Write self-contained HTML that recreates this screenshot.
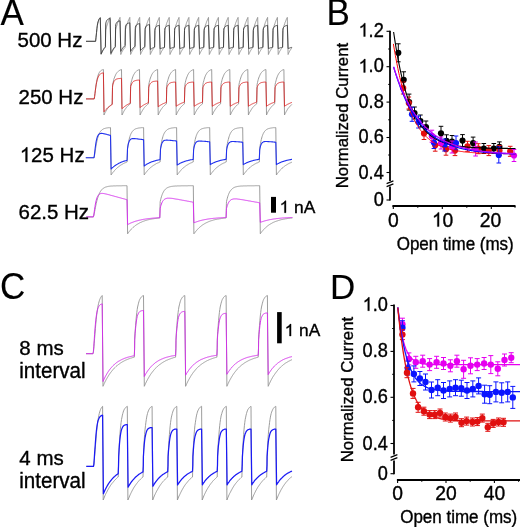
<!DOCTYPE html>
<html><head><meta charset="utf-8"><style>
html,body{margin:0;padding:0;background:#fff;}
svg{display:block;will-change:transform;}
text{font-family:"Liberation Sans", sans-serif;fill:#000;white-space:pre;stroke:#000;stroke-width:0.35px;}
.L{stroke-width:0.12px;}
</style></head><body>
<svg width="520" height="527" viewBox="0 0 520 527" xml:space="preserve">
<rect width="520" height="527" fill="#fff"/>
<path d="M86.0,41.3L95.6,41.3L96.0,37.9L96.5,33.6L96.9,29.7L97.3,26.4L97.7,23.9L98.2,22.0L98.6,20.5L99.0,19.3L99.4,18.5L99.9,17.9L100.3,17.4L101.1,54.5L101.5,53.5L102.0,52.6L102.4,51.7L102.8,50.9L103.3,50.2L103.7,49.5L104.1,48.9L104.6,48.3L105.0,47.8L105.4,47.3L105.7,30.9L105.9,29.2L106.3,27.7L106.7,26.3L107.1,24.9L107.6,23.6L108.0,22.4L108.4,21.3L108.9,20.2L109.3,19.2L109.7,18.3L110.1,17.4L110.9,54.5L111.4,53.5L111.8,52.6L112.2,51.7L112.7,50.9L113.1,50.2L113.5,49.5L114.0,48.9L114.4,48.3L114.8,47.8L115.3,47.3L115.6,30.9L115.7,29.2L116.1,27.7L116.6,26.3L117.0,24.9L117.4,23.6L117.8,22.4L118.3,21.3L118.7,20.2L119.1,19.2L119.6,18.3L120.0,17.4L120.8,54.5L121.2,53.5L121.6,52.6L122.1,51.7L122.5,50.9L122.9,50.2L123.4,49.5L123.8,48.9L124.3,48.3L124.7,47.8L125.1,47.3L125.4,30.9L125.5,29.2L126.0,27.7L126.4,26.3L126.8,24.9L127.3,23.6L127.7,22.4L128.1,21.3L128.5,20.2L129.0,19.2L129.4,18.3L129.8,17.4L130.6,54.5L131.1,53.5L131.5,52.6L131.9,51.7L132.4,50.9L132.8,50.2L133.2,49.5L133.7,48.9L134.1,48.3L134.5,47.8L135.0,47.3L135.3,30.9L135.4,29.2L135.8,27.7L136.2,26.3L136.7,24.9L137.1,23.6L137.5,22.4L138.0,21.3L138.4,20.2L138.8,19.2L139.2,18.3L139.7,17.4L140.5,54.5L140.9,53.5L141.3,52.6L141.8,51.7L142.2,50.9L142.6,50.2L143.1,49.5L143.5,48.9L143.9,48.3L144.4,47.8L144.8,47.3L145.1,30.9L145.2,29.2L145.7,27.7L146.1,26.3L146.5,24.9L146.9,23.6L147.4,22.4L147.8,21.3L148.2,20.2L148.6,19.2L149.1,18.3L149.5,17.4L150.3,54.5L150.7,53.5L151.2,52.6L151.6,51.7L152.0,50.9L152.5,50.2L152.9,49.5L153.3,48.9L153.8,48.3L154.2,47.8L154.6,47.3L154.9,30.9L155.1,29.2L155.5,27.7L155.9,26.3L156.3,24.9L156.8,23.6L157.2,22.4L157.6,21.3L158.1,20.2L158.5,19.2L158.9,18.3L159.3,17.4L160.1,54.5L160.6,53.5L161.0,52.6L161.4,51.7L161.9,50.9L162.3,50.2L162.7,49.5L163.2,48.9L163.6,48.3L164.0,47.8L164.5,47.3L164.8,30.9L164.9,29.2L165.3,27.7L165.8,26.3L166.2,24.9L166.6,23.6L167.0,22.4L167.5,21.3L167.9,20.2L168.3,19.2L168.8,18.3L169.2,17.4L170.0,54.5L170.4,53.5L170.8,52.6L171.3,51.7L171.7,50.9L172.1,50.2L172.6,49.5L173.0,48.9L173.5,48.3L173.9,47.8L174.3,47.3L174.6,30.9L174.7,29.2L175.2,27.7L175.6,26.3L176.0,24.9L176.5,23.6L176.9,22.4L177.3,21.3L177.7,20.2L178.2,19.2L178.6,18.3L179.0,17.4L179.8,54.5L180.3,53.5L180.7,52.6L181.1,51.7L181.6,50.9L182.0,50.2L182.4,49.5L182.9,48.9L183.3,48.3L183.7,47.8L184.2,47.3L184.5,30.9L184.6,29.2L185.0,27.7L185.4,26.3L185.9,24.9L186.3,23.6L186.7,22.4L187.2,21.3L187.6,20.2L188.0,19.2L188.4,18.3L188.9,17.4L189.7,54.5L190.1,53.5L190.5,52.6L191.0,51.7L191.4,50.9L191.8,50.2L192.3,49.5L192.7,48.9L193.1,48.3L193.6,47.8L194.0,47.3L194.3,30.9L194.4,29.2L194.9,27.7L195.3,26.3L195.7,24.9L196.1,23.6L196.6,22.4L197.0,21.3L197.4,20.2L197.8,19.2L198.3,18.3L198.7,17.4L199.5,54.5L199.9,53.5L200.4,52.6L200.8,51.7L201.2,50.9L201.7,50.2L202.1,49.5L202.5,48.9L203.0,48.3L203.4,47.8L203.8,47.3L204.1,30.9L204.3,29.2L204.7,27.7L205.1,26.3L205.5,24.9L206.0,23.6L206.4,22.4L206.8,21.3L207.3,20.2L207.7,19.2L208.1,18.3L208.5,17.4L209.3,54.5L209.8,53.5L210.2,52.6L210.6,51.7L211.1,50.9L211.5,50.2L211.9,49.5L212.4,48.9L212.8,48.3L213.2,47.8L213.7,47.3L214.0,30.9L214.1,29.2L214.5,27.7L215.0,26.3L215.4,24.9L215.8,23.6L216.2,22.4L216.7,21.3L217.1,20.2L217.5,19.2L218.0,18.3L218.4,17.4L219.2,54.5L219.6,53.5L220.0,52.6L220.5,51.7L220.9,50.9L221.3,50.2L221.8,49.5L222.2,48.9L222.7,48.3L223.1,47.8L223.5,47.3L223.8,30.9L223.9,29.2L224.4,27.7L224.8,26.3L225.2,24.9L225.7,23.6L226.1,22.4L226.5,21.3L226.9,20.2L227.4,19.2L227.8,18.3L228.2,17.4L229.0,54.5L229.5,53.5L229.9,52.6L230.3,51.7L230.8,50.9L231.2,50.2L231.6,49.5L232.1,48.9L232.5,48.3L232.9,47.8L233.4,47.3L233.7,30.9L233.8,29.2L234.2,27.7L234.6,26.3L235.1,24.9L235.5,23.6L235.9,22.4L236.4,21.3L236.8,20.2L237.2,19.2L237.6,18.3L238.1,17.4L238.9,54.5L239.3,53.5L239.7,52.6L240.2,51.7L240.6,50.9L241.0,50.2L241.5,49.5L241.9,48.9L242.3,48.3L242.8,47.8L243.2,47.3L243.5,30.9L243.6,29.2L244.1,27.7L244.5,26.3L244.9,24.9L245.3,23.6L245.8,22.4L246.2,21.3L246.6,20.2L247.0,19.2L247.5,18.3L247.9,17.4L248.7,54.5L249.1,53.5L249.6,52.6L250.0,51.7L250.4,50.9L250.9,50.2L251.3,49.5L251.7,48.9L252.2,48.3L252.6,47.8L253.0,47.3L253.3,30.9L253.5,29.2L253.9,27.7L254.3,26.3L254.7,24.9L255.2,23.6L255.6,22.4L256.0,21.3L256.5,20.2L256.9,19.2L257.3,18.3L257.7,17.4L258.5,54.5L259.0,53.5L259.4,52.6L259.8,51.7L260.3,50.9L260.7,50.2L261.1,49.5L261.6,48.9L262.0,48.3L262.4,47.8L262.9,47.3L263.2,30.9L263.3,29.2L263.7,27.7L264.2,26.3L264.6,24.9L265.0,23.6L265.4,22.4L265.9,21.3L266.3,20.2L266.7,19.2L267.2,18.3L267.6,17.4L268.4,54.5L268.8,53.5L269.2,52.6L269.7,51.7L270.1,50.9L270.6,50.2L271.0,49.5L271.4,48.9L271.9,48.3L272.3,47.8L272.7,47.3L273.0,30.9L273.1,29.2L273.6,27.7L274.0,26.3L274.4,24.9L274.9,23.6L275.3,22.4L275.7,21.3L276.1,20.2L276.6,19.2L277.0,18.3L277.4,17.4L278.2,54.5L278.7,53.5L279.1,52.6L279.5,51.7L280.0,50.9L280.4,50.2L280.8,49.5L281.3,48.9L281.7,48.3L282.1,47.8L282.6,47.3L282.9,30.9L283.0,29.2L283.4,27.7L283.8,26.3L284.3,24.9L284.7,23.6L285.1,22.4L285.6,21.3L286.0,20.2L286.4,19.2L286.8,18.3L287.3,17.4L288.1,54.5L288.5,53.5L288.9,52.6L289.4,51.7L289.8,50.9L290.2,50.2L290.7,49.5L291.1,48.9L291.6,48.3L292.0,47.7" fill="none" stroke="#929292" stroke-width="0.9" stroke-linejoin="round" opacity="1.0"/>
<path d="M86.0,41.3L95.6,41.3L96.0,37.3L96.5,32.5L96.9,28.5L97.3,25.4L97.7,23.1L98.2,21.4L98.6,20.2L99.0,19.3L99.4,18.7L99.9,18.2L100.3,17.9L101.1,53.9L101.5,52.9L102.0,52.0L102.4,51.1L102.8,50.3L103.3,49.6L103.7,48.9L104.1,48.3L104.6,47.8L105.0,47.2L105.4,46.8L105.7,25.0L105.9,22.8L106.3,21.5L106.7,20.6L107.1,20.0L107.6,19.5L108.0,19.2L108.4,19.0L108.9,18.8L109.3,18.7L109.7,18.5L110.1,18.4L110.9,53.4L111.4,52.4L111.8,51.5L112.2,50.7L112.7,50.0L113.1,49.3L113.5,48.6L114.0,48.0L114.4,47.5L114.8,47.0L115.3,46.6L115.6,26.8L115.7,24.8L116.1,23.6L116.6,22.8L117.0,22.2L117.4,21.8L117.8,21.5L118.3,21.3L118.7,21.2L119.1,21.0L119.6,20.9L120.0,20.8L120.8,51.4L121.2,50.6L121.6,49.8L122.1,49.1L122.5,48.4L122.9,47.8L123.4,47.3L123.8,46.8L124.3,46.3L124.7,45.9L125.1,45.5L125.4,27.9L125.5,26.2L126.0,25.1L126.4,24.4L126.8,23.9L127.3,23.6L127.7,23.4L128.1,23.2L128.5,23.1L129.0,23.0L129.4,22.9L129.8,22.8L130.6,51.4L131.1,50.7L131.5,50.0L131.9,49.4L132.4,48.9L132.8,48.3L133.2,47.8L133.7,47.4L134.1,47.0L134.5,46.6L135.0,46.2L135.3,28.8L135.4,27.2L135.8,26.0L136.2,25.3L136.7,24.8L137.1,24.5L137.5,24.2L138.0,24.0L138.4,23.9L138.8,23.7L139.2,23.6L139.7,23.5L140.5,50.5L140.9,50.0L141.3,49.6L141.8,49.1L142.2,48.7L142.6,48.3L143.1,47.9L143.5,47.6L143.9,47.3L144.4,46.9L144.8,46.6L145.1,29.7L145.2,28.1L145.7,27.0L146.1,26.3L146.5,25.8L146.9,25.5L147.4,25.2L147.8,25.0L148.2,24.9L148.6,24.7L149.1,24.6L149.5,24.5L150.3,49.5L150.7,49.2L151.2,48.9L151.6,48.7L152.0,48.4L152.5,48.1L152.9,47.9L153.3,47.7L153.8,47.4L154.2,47.2L154.6,47.0L154.9,30.4L155.1,28.8L155.5,27.8L155.9,27.1L156.3,26.6L156.8,26.2L157.2,26.0L157.6,25.8L158.1,25.7L158.5,25.5L158.9,25.4L159.3,25.3L160.1,48.8L160.6,48.6L161.0,48.5L161.4,48.3L161.9,48.2L162.3,48.0L162.7,47.9L163.2,47.7L163.6,47.6L164.0,47.5L164.5,47.3L164.8,30.5L164.9,28.9L165.3,27.8L165.8,27.1L166.2,26.6L166.6,26.3L167.0,26.0L167.5,25.8L167.9,25.7L168.3,25.5L168.8,25.4L169.2,25.3L170.0,48.6L170.4,48.4L170.8,48.3L171.3,48.1L171.7,48.0L172.1,47.8L172.6,47.7L173.0,47.6L173.5,47.4L173.9,47.3L174.3,47.2L174.6,30.5L174.7,28.8L175.2,27.8L175.6,27.1L176.0,26.6L176.5,26.3L176.9,26.0L177.3,25.8L177.7,25.7L178.2,25.5L178.6,25.4L179.0,25.3L179.8,48.6L180.3,48.4L180.7,48.3L181.1,48.1L181.6,48.0L182.0,47.8L182.4,47.7L182.9,47.6L183.3,47.4L183.7,47.3L184.2,47.2L184.5,30.5L184.6,28.8L185.0,27.8L185.4,27.1L185.9,26.6L186.3,26.3L186.7,26.0L187.2,25.8L187.6,25.7L188.0,25.5L188.4,25.4L188.9,25.3L189.7,48.6L190.1,48.4L190.5,48.3L191.0,48.1L191.4,48.0L191.8,47.8L192.3,47.7L192.7,47.6L193.1,47.4L193.6,47.3L194.0,47.2L194.3,30.5L194.4,28.8L194.9,27.8L195.3,27.1L195.7,26.6L196.1,26.3L196.6,26.0L197.0,25.8L197.4,25.7L197.8,25.5L198.3,25.4L198.7,25.3L199.5,48.6L199.9,48.4L200.4,48.3L200.8,48.1L201.2,48.0L201.7,47.8L202.1,47.7L202.5,47.6L203.0,47.4L203.4,47.3L203.8,47.2L204.1,30.5L204.3,28.8L204.7,27.8L205.1,27.1L205.5,26.6L206.0,26.3L206.4,26.0L206.8,25.8L207.3,25.7L207.7,25.5L208.1,25.4L208.5,25.3L209.3,48.6L209.8,48.4L210.2,48.3L210.6,48.1L211.1,48.0L211.5,47.8L211.9,47.7L212.4,47.6L212.8,47.4L213.2,47.3L213.7,47.2L214.0,30.5L214.1,28.8L214.5,27.8L215.0,27.1L215.4,26.6L215.8,26.3L216.2,26.0L216.7,25.8L217.1,25.7L217.5,25.5L218.0,25.4L218.4,25.3L219.2,48.6L219.6,48.4L220.0,48.3L220.5,48.1L220.9,48.0L221.3,47.8L221.8,47.7L222.2,47.6L222.7,47.4L223.1,47.3L223.5,47.2L223.8,30.5L223.9,28.8L224.4,27.8L224.8,27.1L225.2,26.6L225.7,26.3L226.1,26.0L226.5,25.8L226.9,25.7L227.4,25.5L227.8,25.4L228.2,25.3L229.0,48.6L229.5,48.4L229.9,48.3L230.3,48.1L230.8,48.0L231.2,47.8L231.6,47.7L232.1,47.6L232.5,47.4L232.9,47.3L233.4,47.2L233.7,30.5L233.8,28.8L234.2,27.8L234.6,27.1L235.1,26.6L235.5,26.3L235.9,26.0L236.4,25.8L236.8,25.7L237.2,25.5L237.6,25.4L238.1,25.3L238.9,48.6L239.3,48.4L239.7,48.3L240.2,48.1L240.6,48.0L241.0,47.8L241.5,47.7L241.9,47.6L242.3,47.4L242.8,47.3L243.2,47.2L243.5,30.5L243.6,28.8L244.1,27.8L244.5,27.1L244.9,26.6L245.3,26.3L245.8,26.0L246.2,25.8L246.6,25.7L247.0,25.5L247.5,25.4L247.9,25.3L248.7,48.6L249.1,48.4L249.6,48.3L250.0,48.1L250.4,48.0L250.9,47.8L251.3,47.7L251.7,47.6L252.2,47.4L252.6,47.3L253.0,47.2L253.3,30.5L253.5,28.8L253.9,27.8L254.3,27.1L254.7,26.6L255.2,26.3L255.6,26.0L256.0,25.8L256.5,25.7L256.9,25.5L257.3,25.4L257.7,25.3L258.5,48.6L259.0,48.4L259.4,48.3L259.8,48.1L260.3,48.0L260.7,47.8L261.1,47.7L261.6,47.6L262.0,47.4L262.4,47.3L262.9,47.2L263.2,30.5L263.3,28.8L263.7,27.8L264.2,27.1L264.6,26.6L265.0,26.3L265.4,26.0L265.9,25.8L266.3,25.7L266.7,25.5L267.2,25.4L267.6,25.3L268.4,48.6L268.8,48.4L269.2,48.3L269.7,48.1L270.1,48.0L270.6,47.8L271.0,47.7L271.4,47.6L271.9,47.4L272.3,47.3L272.7,47.2L273.0,30.5L273.1,28.8L273.6,27.8L274.0,27.1L274.4,26.6L274.9,26.3L275.3,26.0L275.7,25.8L276.1,25.7L276.6,25.5L277.0,25.4L277.4,25.3L278.2,48.6L278.7,48.4L279.1,48.3L279.5,48.1L280.0,48.0L280.4,47.8L280.8,47.7L281.3,47.6L281.7,47.4L282.1,47.3L282.6,47.2L282.9,30.5L283.0,28.8L283.4,27.8L283.8,27.1L284.3,26.6L284.7,26.3L285.1,26.0L285.6,25.8L286.0,25.7L286.4,25.5L286.8,25.4L287.3,25.3L288.1,48.6L288.5,48.4L288.9,48.3L289.4,48.1L289.8,48.0L290.2,47.8L290.7,47.7L291.1,47.6L291.6,47.4L292.0,47.3" fill="none" stroke="#3a3a3a" stroke-width="0.9" stroke-linejoin="round" opacity="1.0"/>
<path d="M86.0,98.9L94.2,98.9L94.6,96.6L95.0,93.3L95.4,90.0L95.8,86.8L96.2,84.0L96.6,81.6L97.0,79.5L97.4,77.8L97.8,76.3L98.2,75.0L98.6,74.0L99.0,73.1L99.4,72.4L99.8,71.8L100.2,71.3L100.6,70.9L101.0,70.6L101.4,70.3L101.8,70.1L102.2,69.9L102.6,69.7L103.0,69.6L103.4,69.5L104.0,115.0L104.4,114.1L104.8,113.2L105.2,112.4L105.7,111.6L106.1,110.9L106.5,110.2L106.9,109.6L107.3,108.9L107.7,108.4L108.1,107.8L108.5,107.3L109.0,106.8L109.4,106.4L109.8,106.0L110.2,105.6L110.6,105.2L111.0,104.8L111.4,104.5L111.8,104.2L112.2,103.9L112.5,86.7L112.7,84.5L113.0,82.7L113.5,81.0L113.8,79.5L114.2,78.2L114.7,77.1L115.0,76.1L115.5,75.2L115.8,74.4L116.2,73.7L116.7,73.1L117.0,72.6L117.5,72.1L117.9,71.7L118.2,71.3L118.7,71.0L119.0,70.7L119.5,70.4L119.9,70.2L120.2,70.0L120.7,69.8L121.0,69.6L121.5,69.5L122.0,115.0L122.5,114.1L122.9,113.2L123.3,112.4L123.7,111.6L124.1,110.9L124.5,110.2L124.9,109.6L125.4,108.9L125.8,108.4L126.2,107.8L126.6,107.3L127.0,106.8L127.4,106.4L127.8,106.0L128.2,105.6L128.7,105.2L129.1,104.8L129.5,104.5L129.9,104.2L130.3,103.9L130.6,86.7L130.7,84.5L131.1,82.5L131.6,80.8L132.0,79.3L132.4,78.0L132.8,76.8L133.2,75.8L133.6,74.9L134.1,74.1L134.5,73.4L134.9,72.8L135.3,72.3L135.7,71.8L136.2,71.4L136.6,71.1L137.0,70.7L137.4,70.5L137.8,70.2L138.2,70.0L138.7,69.8L139.1,69.6L139.5,69.5L140.1,115.0L140.5,114.1L140.9,113.2L141.3,112.4L141.8,111.6L142.2,110.9L142.6,110.2L143.0,109.6L143.4,108.9L143.8,108.4L144.2,107.8L144.6,107.3L145.1,106.8L145.5,106.4L145.9,106.0L146.3,105.6L146.7,105.2L147.1,104.8L147.5,104.5L147.9,104.2L148.4,103.9L148.7,86.7L148.8,84.5L149.2,82.5L149.6,80.8L150.0,79.3L150.4,78.0L150.9,76.8L151.3,75.8L151.7,74.9L152.1,74.1L152.5,73.4L153.0,72.8L153.4,72.3L153.8,71.8L154.2,71.4L154.6,71.1L155.0,70.7L155.5,70.5L155.9,70.2L156.3,70.0L156.7,69.8L157.1,69.6L157.6,69.5L158.2,115.0L158.6,114.1L159.0,113.2L159.4,112.4L159.8,111.6L160.2,110.9L160.6,110.2L161.0,109.6L161.5,108.9L161.9,108.4L162.3,107.8L162.7,107.3L163.1,106.8L163.5,106.4L163.9,106.0L164.3,105.6L164.8,105.2L165.2,104.8L165.6,104.5L166.0,104.2L166.4,103.9L166.7,86.7L166.8,84.5L167.2,82.5L167.7,80.8L168.1,79.3L168.5,78.0L168.9,76.8L169.3,75.8L169.7,74.9L170.2,74.1L170.6,73.4L171.0,72.8L171.4,72.3L171.8,71.8L172.3,71.4L172.7,71.1L173.1,70.7L173.5,70.5L173.9,70.2L174.3,70.0L174.8,69.8L175.2,69.6L175.6,69.5L176.2,115.0L176.6,114.1L177.0,113.2L177.4,112.4L177.8,111.6L178.3,110.9L178.7,110.2L179.1,109.6L179.5,108.9L179.9,108.4L180.3,107.8L180.7,107.3L181.1,106.8L181.6,106.4L182.0,106.0L182.4,105.6L182.8,105.2L183.2,104.8L183.6,104.5L184.0,104.2L184.4,103.9L184.8,86.7L184.9,84.5L185.3,82.5L185.7,80.8L186.1,79.3L186.5,78.0L187.0,76.8L187.4,75.8L187.8,74.9L188.2,74.1L188.6,73.4L189.0,72.8L189.5,72.3L189.9,71.8L190.3,71.4L190.7,71.1L191.1,70.7L191.6,70.5L192.0,70.2L192.4,70.0L192.8,69.8L193.2,69.6L193.6,69.5L194.2,115.0L194.7,114.1L195.1,113.2L195.5,112.4L195.9,111.6L196.3,110.9L196.7,110.2L197.1,109.6L197.5,108.9L198.0,108.4L198.4,107.8L198.8,107.3L199.2,106.8L199.6,106.4L200.0,106.0L200.4,105.6L200.8,105.2L201.3,104.8L201.7,104.5L202.1,104.2L202.5,103.9L202.8,86.7L202.9,84.5L203.3,82.5L203.8,80.8L204.2,79.3L204.6,78.0L205.0,76.8L205.4,75.8L205.8,74.9L206.3,74.1L206.7,73.4L207.1,72.8L207.5,72.3L207.9,71.8L208.4,71.4L208.8,71.1L209.2,70.7L209.6,70.5L210.0,70.2L210.4,70.0L210.9,69.8L211.3,69.6L211.7,69.5L212.3,115.0L212.7,114.1L213.1,113.2L213.5,112.4L213.9,111.6L214.4,110.9L214.8,110.2L215.2,109.6L215.6,108.9L216.0,108.4L216.4,107.8L216.8,107.3L217.2,106.8L217.7,106.4L218.1,106.0L218.5,105.6L218.9,105.2L219.3,104.8L219.7,104.5L220.1,104.2L220.6,103.9L220.9,86.7L221.0,84.5L221.4,82.5L221.8,80.8L222.2,79.3L222.6,78.0L223.1,76.8L223.5,75.8L223.9,74.9L224.3,74.1L224.7,73.4L225.2,72.8L225.6,72.3L226.0,71.8L226.4,71.4L226.8,71.1L227.2,70.7L227.7,70.5L228.1,70.2L228.5,70.0L228.9,69.8L229.3,69.6L229.8,69.5L230.3,115.0L230.8,114.1L231.2,113.2L231.6,112.4L232.0,111.6L232.4,110.9L232.8,110.2L233.2,109.6L233.7,108.9L234.1,108.4L234.5,107.8L234.9,107.3L235.3,106.8L235.7,106.4L236.1,106.0L236.5,105.6L237.0,105.2L237.4,104.8L237.8,104.5L238.2,104.2L238.6,103.9L238.9,86.7L239.0,84.5L239.4,82.5L239.9,80.8L240.3,79.3L240.7,78.0L241.1,76.8L241.5,75.8L241.9,74.9L242.4,74.1L242.8,73.4L243.2,72.8L243.6,72.3L244.0,71.8L244.5,71.4L244.9,71.1L245.3,70.7L245.7,70.5L246.1,70.2L246.5,70.0L247.0,69.8L247.4,69.6L247.8,69.5L248.4,115.0L248.8,114.1L249.2,113.2L249.6,112.4L250.1,111.6L250.5,110.9L250.9,110.2L251.3,109.6L251.7,108.9L252.1,108.4L252.5,107.8L252.9,107.3L253.4,106.8L253.8,106.4L254.2,106.0L254.6,105.6L255.0,105.2L255.4,104.8L255.8,104.5L256.2,104.2L256.7,103.9L257.0,86.7L257.1,84.5L257.5,82.5L257.9,80.8L258.3,79.3L258.7,78.0L259.2,76.8L259.6,75.8L260.0,74.9L260.4,74.1L260.8,73.4L261.2,72.8L261.7,72.3L262.1,71.8L262.5,71.4L262.9,71.1L263.3,70.7L263.8,70.5L264.2,70.2L264.6,70.0L265.0,69.8L265.4,69.6L265.9,69.5L266.5,115.0L266.9,114.1L267.3,113.2L267.7,112.4L268.1,111.6L268.5,110.9L268.9,110.2L269.3,109.6L269.8,108.9L270.2,108.4L270.6,107.8L271.0,107.3L271.4,106.8L271.8,106.4L272.2,106.0L272.6,105.6L273.1,105.2L273.5,104.8L273.9,104.5L274.3,104.2L274.7,103.9L275.0,86.7L275.1,84.5L275.5,82.5L276.0,80.8L276.4,79.3L276.8,78.0L277.2,76.8L277.6,75.8L278.0,74.9L278.5,74.1L278.9,73.4L279.3,72.8L279.7,72.3L280.1,71.8L280.6,71.4L281.0,71.1L281.4,70.7L281.8,70.5L282.2,70.2L282.6,70.0L283.1,69.8L283.5,69.6L283.9,69.5L284.5,115.0L284.9,114.1L285.3,113.2L285.8,112.4L286.2,111.6L286.6,110.9L287.0,110.2L287.4,109.5L287.8,108.9L288.2,108.3L288.7,107.8L289.1,107.3L289.5,106.8L289.9,106.3L290.3,105.9L290.8,105.5L291.2,105.1L291.6,104.8L292.0,104.4" fill="none" stroke="#929292" stroke-width="0.9" stroke-linejoin="round" opacity="1.0"/>
<path d="M86.0,98.9L94.2,98.9L94.6,96.6L95.0,93.4L95.4,90.2L95.8,87.3L96.2,84.7L96.6,82.6L97.0,80.8L97.4,79.2L97.8,78.0L98.2,77.0L98.6,76.1L99.0,75.5L99.4,74.9L99.8,74.5L100.2,74.1L100.6,73.8L101.0,73.6L101.4,73.4L101.8,73.2L102.2,73.1L102.6,73.0L103.0,72.9L103.4,72.8L104.0,111.8L104.4,111.3L104.8,110.8L105.2,110.3L105.7,109.8L106.1,109.4L106.5,109.0L106.9,108.6L107.3,108.2L107.7,107.8L108.1,107.4L108.5,107.1L109.0,106.8L109.4,106.4L109.8,106.1L110.2,105.8L110.6,105.6L111.0,105.3L111.4,105.0L111.8,104.8L112.2,104.6L112.5,87.4L112.7,85.4L113.0,83.9L113.5,82.8L113.8,81.8L114.2,81.1L114.7,80.5L115.0,80.1L115.5,79.7L115.8,79.4L116.2,79.2L116.7,79.0L117.0,78.9L117.5,78.8L117.9,78.7L118.2,78.6L118.7,78.6L119.0,78.5L119.5,78.5L119.9,78.5L120.2,78.4L120.7,78.4L121.0,78.4L121.5,78.4L122.0,108.7L122.5,108.3L122.9,107.9L123.3,107.6L123.7,107.2L124.1,106.9L124.5,106.6L124.9,106.2L125.4,105.9L125.8,105.7L126.2,105.4L126.6,105.1L127.0,104.9L127.4,104.6L127.8,104.4L128.2,104.2L128.7,104.0L129.1,103.8L129.5,103.6L129.9,103.4L130.3,103.2L130.6,88.2L130.7,86.5L131.1,85.1L131.6,84.0L132.0,83.2L132.4,82.5L132.8,82.0L133.2,81.6L133.6,81.3L134.1,81.1L134.5,80.9L134.9,80.7L135.3,80.6L135.7,80.5L136.2,80.4L136.6,80.3L137.0,80.2L137.4,80.2L137.8,80.1L138.2,80.1L138.7,80.1L139.1,80.0L139.5,80.0L140.1,107.6L140.5,107.2L140.9,106.9L141.3,106.6L141.8,106.3L142.2,106.0L142.6,105.7L143.0,105.4L143.4,105.2L143.8,104.9L144.2,104.7L144.6,104.4L145.1,104.2L145.5,104.0L145.9,103.8L146.3,103.6L146.7,103.4L147.1,103.2L147.5,103.0L147.9,102.9L148.4,102.7L148.7,88.7L148.8,87.1L149.2,85.8L149.6,84.8L150.0,84.0L150.4,83.4L150.9,82.9L151.3,82.5L151.7,82.3L152.1,82.0L152.5,81.8L153.0,81.7L153.4,81.5L153.8,81.4L154.2,81.4L154.6,81.3L155.0,81.2L155.5,81.2L155.9,81.1L156.3,81.1L156.7,81.1L157.1,81.0L157.6,81.0L158.2,106.8L158.6,106.5L159.0,106.2L159.4,105.9L159.8,105.6L160.2,105.3L160.6,105.1L161.0,104.8L161.5,104.6L161.9,104.3L162.3,104.1L162.7,103.9L163.1,103.7L163.5,103.5L163.9,103.3L164.3,103.2L164.8,103.0L165.2,102.8L165.6,102.7L166.0,102.5L166.4,102.4L166.7,89.3L166.8,87.7L167.2,86.5L167.7,85.6L168.1,84.9L168.5,84.3L168.9,83.8L169.3,83.5L169.7,83.2L170.2,83.0L170.6,82.8L171.0,82.6L171.4,82.5L171.8,82.4L172.3,82.4L172.7,82.3L173.1,82.2L173.5,82.2L173.9,82.1L174.3,82.1L174.8,82.1L175.2,82.0L175.6,82.0L176.2,106.3L176.6,106.0L177.0,105.7L177.4,105.4L177.8,105.2L178.3,104.9L178.7,104.7L179.1,104.4L179.5,104.2L179.9,104.0L180.3,103.8L180.7,103.6L181.1,103.4L181.6,103.2L182.0,103.1L182.4,102.9L182.8,102.7L183.2,102.6L183.6,102.4L184.0,102.3L184.4,102.1L184.8,89.2L184.9,87.7L185.3,86.5L185.7,85.5L186.1,84.8L186.5,84.3L187.0,83.8L187.4,83.5L187.8,83.2L188.2,83.0L188.6,82.8L189.0,82.6L189.5,82.5L189.9,82.4L190.3,82.4L190.7,82.3L191.1,82.2L191.6,82.2L192.0,82.1L192.4,82.1L192.8,82.1L193.2,82.0L193.6,82.0L194.2,106.3L194.7,106.0L195.1,105.7L195.5,105.4L195.9,105.2L196.3,104.9L196.7,104.7L197.1,104.4L197.5,104.2L198.0,104.0L198.4,103.8L198.8,103.6L199.2,103.4L199.6,103.2L200.0,103.1L200.4,102.9L200.8,102.7L201.3,102.6L201.7,102.4L202.1,102.3L202.5,102.1L202.8,89.2L202.9,87.7L203.3,86.5L203.8,85.5L204.2,84.8L204.6,84.3L205.0,83.8L205.4,83.5L205.8,83.2L206.3,83.0L206.7,82.8L207.1,82.6L207.5,82.5L207.9,82.4L208.4,82.4L208.8,82.3L209.2,82.2L209.6,82.2L210.0,82.1L210.4,82.1L210.9,82.1L211.3,82.0L211.7,82.0L212.3,106.3L212.7,106.0L213.1,105.7L213.5,105.4L213.9,105.2L214.4,104.9L214.8,104.7L215.2,104.4L215.6,104.2L216.0,104.0L216.4,103.8L216.8,103.6L217.2,103.4L217.7,103.2L218.1,103.1L218.5,102.9L218.9,102.7L219.3,102.6L219.7,102.4L220.1,102.3L220.6,102.1L220.9,89.2L221.0,87.7L221.4,86.5L221.8,85.5L222.2,84.8L222.6,84.3L223.1,83.8L223.5,83.5L223.9,83.2L224.3,83.0L224.7,82.8L225.2,82.6L225.6,82.5L226.0,82.4L226.4,82.4L226.8,82.3L227.2,82.2L227.7,82.2L228.1,82.1L228.5,82.1L228.9,82.1L229.3,82.0L229.8,82.0L230.3,106.3L230.8,106.0L231.2,105.7L231.6,105.4L232.0,105.2L232.4,104.9L232.8,104.7L233.2,104.4L233.7,104.2L234.1,104.0L234.5,103.8L234.9,103.6L235.3,103.4L235.7,103.2L236.1,103.1L236.5,102.9L237.0,102.7L237.4,102.6L237.8,102.4L238.2,102.3L238.6,102.1L238.9,89.2L239.0,87.7L239.4,86.5L239.9,85.5L240.3,84.8L240.7,84.3L241.1,83.8L241.5,83.5L241.9,83.2L242.4,83.0L242.8,82.8L243.2,82.6L243.6,82.5L244.0,82.4L244.5,82.4L244.9,82.3L245.3,82.2L245.7,82.2L246.1,82.1L246.5,82.1L247.0,82.1L247.4,82.0L247.8,82.0L248.4,106.3L248.8,106.0L249.2,105.7L249.6,105.4L250.1,105.2L250.5,104.9L250.9,104.7L251.3,104.4L251.7,104.2L252.1,104.0L252.5,103.8L252.9,103.6L253.4,103.4L253.8,103.2L254.2,103.1L254.6,102.9L255.0,102.7L255.4,102.6L255.8,102.4L256.2,102.3L256.7,102.1L257.0,89.2L257.1,87.7L257.5,86.5L257.9,85.5L258.3,84.8L258.7,84.3L259.2,83.8L259.6,83.5L260.0,83.2L260.4,83.0L260.8,82.8L261.2,82.6L261.7,82.5L262.1,82.4L262.5,82.4L262.9,82.3L263.3,82.2L263.8,82.2L264.2,82.1L264.6,82.1L265.0,82.1L265.4,82.0L265.9,82.0L266.5,106.3L266.9,106.0L267.3,105.7L267.7,105.4L268.1,105.2L268.5,104.9L268.9,104.7L269.3,104.4L269.8,104.2L270.2,104.0L270.6,103.8L271.0,103.6L271.4,103.4L271.8,103.2L272.2,103.1L272.6,102.9L273.1,102.7L273.5,102.6L273.9,102.4L274.3,102.3L274.7,102.1L275.0,89.2L275.1,87.7L275.5,86.5L276.0,85.5L276.4,84.8L276.8,84.3L277.2,83.8L277.6,83.5L278.0,83.2L278.5,83.0L278.9,82.8L279.3,82.6L279.7,82.5L280.1,82.4L280.6,82.4L281.0,82.3L281.4,82.2L281.8,82.2L282.2,82.1L282.6,82.1L283.1,82.1L283.5,82.0L283.9,82.0L284.5,106.3L284.9,106.0L285.3,105.7L285.8,105.4L286.2,105.2L286.6,104.9L287.0,104.7L287.4,104.4L287.8,104.2L288.2,104.0L288.7,103.8L289.1,103.6L289.5,103.4L289.9,103.2L290.3,103.0L290.8,102.9L291.2,102.7L291.6,102.5L292.0,102.4" fill="none" stroke="#d92222" stroke-width="0.85" stroke-linejoin="round" opacity="1.0"/>
<path d="M85.8,157.7L94.0,157.7L94.4,156.1L94.8,153.7L95.2,151.0L95.6,148.5L96.0,146.0L96.4,143.8L96.8,141.8L97.2,140.0L97.6,138.4L98.0,137.0L98.4,135.8L98.8,134.7L99.2,133.7L99.6,132.9L100.0,132.2L100.4,131.6L100.8,131.0L101.2,130.6L101.6,130.2L102.0,129.8L102.5,129.5L102.9,129.2L103.3,129.0L103.7,128.8L104.1,128.7L104.5,128.5L104.9,128.4L105.3,128.3L105.7,128.2L106.1,128.1L106.5,128.0L106.9,127.9L107.3,127.9L107.7,127.8L108.1,127.8L108.5,127.7L108.9,127.7L109.3,127.7L109.7,127.7L110.1,127.6L110.5,127.6L111.1,175.0L111.5,174.4L111.9,173.8L112.3,173.2L112.7,172.7L113.1,172.2L113.6,171.7L114.0,171.2L114.4,170.7L114.8,170.3L115.2,169.8L115.6,169.4L116.0,169.0L116.4,168.6L116.8,168.2L117.2,167.8L117.6,167.5L118.1,167.1L118.5,166.8L118.9,166.5L119.3,166.2L119.7,165.9L120.1,165.6L120.5,165.3L120.9,165.1L121.3,164.8L121.7,164.6L122.1,164.3L122.6,164.1L123.0,163.9L123.4,163.6L123.8,163.4L124.2,163.2L124.6,163.0L125.0,162.9L125.4,162.7L125.8,162.5L126.2,162.3L126.7,162.2L127.1,162.0L127.4,151.8L127.5,148.6L127.9,145.8L128.3,143.4L128.7,141.3L129.1,139.5L129.5,138.0L129.9,136.6L130.3,135.4L130.7,134.4L131.1,133.5L131.5,132.8L131.9,132.1L132.3,131.5L132.7,131.0L133.1,130.6L133.5,130.2L133.9,129.9L134.3,129.6L134.7,129.3L135.1,129.1L135.5,128.9L135.9,128.7L136.3,128.6L136.7,128.5L137.1,128.4L137.5,128.3L137.9,128.2L138.3,128.1L138.7,128.0L139.1,128.0L139.5,127.9L139.9,127.9L140.3,127.8L140.7,127.8L141.1,127.7L141.5,127.7L142.0,127.7L142.4,127.7L142.8,127.6L143.2,127.6L143.6,127.6L144.2,175.0L144.6,174.4L145.0,173.8L145.4,173.2L145.8,172.7L146.2,172.2L146.6,171.7L147.0,171.2L147.4,170.7L147.8,170.3L148.3,169.8L148.7,169.4L149.1,169.0L149.5,168.6L149.9,168.2L150.3,167.8L150.7,167.5L151.1,167.1L151.5,166.8L151.9,166.5L152.3,166.2L152.8,165.9L153.2,165.6L153.6,165.3L154.0,165.1L154.4,164.8L154.8,164.6L155.2,164.3L155.6,164.1L156.0,163.9L156.4,163.6L156.8,163.4L157.3,163.2L157.7,163.0L158.1,162.9L158.5,162.7L158.9,162.5L159.3,162.3L159.7,162.2L160.1,162.0L160.4,151.8L160.5,148.6L160.9,145.8L161.3,143.4L161.7,141.3L162.1,139.5L162.5,138.0L162.9,136.6L163.3,135.4L163.7,134.4L164.1,133.5L164.5,132.8L164.9,132.1L165.4,131.5L165.8,131.0L166.2,130.6L166.6,130.2L167.0,129.9L167.4,129.6L167.8,129.3L168.2,129.1L168.6,128.9L169.0,128.7L169.4,128.6L169.8,128.5L170.2,128.4L170.6,128.3L171.0,128.2L171.4,128.1L171.8,128.0L172.2,128.0L172.6,127.9L173.0,127.9L173.4,127.8L173.8,127.8L174.2,127.7L174.6,127.7L175.0,127.7L175.4,127.7L175.8,127.6L176.2,127.6L176.6,127.6L177.2,175.0L177.6,174.4L178.0,173.8L178.4,173.2L178.9,172.7L179.3,172.2L179.7,171.7L180.1,171.2L180.5,170.7L180.9,170.3L181.3,169.8L181.7,169.4L182.1,169.0L182.5,168.6L182.9,168.2L183.4,167.8L183.8,167.5L184.2,167.1L184.6,166.8L185.0,166.5L185.4,166.2L185.8,165.9L186.2,165.6L186.6,165.3L187.0,165.1L187.5,164.8L187.9,164.6L188.3,164.3L188.7,164.1L189.1,163.9L189.5,163.6L189.9,163.4L190.3,163.2L190.7,163.0L191.1,162.9L191.5,162.7L192.0,162.5L192.4,162.3L192.8,162.2L193.2,162.0L193.5,151.8L193.6,148.6L194.0,145.8L194.4,143.4L194.8,141.3L195.2,139.5L195.6,138.0L196.0,136.6L196.4,135.4L196.8,134.4L197.2,133.5L197.6,132.8L198.0,132.1L198.4,131.5L198.8,131.0L199.2,130.6L199.6,130.2L200.0,129.9L200.4,129.6L200.8,129.3L201.2,129.1L201.6,128.9L202.0,128.7L202.4,128.6L202.8,128.5L203.2,128.4L203.6,128.3L204.0,128.2L204.4,128.1L204.9,128.0L205.3,128.0L205.7,127.9L206.1,127.9L206.5,127.8L206.9,127.8L207.3,127.7L207.7,127.7L208.1,127.7L208.5,127.7L208.9,127.6L209.3,127.6L209.7,127.6L210.3,175.0L210.7,174.4L211.1,173.8L211.5,173.2L211.9,172.7L212.3,172.2L212.7,171.7L213.1,171.2L213.6,170.7L214.0,170.3L214.4,169.8L214.8,169.4L215.2,169.0L215.6,168.6L216.0,168.2L216.4,167.8L216.8,167.5L217.2,167.1L217.6,166.8L218.1,166.5L218.5,166.2L218.9,165.9L219.3,165.6L219.7,165.3L220.1,165.1L220.5,164.8L220.9,164.6L221.3,164.3L221.7,164.1L222.1,163.9L222.6,163.6L223.0,163.4L223.4,163.2L223.8,163.0L224.2,162.9L224.6,162.7L225.0,162.5L225.4,162.3L225.8,162.2L226.2,162.0L226.5,151.8L226.6,148.6L227.0,145.8L227.4,143.4L227.8,141.3L228.3,139.5L228.7,138.0L229.1,136.6L229.5,135.4L229.9,134.4L230.3,133.5L230.7,132.8L231.1,132.1L231.5,131.5L231.9,131.0L232.3,130.6L232.7,130.2L233.1,129.9L233.5,129.6L233.9,129.3L234.3,129.1L234.7,128.9L235.1,128.7L235.5,128.6L235.9,128.5L236.3,128.4L236.7,128.3L237.1,128.2L237.5,128.1L237.9,128.0L238.3,128.0L238.7,127.9L239.1,127.9L239.5,127.8L239.9,127.8L240.3,127.7L240.7,127.7L241.1,127.7L241.5,127.7L241.9,127.6L242.3,127.6L242.7,127.6L243.3,175.0L243.7,174.4L244.2,173.8L244.6,173.2L245.0,172.7L245.4,172.2L245.8,171.7L246.2,171.2L246.6,170.7L247.0,170.3L247.4,169.8L247.8,169.4L248.3,169.0L248.7,168.6L249.1,168.2L249.5,167.8L249.9,167.5L250.3,167.1L250.7,166.8L251.1,166.5L251.5,166.2L251.9,165.9L252.3,165.6L252.8,165.3L253.2,165.1L253.6,164.8L254.0,164.6L254.4,164.3L254.8,164.1L255.2,163.9L255.6,163.6L256.0,163.4L256.4,163.2L256.8,163.0L257.3,162.9L257.7,162.7L258.1,162.5L258.5,162.3L258.9,162.2L259.3,162.0L259.6,151.8L259.7,148.6L260.1,145.8L260.5,143.4L260.9,141.3L261.3,139.5L261.7,138.0L262.1,136.6L262.5,135.4L262.9,134.4L263.3,133.5L263.7,132.8L264.1,132.1L264.5,131.5L264.9,131.0L265.3,130.6L265.7,130.2L266.1,129.9L266.5,129.6L266.9,129.3L267.3,129.1L267.8,128.9L268.2,128.7L268.6,128.6L269.0,128.5L269.4,128.4L269.8,128.3L270.2,128.2L270.6,128.1L271.0,128.0L271.4,128.0L271.8,127.9L272.2,127.9L272.6,127.8L273.0,127.8L273.4,127.7L273.8,127.7L274.2,127.7L274.6,127.7L275.0,127.6L275.4,127.6L275.8,127.6L276.4,175.0L276.8,174.4L277.2,173.8L277.6,173.2L278.0,172.7L278.5,172.2L278.9,171.7L279.3,171.2L279.7,170.7L280.1,170.2L280.5,169.8L280.9,169.4L281.3,169.0L281.7,168.6L282.1,168.2L282.6,167.8L283.0,167.5L283.4,167.1L283.8,166.8L284.2,166.5L284.6,166.2L285.0,165.9L285.4,165.6L285.8,165.3L286.3,165.0L286.7,164.8L287.1,164.5L287.5,164.3L287.9,164.1L288.3,163.8L288.7,163.6L289.1,163.4L289.5,163.2L289.9,163.0L290.4,162.8L290.8,162.7L291.2,162.5L291.6,162.3L292.0,162.2" fill="none" stroke="#929292" stroke-width="0.9" stroke-linejoin="round" opacity="1.0"/>
<path d="M85.8,157.7L94.0,157.7L94.4,155.1L94.8,151.5L95.2,148.0L95.6,145.0L96.0,142.4L96.4,140.4L96.8,138.7L97.2,137.3L97.6,136.3L98.0,135.5L98.4,134.9L98.8,134.4L99.2,134.1L99.6,133.8L100.0,133.6L100.4,133.5L100.8,133.5L101.2,133.4L101.6,133.4L102.0,133.4L102.5,133.5L102.9,133.5L103.3,133.6L103.7,133.7L104.1,133.8L104.5,133.9L104.9,134.0L105.3,134.0L105.7,134.1L106.1,134.2L106.5,134.3L106.9,134.4L107.3,134.6L107.7,134.7L108.1,134.8L108.5,134.9L108.9,135.0L109.3,135.1L109.7,135.2L110.1,135.3L110.5,135.4L111.1,169.0L111.5,168.6L111.9,168.2L112.3,167.8L112.7,167.4L113.1,167.1L113.6,166.7L114.0,166.4L114.4,166.1L114.8,165.8L115.2,165.5L115.6,165.2L116.0,164.9L116.4,164.7L116.8,164.4L117.2,164.2L117.6,163.9L118.1,163.7L118.5,163.5L118.9,163.3L119.3,163.1L119.7,162.9L120.1,162.7L120.5,162.5L120.9,162.3L121.3,162.2L121.7,162.0L122.1,161.8L122.6,161.7L123.0,161.5L123.4,161.4L123.8,161.3L124.2,161.1L124.6,161.0L125.0,160.9L125.4,160.8L125.8,160.7L126.2,160.6L126.7,160.4L127.1,160.3L127.4,152.4L127.5,148.9L127.9,146.2L128.3,144.2L128.7,142.7L129.1,141.6L129.5,140.7L129.9,140.1L130.3,139.6L130.7,139.3L131.1,139.0L131.5,138.8L131.9,138.7L132.3,138.6L132.7,138.6L133.1,138.6L133.5,138.6L133.9,138.6L134.3,138.6L134.7,138.6L135.1,138.6L135.5,138.7L135.9,138.7L136.3,138.8L136.7,138.8L137.1,138.9L137.5,138.9L137.9,139.0L138.3,139.0L138.7,139.1L139.1,139.1L139.5,139.2L139.9,139.2L140.3,139.3L140.7,139.3L141.1,139.4L141.5,139.4L142.0,139.5L142.4,139.5L142.8,139.6L143.2,139.6L143.6,139.7L144.2,166.0L144.6,165.7L145.0,165.4L145.4,165.1L145.8,164.9L146.2,164.6L146.6,164.3L147.0,164.1L147.4,163.9L147.8,163.6L148.3,163.4L148.7,163.2L149.1,163.0L149.5,162.8L149.9,162.6L150.3,162.5L150.7,162.3L151.1,162.1L151.5,161.9L151.9,161.8L152.3,161.6L152.8,161.5L153.2,161.4L153.6,161.2L154.0,161.1L154.4,161.0L154.8,160.9L155.2,160.7L155.6,160.6L156.0,160.5L156.4,160.4L156.8,160.3L157.3,160.2L157.7,160.1L158.1,160.0L158.5,160.0L158.9,159.9L159.3,159.8L159.7,159.7L160.1,159.6L160.4,152.5L160.5,149.4L160.9,147.1L161.3,145.3L161.7,143.9L162.1,142.9L162.5,142.2L162.9,141.6L163.3,141.1L163.7,140.8L164.1,140.6L164.5,140.4L164.9,140.3L165.4,140.2L165.8,140.2L166.2,140.1L166.6,140.1L167.0,140.1L167.4,140.1L167.8,140.2L168.2,140.2L168.6,140.2L169.0,140.2L169.4,140.3L169.8,140.3L170.2,140.4L170.6,140.4L171.0,140.4L171.4,140.5L171.8,140.5L172.2,140.5L172.6,140.6L173.0,140.6L173.4,140.7L173.8,140.7L174.2,140.8L174.6,140.8L175.0,140.8L175.4,140.9L175.8,140.9L176.2,141.0L176.6,141.0L177.2,165.0L177.6,164.7L178.0,164.5L178.4,164.2L178.9,164.0L179.3,163.8L179.7,163.5L180.1,163.3L180.5,163.1L180.9,162.9L181.3,162.7L181.7,162.5L182.1,162.4L182.5,162.2L182.9,162.0L183.4,161.9L183.8,161.7L184.2,161.6L184.6,161.4L185.0,161.3L185.4,161.2L185.8,161.0L186.2,160.9L186.6,160.8L187.0,160.7L187.5,160.6L187.9,160.5L188.3,160.4L188.7,160.3L189.1,160.2L189.5,160.1L189.9,160.0L190.3,159.9L190.7,159.8L191.1,159.8L191.5,159.7L192.0,159.6L192.4,159.5L192.8,159.5L193.2,159.4L193.5,152.7L193.6,149.8L194.0,147.6L194.4,145.9L194.8,144.6L195.2,143.7L195.6,143.0L196.0,142.4L196.4,142.0L196.8,141.7L197.2,141.5L197.6,141.3L198.0,141.2L198.4,141.1L198.8,141.1L199.2,141.1L199.6,141.0L200.0,141.0L200.4,141.1L200.8,141.1L201.2,141.1L201.6,141.1L202.0,141.1L202.4,141.2L202.8,141.2L203.2,141.2L203.6,141.3L204.0,141.3L204.4,141.3L204.9,141.4L205.3,141.4L205.7,141.4L206.1,141.5L206.5,141.5L206.9,141.5L207.3,141.6L207.7,141.6L208.1,141.7L208.5,141.7L208.9,141.7L209.3,141.8L209.7,141.8L210.3,164.6L210.7,164.3L211.1,164.1L211.5,163.9L211.9,163.6L212.3,163.4L212.7,163.2L213.1,163.0L213.6,162.8L214.0,162.6L214.4,162.5L214.8,162.3L215.2,162.1L215.6,162.0L216.0,161.8L216.4,161.6L216.8,161.5L217.2,161.4L217.6,161.2L218.1,161.1L218.5,161.0L218.9,160.9L219.3,160.7L219.7,160.6L220.1,160.5L220.5,160.4L220.9,160.3L221.3,160.2L221.7,160.1L222.1,160.0L222.6,160.0L223.0,159.9L223.4,159.8L223.8,159.7L224.2,159.6L224.6,159.6L225.0,159.5L225.4,159.4L225.8,159.4L226.2,159.3L226.5,152.8L226.6,150.0L227.0,147.9L227.4,146.2L227.8,145.0L228.3,144.1L228.7,143.4L229.1,142.8L229.5,142.4L229.9,142.2L230.3,141.9L230.7,141.8L231.1,141.7L231.5,141.6L231.9,141.5L232.3,141.5L232.7,141.5L233.1,141.5L233.5,141.5L233.9,141.5L234.3,141.5L234.7,141.6L235.1,141.6L235.5,141.6L235.9,141.6L236.3,141.7L236.7,141.7L237.1,141.7L237.5,141.8L237.9,141.8L238.3,141.8L238.7,141.9L239.1,141.9L239.5,141.9L239.9,142.0L240.3,142.0L240.7,142.0L241.1,142.1L241.5,142.1L241.9,142.1L242.3,142.2L242.7,142.2L243.3,164.6L243.7,164.3L244.2,164.1L244.6,163.9L245.0,163.6L245.4,163.4L245.8,163.2L246.2,163.0L246.6,162.8L247.0,162.6L247.4,162.5L247.8,162.3L248.3,162.1L248.7,162.0L249.1,161.8L249.5,161.6L249.9,161.5L250.3,161.4L250.7,161.2L251.1,161.1L251.5,161.0L251.9,160.9L252.3,160.7L252.8,160.6L253.2,160.5L253.6,160.4L254.0,160.3L254.4,160.2L254.8,160.1L255.2,160.0L255.6,160.0L256.0,159.9L256.4,159.8L256.8,159.7L257.3,159.6L257.7,159.6L258.1,159.5L258.5,159.4L258.9,159.4L259.3,159.3L259.6,152.8L259.7,150.0L260.1,147.9L260.5,146.2L260.9,145.0L261.3,144.1L261.7,143.4L262.1,142.8L262.5,142.4L262.9,142.2L263.3,141.9L263.7,141.8L264.1,141.7L264.5,141.6L264.9,141.5L265.3,141.5L265.7,141.5L266.1,141.5L266.5,141.5L266.9,141.5L267.3,141.5L267.8,141.6L268.2,141.6L268.6,141.6L269.0,141.6L269.4,141.7L269.8,141.7L270.2,141.7L270.6,141.8L271.0,141.8L271.4,141.8L271.8,141.9L272.2,141.9L272.6,141.9L273.0,142.0L273.4,142.0L273.8,142.0L274.2,142.1L274.6,142.1L275.0,142.1L275.4,142.2L275.8,142.2L276.4,164.6L276.8,164.3L277.2,164.1L277.6,163.9L278.0,163.6L278.5,163.4L278.9,163.2L279.3,163.0L279.7,162.8L280.1,162.6L280.5,162.5L280.9,162.3L281.3,162.1L281.7,161.9L282.1,161.8L282.6,161.6L283.0,161.5L283.4,161.4L283.8,161.2L284.2,161.1L284.6,161.0L285.0,160.9L285.4,160.7L285.8,160.6L286.3,160.5L286.7,160.4L287.1,160.3L287.5,160.2L287.9,160.1L288.3,160.0L288.7,160.0L289.1,159.9L289.5,159.8L289.9,159.7L290.4,159.6L290.8,159.6L291.2,159.5L291.6,159.4L292.0,159.4" fill="none" stroke="#2233ee" stroke-width="1.1" stroke-linejoin="round" opacity="1.0"/>
<path d="M86.3,216.9L93.4,216.9L93.8,215.7L94.2,213.8L94.6,211.7L95.0,209.6L95.4,207.5L95.8,205.5L96.2,203.6L96.6,201.8L97.0,200.2L97.4,198.8L97.9,197.4L98.3,196.2L98.7,195.1L99.1,194.1L99.5,193.2L99.9,192.4L100.3,191.7L100.7,191.1L101.1,190.5L101.5,190.0L101.9,189.5L102.3,189.1L102.7,188.8L103.1,188.4L103.5,188.2L103.9,187.9L104.3,187.7L104.7,187.5L105.1,187.3L105.5,187.1L105.9,187.0L106.4,186.9L106.8,186.7L107.2,186.6L107.6,186.6L108.0,186.5L108.4,186.4L108.8,186.3L109.2,186.3L109.6,186.2L110.0,186.2L110.4,186.1L110.8,186.1L111.2,186.1L111.6,186.0L112.0,186.0L112.4,186.0L112.8,186.0L113.2,185.9L113.6,185.9L114.0,185.9L114.5,185.9L114.9,185.9L115.3,185.9L115.7,185.9L116.1,185.8L116.5,185.8L116.9,185.8L117.3,185.8L117.7,185.8L118.1,185.8L118.5,185.8L118.9,185.8L119.3,185.8L119.7,185.8L120.1,185.8L120.5,185.8L120.9,185.8L121.3,185.8L121.7,185.8L122.1,185.8L122.5,185.7L123.0,185.7L123.4,185.7L123.8,185.7L124.2,185.7L124.6,185.7L125.0,185.7L125.4,185.7L125.8,185.7L126.2,185.7L126.6,185.7L127.0,185.7L127.6,233.8L128.0,233.2L128.4,232.7L128.8,232.1L129.2,231.6L129.6,231.1L130.0,230.7L130.4,230.2L130.8,229.7L131.2,229.3L131.6,228.9L132.0,228.5L132.4,228.1L132.8,227.7L133.2,227.3L133.6,227.0L134.0,226.7L134.4,226.3L134.8,226.0L135.2,225.7L135.6,225.4L136.0,225.1L136.4,224.8L136.8,224.6L137.2,224.3L137.6,224.1L138.0,223.8L138.5,223.6L138.9,223.4L139.3,223.1L139.7,222.9L140.1,222.7L140.5,222.5L140.9,222.3L141.3,222.2L141.7,222.0L142.1,221.8L142.5,221.6L142.9,221.5L143.3,221.3L143.7,221.2L144.1,221.0L144.5,220.9L144.9,220.8L145.3,220.6L145.7,220.5L146.1,220.4L146.5,220.3L146.9,220.1L147.3,220.0L147.7,219.9L148.1,219.8L148.5,219.7L148.9,219.6L149.3,219.5L149.7,219.5L150.1,219.4L150.5,219.3L150.9,219.2L151.3,219.1L151.7,219.1L152.1,219.0L152.5,218.9L152.9,218.8L153.3,218.8L153.7,218.7L154.1,218.7L154.5,218.6L154.9,218.5L155.3,218.5L155.7,218.4L156.1,218.4L156.5,218.3L156.9,218.3L157.3,218.2L157.7,218.2L158.1,218.1L158.5,218.1L158.9,218.1L159.3,218.0L159.8,218.0L160.1,203.6L160.2,201.6L160.6,199.8L161.0,198.2L161.4,196.8L161.8,195.6L162.2,194.5L162.6,193.5L163.0,192.7L163.4,191.9L163.8,191.2L164.2,190.6L164.6,190.1L165.0,189.6L165.4,189.2L165.8,188.8L166.2,188.5L166.6,188.2L167.0,187.9L167.4,187.7L167.8,187.5L168.3,187.3L168.7,187.2L169.1,187.0L169.5,186.9L169.9,186.8L170.3,186.7L170.7,186.6L171.1,186.5L171.5,186.4L171.9,186.4L172.3,186.3L172.7,186.3L173.1,186.2L173.5,186.2L173.9,186.1L174.3,186.1L174.7,186.1L175.1,186.0L175.5,186.0L175.9,186.0L176.3,186.0L176.8,186.0L177.2,185.9L177.6,185.9L178.0,185.9L178.4,185.9L178.8,185.9L179.2,185.9L179.6,185.9L180.0,185.9L180.4,185.9L180.8,185.8L181.2,185.8L181.6,185.8L182.0,185.8L182.4,185.8L182.8,185.8L183.2,185.8L183.6,185.8L184.0,185.8L184.4,185.8L184.8,185.8L185.3,185.8L185.7,185.8L186.1,185.8L186.5,185.8L186.9,185.8L187.3,185.8L187.7,185.8L188.1,185.8L188.5,185.7L188.9,185.7L189.3,185.7L189.7,185.7L190.1,185.7L190.5,185.7L190.9,185.7L191.3,185.7L191.7,185.7L192.1,185.7L192.5,185.7L192.9,185.7L193.3,185.7L193.9,233.8L194.4,233.2L194.8,232.7L195.2,232.1L195.6,231.6L196.0,231.1L196.4,230.7L196.8,230.2L197.2,229.7L197.6,229.3L198.0,228.9L198.4,228.5L198.8,228.1L199.2,227.7L199.6,227.3L200.0,227.0L200.4,226.7L200.8,226.3L201.2,226.0L201.6,225.7L202.0,225.4L202.4,225.1L202.8,224.8L203.2,224.6L203.6,224.3L204.0,224.1L204.4,223.8L204.8,223.6L205.2,223.4L205.6,223.1L206.0,222.9L206.4,222.7L206.8,222.5L207.2,222.3L207.6,222.2L208.0,222.0L208.4,221.8L208.8,221.6L209.2,221.5L209.6,221.3L210.0,221.2L210.4,221.0L210.8,220.9L211.2,220.8L211.6,220.6L212.0,220.5L212.4,220.4L212.8,220.3L213.2,220.1L213.6,220.0L214.0,219.9L214.4,219.8L214.8,219.7L215.2,219.6L215.7,219.5L216.1,219.5L216.5,219.4L216.9,219.3L217.3,219.2L217.7,219.1L218.1,219.1L218.5,219.0L218.9,218.9L219.3,218.8L219.7,218.8L220.1,218.7L220.5,218.7L220.9,218.6L221.3,218.5L221.7,218.5L222.1,218.4L222.5,218.4L222.9,218.3L223.3,218.3L223.7,218.2L224.1,218.2L224.5,218.1L224.9,218.1L225.3,218.1L225.7,218.0L226.1,218.0L226.4,203.6L226.5,201.6L226.9,199.8L227.3,198.2L227.7,196.8L228.1,195.6L228.5,194.5L228.9,193.5L229.3,192.7L229.7,191.9L230.1,191.2L230.6,190.6L231.0,190.1L231.4,189.6L231.8,189.2L232.2,188.8L232.6,188.5L233.0,188.2L233.4,187.9L233.8,187.7L234.2,187.5L234.6,187.3L235.0,187.2L235.4,187.0L235.8,186.9L236.2,186.8L236.6,186.7L237.0,186.6L237.4,186.5L237.8,186.4L238.2,186.4L238.6,186.3L239.1,186.3L239.5,186.2L239.9,186.2L240.3,186.1L240.7,186.1L241.1,186.1L241.5,186.0L241.9,186.0L242.3,186.0L242.7,186.0L243.1,186.0L243.5,185.9L243.9,185.9L244.3,185.9L244.7,185.9L245.1,185.9L245.5,185.9L245.9,185.9L246.3,185.9L246.7,185.9L247.2,185.8L247.6,185.8L248.0,185.8L248.4,185.8L248.8,185.8L249.2,185.8L249.6,185.8L250.0,185.8L250.4,185.8L250.8,185.8L251.2,185.8L251.6,185.8L252.0,185.8L252.4,185.8L252.8,185.8L253.2,185.8L253.6,185.8L254.0,185.8L254.4,185.8L254.8,185.7L255.2,185.7L255.7,185.7L256.1,185.7L256.5,185.7L256.9,185.7L257.3,185.7L257.7,185.7L258.1,185.7L258.5,185.7L258.9,185.7L259.3,185.7L259.7,185.7L260.3,233.8L260.7,233.2L261.1,232.7L261.5,232.1L261.9,231.6L262.3,231.1L262.7,230.7L263.1,230.2L263.5,229.7L263.9,229.3L264.3,228.9L264.7,228.5L265.1,228.1L265.5,227.7L265.9,227.4L266.3,227.0L266.7,226.7L267.1,226.3L267.5,226.0L267.9,225.7L268.3,225.4L268.7,225.1L269.1,224.8L269.5,224.6L269.9,224.3L270.3,224.1L270.7,223.8L271.1,223.6L271.5,223.4L271.9,223.2L272.3,222.9L272.7,222.7L273.1,222.5L273.5,222.3L273.9,222.2L274.3,222.0L274.7,221.8L275.1,221.7L275.5,221.5L275.9,221.3L276.4,221.2L276.8,221.0L277.2,220.9L277.6,220.8L278.0,220.6L278.4,220.5L278.8,220.4L279.2,220.3L279.6,220.2L280.0,220.0L280.4,219.9L280.8,219.8L281.2,219.7L281.6,219.6L282.0,219.6L282.4,219.5L282.8,219.4L283.2,219.3L283.6,219.2L284.0,219.1L284.4,219.1L284.8,219.0L285.2,218.9L285.6,218.8L286.0,218.8L286.4,218.7L286.8,218.7L287.2,218.6L287.6,218.5L288.0,218.5L288.4,218.4L288.8,218.4L289.2,218.3L289.6,218.3L290.0,218.2L290.4,218.2L290.8,218.1L291.2,218.1L291.6,218.1L292.0,218.0L292.4,218.0" fill="none" stroke="#929292" stroke-width="0.9" stroke-linejoin="round" opacity="1.0"/>
<path d="M86.3,216.9L93.4,216.9L93.8,215.0L94.2,212.1L94.6,209.2L95.0,206.5L95.4,204.1L95.8,202.1L96.2,200.4L96.6,198.9L97.0,197.7L97.4,196.7L97.9,195.9L98.3,195.3L98.7,194.8L99.1,194.4L99.5,194.1L99.9,193.9L100.3,193.7L100.7,193.6L101.1,193.5L101.5,193.4L101.9,193.4L102.3,193.4L102.7,193.4L103.1,193.5L103.5,193.5L103.9,193.6L104.3,193.7L104.7,193.7L105.1,193.8L105.5,193.9L105.9,194.0L106.4,194.1L106.8,194.2L107.2,194.3L107.6,194.4L108.0,194.5L108.4,194.6L108.8,194.7L109.2,194.8L109.6,194.9L110.0,195.1L110.4,195.2L110.8,195.3L111.2,195.4L111.6,195.5L112.0,195.6L112.4,195.7L112.8,195.8L113.2,195.9L113.6,196.0L114.0,196.2L114.5,196.3L114.9,196.4L115.3,196.5L115.7,196.6L116.1,196.7L116.5,196.8L116.9,196.9L117.3,197.0L117.7,197.2L118.1,197.3L118.5,197.4L118.9,197.5L119.3,197.6L119.7,197.7L120.1,197.8L120.5,197.9L120.9,198.0L121.3,198.1L121.7,198.3L122.1,198.4L122.5,198.5L123.0,198.6L123.4,198.7L123.8,198.8L124.2,198.9L124.6,199.0L125.0,199.1L125.4,199.3L125.8,199.4L126.2,199.5L126.6,199.6L127.0,199.7L127.6,224.6L128.0,224.4L128.4,224.2L128.8,224.0L129.2,223.8L129.6,223.6L130.0,223.4L130.4,223.2L130.8,223.0L131.2,222.8L131.6,222.7L132.0,222.5L132.4,222.4L132.8,222.2L133.2,222.1L133.6,221.9L134.0,221.8L134.4,221.6L134.8,221.5L135.2,221.4L135.6,221.2L136.0,221.1L136.4,221.0L136.8,220.9L137.2,220.8L137.6,220.7L138.0,220.6L138.5,220.4L138.9,220.3L139.3,220.2L139.7,220.2L140.1,220.1L140.5,220.0L140.9,219.9L141.3,219.8L141.7,219.7L142.1,219.6L142.5,219.6L142.9,219.5L143.3,219.4L143.7,219.3L144.1,219.3L144.5,219.2L144.9,219.1L145.3,219.1L145.7,219.0L146.1,219.0L146.5,218.9L146.9,218.8L147.3,218.8L147.7,218.7L148.1,218.7L148.5,218.6L148.9,218.6L149.3,218.5L149.7,218.5L150.1,218.4L150.5,218.4L150.9,218.4L151.3,218.3L151.7,218.3L152.1,218.2L152.5,218.2L152.9,218.2L153.3,218.1L153.7,218.1L154.1,218.1L154.5,218.0L154.9,218.0L155.3,218.0L155.7,217.9L156.1,217.9L156.5,217.9L156.9,217.8L157.3,217.8L157.7,217.8L158.1,217.8L158.5,217.7L158.9,217.7L159.3,217.7L159.8,217.7L160.1,210.1L160.2,208.2L160.6,206.6L161.0,205.2L161.4,204.0L161.8,203.0L162.2,202.2L162.6,201.4L163.0,200.8L163.4,200.3L163.8,199.9L164.2,199.5L164.6,199.2L165.0,199.0L165.4,198.8L165.8,198.6L166.2,198.5L166.6,198.4L167.0,198.3L167.4,198.2L167.8,198.2L168.3,198.2L168.7,198.2L169.1,198.2L169.5,198.2L169.9,198.2L170.3,198.2L170.7,198.3L171.1,198.3L171.5,198.3L171.9,198.4L172.3,198.4L172.7,198.5L173.1,198.6L173.5,198.6L173.9,198.7L174.3,198.8L174.7,198.8L175.1,198.9L175.5,199.0L175.9,199.0L176.3,199.1L176.8,199.2L177.2,199.2L177.6,199.3L178.0,199.4L178.4,199.4L178.8,199.5L179.2,199.6L179.6,199.7L180.0,199.7L180.4,199.8L180.8,199.9L181.2,200.0L181.6,200.0L182.0,200.1L182.4,200.2L182.8,200.3L183.2,200.3L183.6,200.4L184.0,200.5L184.4,200.6L184.8,200.6L185.3,200.7L185.7,200.8L186.1,200.9L186.5,200.9L186.9,201.0L187.3,201.1L187.7,201.2L188.1,201.2L188.5,201.3L188.9,201.4L189.3,201.5L189.7,201.5L190.1,201.6L190.5,201.7L190.9,201.8L191.3,201.8L191.7,201.9L192.1,202.0L192.5,202.1L192.9,202.1L193.3,202.2L193.9,222.8L194.4,222.6L194.8,222.5L195.2,222.3L195.6,222.2L196.0,222.0L196.4,221.9L196.8,221.7L197.2,221.6L197.6,221.5L198.0,221.3L198.4,221.2L198.8,221.1L199.2,221.0L199.6,220.8L200.0,220.7L200.4,220.6L200.8,220.5L201.2,220.4L201.6,220.3L202.0,220.2L202.4,220.1L202.8,220.0L203.2,219.9L203.6,219.9L204.0,219.8L204.4,219.7L204.8,219.6L205.2,219.5L205.6,219.5L206.0,219.4L206.4,219.3L206.8,219.3L207.2,219.2L207.6,219.1L208.0,219.1L208.4,219.0L208.8,218.9L209.2,218.9L209.6,218.8L210.0,218.8L210.4,218.7L210.8,218.7L211.2,218.6L211.6,218.6L212.0,218.5L212.4,218.5L212.8,218.4L213.2,218.4L213.6,218.3L214.0,218.3L214.4,218.3L214.8,218.2L215.2,218.2L215.7,218.2L216.1,218.1L216.5,218.1L216.9,218.0L217.3,218.0L217.7,218.0L218.1,218.0L218.5,217.9L218.9,217.9L219.3,217.9L219.7,217.8L220.1,217.8L220.5,217.8L220.9,217.8L221.3,217.7L221.7,217.7L222.1,217.7L222.5,217.7L222.9,217.6L223.3,217.6L223.7,217.6L224.1,217.6L224.5,217.6L224.9,217.5L225.3,217.5L225.7,217.5L226.1,217.5L226.4,210.3L226.5,208.4L226.9,206.9L227.3,205.6L227.7,204.5L228.1,203.5L228.5,202.7L228.9,202.0L229.3,201.4L229.7,200.9L230.1,200.5L230.6,200.2L231.0,199.9L231.4,199.6L231.8,199.4L232.2,199.3L232.6,199.2L233.0,199.1L233.4,199.0L233.8,198.9L234.2,198.9L234.6,198.9L235.0,198.9L235.4,198.9L235.8,198.9L236.2,198.9L236.6,198.9L237.0,199.0L237.4,199.0L237.8,199.1L238.2,199.1L238.6,199.2L239.1,199.2L239.5,199.3L239.9,199.3L240.3,199.4L240.7,199.5L241.1,199.5L241.5,199.6L241.9,199.7L242.3,199.7L242.7,199.8L243.1,199.9L243.5,199.9L243.9,200.0L244.3,200.1L244.7,200.1L245.1,200.2L245.5,200.3L245.9,200.4L246.3,200.4L246.7,200.5L247.2,200.6L247.6,200.6L248.0,200.7L248.4,200.8L248.8,200.9L249.2,200.9L249.6,201.0L250.0,201.1L250.4,201.1L250.8,201.2L251.2,201.3L251.6,201.4L252.0,201.4L252.4,201.5L252.8,201.6L253.2,201.6L253.6,201.7L254.0,201.8L254.4,201.9L254.8,201.9L255.2,202.0L255.7,202.1L256.1,202.1L256.5,202.2L256.9,202.3L257.3,202.4L257.7,202.4L258.1,202.5L258.5,202.6L258.9,202.7L259.3,202.7L259.7,202.8L260.3,222.4L260.7,222.2L261.1,222.1L261.5,221.9L261.9,221.8L262.3,221.7L262.7,221.5L263.1,221.4L263.5,221.3L263.9,221.1L264.3,221.0L264.7,220.9L265.1,220.8L265.5,220.7L265.9,220.6L266.3,220.5L266.7,220.4L267.1,220.3L267.5,220.2L267.9,220.1L268.3,220.0L268.7,219.9L269.1,219.8L269.5,219.7L269.9,219.7L270.3,219.6L270.7,219.5L271.1,219.4L271.5,219.4L271.9,219.3L272.3,219.2L272.7,219.2L273.1,219.1L273.5,219.0L273.9,219.0L274.3,218.9L274.7,218.9L275.1,218.8L275.5,218.8L275.9,218.7L276.4,218.6L276.8,218.6L277.2,218.6L277.6,218.5L278.0,218.5L278.4,218.4L278.8,218.4L279.2,218.3L279.6,218.3L280.0,218.3L280.4,218.2L280.8,218.2L281.2,218.1L281.6,218.1L282.0,218.1L282.4,218.0L282.8,218.0L283.2,218.0L283.6,217.9L284.0,217.9L284.4,217.9L284.8,217.9L285.2,217.8L285.6,217.8L286.0,217.8L286.4,217.8L286.8,217.7L287.2,217.7L287.6,217.7L288.0,217.7L288.4,217.6L288.8,217.6L289.2,217.6L289.6,217.6L290.0,217.6L290.4,217.5L290.8,217.5L291.2,217.5L291.6,217.5L292.0,217.5L292.4,217.5" fill="none" stroke="#d633ee" stroke-width="1.0" stroke-linejoin="round" opacity="1.0"/>
<path d="M86.0,353.7L93.0,353.7L93.4,352.2L93.8,348.5L94.2,343.7L94.6,338.5L95.0,333.3L95.4,328.4L95.8,323.8L96.2,319.6L96.6,315.9L97.0,312.7L97.4,309.8L97.8,307.4L98.2,305.2L98.6,303.4L99.0,301.9L99.4,300.6L99.8,299.4L100.2,298.5L100.6,297.7L101.0,297.0L101.4,296.4L101.8,295.9L102.2,295.5L103.0,386.3L103.4,385.4L103.8,384.5L104.2,383.6L104.6,382.8L105.0,381.9L105.4,381.1L105.8,380.4L106.2,379.6L106.6,378.9L107.0,378.2L107.4,377.5L107.8,376.8L108.2,376.2L108.6,375.5L109.0,374.9L109.4,374.3L109.8,373.7L110.2,373.2L110.6,372.6L111.0,372.1L111.4,371.6L111.8,371.1L112.2,370.6L112.6,370.1L113.0,369.6L113.4,369.2L113.8,368.7L114.2,368.3L114.6,367.9L115.0,367.5L115.4,367.1L115.8,366.7L116.2,366.4L116.6,366.0L117.0,365.7L117.4,365.3L117.8,365.0L118.2,364.7L118.7,364.4L119.1,364.1L119.5,363.8L119.9,363.5L120.3,363.2L120.7,362.9L121.1,362.7L121.5,362.4L121.9,362.2L122.3,361.9L122.7,361.7L123.1,361.5L123.5,361.3L123.9,361.0L124.3,360.8L124.7,360.6L125.1,360.4L125.5,360.2L125.9,360.1L126.3,359.9L126.7,359.7L127.1,359.5L127.5,359.4L127.9,359.2L128.3,359.1L128.7,358.9L129.1,358.8L129.5,358.6L129.9,358.5L130.3,358.3L130.7,358.2L131.1,358.1L131.5,358.0L131.9,357.8L132.3,357.7L132.7,357.6L133.1,357.5L133.5,357.4L133.9,357.3L134.3,357.2L134.6,347.9L134.7,339.1L135.1,331.7L135.6,325.5L136.0,320.3L136.4,316.0L136.8,312.5L137.2,309.5L137.6,307.0L138.1,304.9L138.5,303.2L138.9,301.8L139.3,300.5L139.7,299.5L140.2,298.7L140.6,298.0L141.0,297.4L141.4,296.9L141.8,296.5L142.2,296.2L142.7,295.9L143.1,295.7L143.5,295.5L144.3,386.3L144.7,385.4L145.1,384.5L145.5,383.6L145.9,382.8L146.3,381.9L146.7,381.1L147.1,380.4L147.5,379.6L147.9,378.9L148.3,378.2L148.7,377.5L149.1,376.8L149.5,376.2L149.9,375.5L150.3,374.9L150.7,374.3L151.1,373.7L151.5,373.2L151.9,372.6L152.3,372.1L152.7,371.6L153.1,371.1L153.5,370.6L153.9,370.1L154.3,369.6L154.7,369.2L155.1,368.7L155.5,368.3L155.9,367.9L156.3,367.5L156.7,367.1L157.1,366.7L157.5,366.4L157.9,366.0L158.3,365.7L158.7,365.3L159.1,365.0L159.5,364.7L159.9,364.4L160.4,364.1L160.8,363.8L161.2,363.5L161.6,363.2L162.0,362.9L162.4,362.7L162.8,362.4L163.2,362.2L163.6,361.9L164.0,361.7L164.4,361.5L164.8,361.3L165.2,361.0L165.6,360.8L166.0,360.6L166.4,360.4L166.8,360.2L167.2,360.1L167.6,359.9L168.0,359.7L168.4,359.5L168.8,359.4L169.2,359.2L169.6,359.1L170.0,358.9L170.4,358.8L170.8,358.6L171.2,358.5L171.6,358.3L172.0,358.2L172.4,358.1L172.8,358.0L173.2,357.8L173.6,357.7L174.0,357.6L174.4,357.5L174.8,357.4L175.2,357.3L175.6,357.2L175.9,347.9L176.0,339.1L176.4,331.7L176.9,325.5L177.3,320.3L177.7,316.0L178.1,312.5L178.5,309.5L178.9,307.0L179.4,304.9L179.8,303.2L180.2,301.8L180.6,300.5L181.0,299.5L181.5,298.7L181.9,298.0L182.3,297.4L182.7,296.9L183.1,296.5L183.5,296.2L184.0,295.9L184.4,295.7L184.8,295.5L185.6,386.3L186.0,385.4L186.4,384.5L186.8,383.6L187.2,382.8L187.6,381.9L188.0,381.1L188.4,380.4L188.8,379.6L189.2,378.9L189.6,378.2L190.0,377.5L190.4,376.8L190.8,376.2L191.2,375.5L191.6,374.9L192.0,374.3L192.4,373.7L192.8,373.2L193.2,372.6L193.6,372.1L194.0,371.6L194.4,371.1L194.8,370.6L195.2,370.1L195.6,369.6L196.0,369.2L196.4,368.7L196.8,368.3L197.2,367.9L197.6,367.5L198.0,367.1L198.4,366.7L198.8,366.4L199.2,366.0L199.6,365.7L200.0,365.3L200.4,365.0L200.8,364.7L201.2,364.4L201.7,364.1L202.1,363.8L202.5,363.5L202.9,363.2L203.3,362.9L203.7,362.7L204.1,362.4L204.5,362.2L204.9,361.9L205.3,361.7L205.7,361.5L206.1,361.3L206.5,361.0L206.9,360.8L207.3,360.6L207.7,360.4L208.1,360.2L208.5,360.1L208.9,359.9L209.3,359.7L209.7,359.5L210.1,359.4L210.5,359.2L210.9,359.1L211.3,358.9L211.7,358.8L212.1,358.6L212.5,358.5L212.9,358.3L213.3,358.2L213.7,358.1L214.1,358.0L214.5,357.8L214.9,357.7L215.3,357.6L215.7,357.5L216.1,357.4L216.5,357.3L216.9,357.2L217.2,347.9L217.3,339.1L217.7,331.7L218.2,325.5L218.6,320.3L219.0,316.0L219.4,312.5L219.8,309.5L220.2,307.0L220.7,304.9L221.1,303.2L221.5,301.8L221.9,300.5L222.3,299.5L222.8,298.7L223.2,298.0L223.6,297.4L224.0,296.9L224.4,296.5L224.8,296.2L225.3,295.9L225.7,295.7L226.1,295.5L226.9,386.3L227.3,385.4L227.7,384.5L228.1,383.6L228.5,382.8L228.9,381.9L229.3,381.1L229.7,380.4L230.1,379.6L230.5,378.9L230.9,378.2L231.3,377.5L231.7,376.8L232.1,376.2L232.5,375.5L232.9,374.9L233.3,374.3L233.7,373.7L234.1,373.2L234.5,372.6L234.9,372.1L235.3,371.6L235.7,371.1L236.1,370.6L236.5,370.1L236.9,369.6L237.3,369.2L237.7,368.7L238.1,368.3L238.5,367.9L238.9,367.5L239.3,367.1L239.7,366.7L240.1,366.4L240.5,366.0L240.9,365.7L241.3,365.3L241.7,365.0L242.1,364.7L242.5,364.4L243.0,364.1L243.4,363.8L243.8,363.5L244.2,363.2L244.6,362.9L245.0,362.7L245.4,362.4L245.8,362.2L246.2,361.9L246.6,361.7L247.0,361.5L247.4,361.3L247.8,361.0L248.2,360.8L248.6,360.6L249.0,360.4L249.4,360.2L249.8,360.1L250.2,359.9L250.6,359.7L251.0,359.5L251.4,359.4L251.8,359.2L252.2,359.1L252.6,358.9L253.0,358.8L253.4,358.6L253.8,358.5L254.2,358.3L254.6,358.2L255.0,358.1L255.4,358.0L255.8,357.8L256.2,357.7L256.6,357.6L257.0,357.5L257.4,357.4L257.8,357.3L258.2,357.2L258.5,347.9L258.6,339.1L259.0,331.7L259.5,325.5L259.9,320.3L260.3,316.0L260.7,312.5L261.1,309.5L261.5,307.0L262.0,304.9L262.4,303.2L262.8,301.8L263.2,300.5L263.6,299.5L264.1,298.7L264.5,298.0L264.9,297.4L265.3,296.9L265.7,296.5L266.1,296.2L266.6,295.9L267.0,295.7L267.4,295.5L268.2,386.3L268.6,385.4L269.0,384.5L269.4,383.6L269.8,382.8L270.2,381.9L270.6,381.1L271.0,380.3L271.4,379.6L271.8,378.9L272.2,378.1L272.6,377.4L273.0,376.8L273.4,376.1L273.8,375.5L274.3,374.9L274.7,374.3L275.1,373.7L275.5,373.1L275.9,372.6L276.3,372.0L276.7,371.5L277.1,371.0L277.5,370.5L277.9,370.0L278.3,369.6L278.7,369.1L279.1,368.7L279.5,368.2L279.9,367.8L280.3,367.4L280.7,367.0L281.1,366.7L281.5,366.3L281.9,365.9L282.3,365.6L282.7,365.3L283.1,364.9L283.5,364.6L283.9,364.3L284.3,364.0L284.7,363.7L285.1,363.4L285.5,363.1L285.9,362.9L286.4,362.6L286.8,362.4L287.2,362.1L287.6,361.9L288.0,361.6L288.4,361.4L288.8,361.2L289.2,361.0L289.6,360.8L290.0,360.6L290.4,360.4L290.8,360.2L291.2,360.0L291.6,359.8L292.0,359.7" fill="none" stroke="#929292" stroke-width="0.9" stroke-linejoin="round" opacity="1.0"/>
<path d="M86.0,353.7L93.0,353.7L93.4,351.4L93.8,346.3L94.2,340.3L94.6,334.4L95.0,328.9L95.4,324.2L95.8,320.2L96.2,316.8L96.6,314.1L97.0,311.9L97.4,310.2L97.8,308.7L98.2,307.6L98.6,306.7L99.0,306.0L99.4,305.5L99.8,305.1L100.2,304.7L100.6,304.5L101.0,304.3L101.4,304.1L101.8,304.0L102.2,303.9L103.0,381.5L103.4,380.6L103.8,379.7L104.2,378.8L104.6,378.0L105.0,377.2L105.4,376.4L105.8,375.7L106.2,375.0L106.6,374.3L107.0,373.6L107.4,372.9L107.8,372.3L108.2,371.7L108.6,371.1L109.0,370.5L109.4,370.0L109.8,369.4L110.2,368.9L110.6,368.4L111.0,367.9L111.4,367.5L111.8,367.0L112.2,366.6L112.6,366.2L113.0,365.7L113.4,365.4L113.8,365.0L114.2,364.6L114.6,364.2L115.0,363.9L115.4,363.6L115.8,363.2L116.2,362.9L116.6,362.6L117.0,362.3L117.4,362.0L117.8,361.8L118.2,361.5L118.7,361.2L119.1,361.0L119.5,360.8L119.9,360.5L120.3,360.3L120.7,360.1L121.1,359.9L121.5,359.7L121.9,359.5L122.3,359.3L122.7,359.1L123.1,358.9L123.5,358.8L123.9,358.6L124.3,358.4L124.7,358.3L125.1,358.1L125.5,358.0L125.9,357.8L126.3,357.7L126.7,357.6L127.1,357.4L127.5,357.3L127.9,357.2L128.3,357.1L128.7,357.0L129.1,356.9L129.5,356.8L129.9,356.7L130.3,356.6L130.7,356.5L131.1,356.4L131.5,356.3L131.9,356.2L132.3,356.1L132.7,356.0L133.1,356.0L133.5,355.9L133.9,355.8L134.3,355.7L134.6,348.9L134.7,340.2L135.1,333.5L135.6,328.2L136.0,324.2L136.4,321.0L136.8,318.6L137.2,316.7L137.6,315.2L138.1,314.1L138.5,313.2L138.9,312.5L139.3,312.0L139.7,311.6L140.2,311.3L140.6,311.1L141.0,310.9L141.4,310.8L141.8,310.7L142.2,310.6L142.7,310.6L143.1,310.5L143.5,310.5L144.3,376.5L144.7,375.8L145.1,375.0L145.5,374.3L145.9,373.6L146.3,373.0L146.7,372.4L147.1,371.7L147.5,371.1L147.9,370.6L148.3,370.0L148.7,369.5L149.1,369.0L149.5,368.5L149.9,368.0L150.3,367.5L150.7,367.1L151.1,366.6L151.5,366.2L151.9,365.8L152.3,365.4L152.7,365.0L153.1,364.6L153.5,364.3L153.9,363.9L154.3,363.6L154.7,363.3L155.1,362.9L155.5,362.6L155.9,362.3L156.3,362.1L156.7,361.8L157.1,361.5L157.5,361.3L157.9,361.0L158.3,360.8L158.7,360.5L159.1,360.3L159.5,360.1L159.9,359.9L160.4,359.7L160.8,359.5L161.2,359.3L161.6,359.1L162.0,358.9L162.4,358.8L162.8,358.6L163.2,358.4L163.6,358.3L164.0,358.1L164.4,358.0L164.8,357.8L165.2,357.7L165.6,357.6L166.0,357.4L166.4,357.3L166.8,357.2L167.2,357.1L167.6,357.0L168.0,356.9L168.4,356.8L168.8,356.7L169.2,356.6L169.6,356.5L170.0,356.4L170.4,356.3L170.8,356.2L171.2,356.1L171.6,356.0L172.0,356.0L172.4,355.9L172.8,355.8L173.2,355.8L173.6,355.7L174.0,355.6L174.4,355.6L174.8,355.5L175.2,355.4L175.6,355.4L175.9,348.7L176.0,340.3L176.4,333.7L176.9,328.7L177.3,324.7L177.7,321.7L178.1,319.3L178.5,317.4L178.9,316.0L179.4,314.9L179.8,314.1L180.2,313.4L180.6,312.9L181.0,312.5L181.5,312.2L181.9,312.0L182.3,311.8L182.7,311.7L183.1,311.6L183.5,311.5L184.0,311.5L184.4,311.4L184.8,311.4L185.6,375.2L186.0,374.5L186.4,373.8L186.8,373.1L187.2,372.5L187.6,371.9L188.0,371.3L188.4,370.7L188.8,370.2L189.2,369.6L189.6,369.1L190.0,368.6L190.4,368.1L190.8,367.6L191.2,367.2L191.6,366.7L192.0,366.3L192.4,365.9L192.8,365.5L193.2,365.1L193.6,364.7L194.0,364.4L194.4,364.0L194.8,363.7L195.2,363.3L195.6,363.0L196.0,362.7L196.4,362.4L196.8,362.1L197.2,361.9L197.6,361.6L198.0,361.3L198.4,361.1L198.8,360.8L199.2,360.6L199.6,360.4L200.0,360.2L200.4,359.9L200.8,359.7L201.2,359.5L201.7,359.3L202.1,359.2L202.5,359.0L202.9,358.8L203.3,358.6L203.7,358.5L204.1,358.3L204.5,358.2L204.9,358.0L205.3,357.9L205.7,357.7L206.1,357.6L206.5,357.5L206.9,357.4L207.3,357.2L207.7,357.1L208.1,357.0L208.5,356.9L208.9,356.8L209.3,356.7L209.7,356.6L210.1,356.5L210.5,356.4L210.9,356.3L211.3,356.2L211.7,356.1L212.1,356.1L212.5,356.0L212.9,355.9L213.3,355.8L213.7,355.8L214.1,355.7L214.5,355.6L214.9,355.6L215.3,355.5L215.7,355.5L216.1,355.4L216.5,355.3L216.9,355.3L217.2,348.9L217.3,340.9L217.7,334.7L218.2,329.8L218.6,326.1L219.0,323.1L219.4,320.9L219.8,319.1L220.2,317.8L220.7,316.7L221.1,315.9L221.5,315.3L221.9,314.8L222.3,314.4L222.8,314.1L223.2,313.9L223.6,313.7L224.0,313.6L224.4,313.5L224.8,313.4L225.3,313.4L225.7,313.3L226.1,313.3L226.9,374.3L227.3,373.6L227.7,373.0L228.1,372.3L228.5,371.7L228.9,371.1L229.3,370.6L229.7,370.0L230.1,369.5L230.5,368.9L230.9,368.4L231.3,368.0L231.7,367.5L232.1,367.0L232.5,366.6L232.9,366.2L233.3,365.8L233.7,365.4L234.1,365.0L234.5,364.6L234.9,364.3L235.3,363.9L235.7,363.6L236.1,363.2L236.5,362.9L236.9,362.6L237.3,362.3L237.7,362.1L238.1,361.8L238.5,361.5L238.9,361.3L239.3,361.0L239.7,360.8L240.1,360.5L240.5,360.3L240.9,360.1L241.3,359.9L241.7,359.7L242.1,359.5L242.5,359.3L243.0,359.1L243.4,358.9L243.8,358.8L244.2,358.6L244.6,358.4L245.0,358.3L245.4,358.1L245.8,358.0L246.2,357.8L246.6,357.7L247.0,357.6L247.4,357.4L247.8,357.3L248.2,357.2L248.6,357.1L249.0,357.0L249.4,356.9L249.8,356.8L250.2,356.7L250.6,356.6L251.0,356.5L251.4,356.4L251.8,356.3L252.2,356.2L252.6,356.1L253.0,356.0L253.4,356.0L253.8,355.9L254.2,355.8L254.6,355.8L255.0,355.7L255.4,355.6L255.8,355.6L256.2,355.5L256.6,355.4L257.0,355.4L257.4,355.3L257.8,355.3L258.2,355.2L258.5,348.8L258.6,340.7L259.0,334.4L259.5,329.5L259.9,325.7L260.3,322.8L260.7,320.5L261.1,318.7L261.5,317.3L262.0,316.3L262.4,315.5L262.8,314.8L263.2,314.3L263.6,314.0L264.1,313.7L264.5,313.5L264.9,313.3L265.3,313.2L265.7,313.1L266.1,313.0L266.6,313.0L267.0,312.9L267.4,312.9L268.2,374.6L268.6,373.9L269.0,373.2L269.4,372.6L269.8,372.0L270.2,371.4L270.6,370.8L271.0,370.2L271.4,369.7L271.8,369.1L272.2,368.6L272.6,368.1L273.0,367.7L273.4,367.2L273.8,366.8L274.3,366.3L274.7,365.9L275.1,365.5L275.5,365.1L275.9,364.7L276.3,364.4L276.7,364.0L277.1,363.7L277.5,363.3L277.9,363.0L278.3,362.7L278.7,362.4L279.1,362.1L279.5,361.9L279.9,361.6L280.3,361.3L280.7,361.1L281.1,360.8L281.5,360.6L281.9,360.4L282.3,360.1L282.7,359.9L283.1,359.7L283.5,359.5L283.9,359.3L284.3,359.1L284.7,359.0L285.1,358.8L285.5,358.6L285.9,358.5L286.4,358.3L286.8,358.2L287.2,358.0L287.6,357.9L288.0,357.7L288.4,357.6L288.8,357.5L289.2,357.3L289.6,357.2L290.0,357.1L290.4,357.0L290.8,356.9L291.2,356.8L291.6,356.7L292.0,356.6" fill="none" stroke="#d22ee8" stroke-width="0.95" stroke-linejoin="round" opacity="1.0"/>
<path d="M86.3,466.4L93.5,466.4L93.9,464.7L94.3,460.6L94.7,455.4L95.2,449.7L95.6,444.2L96.0,438.9L96.4,434.1L96.8,429.8L97.2,426.0L97.6,422.6L98.0,419.8L98.5,417.3L98.9,415.2L99.3,413.4L99.7,411.9L100.1,410.7L100.5,409.6L100.9,408.7L101.4,407.9L101.8,407.3L102.2,406.7L102.6,406.3L103.2,500.0L103.6,499.0L104.0,498.0L104.4,497.0L104.8,496.0L105.2,495.1L105.6,494.3L106.0,493.4L106.5,492.6L106.9,491.8L107.3,491.0L107.7,490.2L108.1,489.5L108.5,488.8L108.9,488.1L109.3,487.4L109.7,486.8L110.1,486.1L110.5,485.5L110.9,484.9L111.3,484.4L111.7,483.8L112.1,483.3L112.5,482.8L113.0,482.3L113.4,481.8L113.8,481.3L114.2,480.8L114.6,480.4L115.0,480.0L115.4,479.6L115.8,479.1L116.2,478.8L116.6,478.4L117.0,478.0L117.4,477.6L117.8,477.3L118.2,477.0L118.5,466.4L118.7,456.2L119.1,447.7L119.5,440.6L119.9,434.7L120.3,429.8L120.7,425.7L121.1,422.3L121.5,419.5L122.0,417.1L122.4,415.1L122.8,413.5L123.2,412.1L123.6,410.9L124.0,410.0L124.4,409.2L124.9,408.5L125.3,408.0L125.7,407.5L126.1,407.1L126.5,406.8L126.9,406.5L127.3,406.3L127.9,500.0L128.3,499.0L128.8,498.0L129.2,497.0L129.6,496.0L130.0,495.1L130.4,494.3L130.8,493.4L131.2,492.6L131.6,491.8L132.0,491.0L132.4,490.2L132.8,489.5L133.2,488.8L133.6,488.1L134.0,487.4L134.4,486.8L134.9,486.1L135.3,485.5L135.7,484.9L136.1,484.4L136.5,483.8L136.9,483.3L137.3,482.8L137.7,482.3L138.1,481.8L138.5,481.3L138.9,480.8L139.3,480.4L139.7,480.0L140.1,479.6L140.5,479.1L140.9,478.8L141.4,478.4L141.8,478.0L142.2,477.6L142.6,477.3L143.0,477.0L143.3,466.4L143.4,456.2L143.8,447.7L144.2,440.6L144.6,434.7L145.0,429.8L145.5,425.7L145.9,422.3L146.3,419.5L146.7,417.1L147.1,415.1L147.5,413.5L147.9,412.1L148.4,410.9L148.8,410.0L149.2,409.2L149.6,408.5L150.0,408.0L150.4,407.5L150.8,407.1L151.3,406.8L151.7,406.5L152.1,406.3L152.7,500.0L153.1,499.0L153.5,498.0L153.9,497.0L154.3,496.0L154.7,495.1L155.1,494.3L155.5,493.4L155.9,492.6L156.3,491.8L156.7,491.0L157.2,490.2L157.6,489.5L158.0,488.8L158.4,488.1L158.8,487.4L159.2,486.8L159.6,486.1L160.0,485.5L160.4,484.9L160.8,484.4L161.2,483.8L161.6,483.3L162.0,482.8L162.4,482.3L162.8,481.8L163.2,481.3L163.7,480.8L164.1,480.4L164.5,480.0L164.9,479.6L165.3,479.1L165.7,478.8L166.1,478.4L166.5,478.0L166.9,477.6L167.3,477.3L167.7,477.0L168.0,466.4L168.1,456.2L168.5,447.7L169.0,440.6L169.4,434.7L169.8,429.8L170.2,425.7L170.6,422.3L171.0,419.5L171.4,417.1L171.9,415.1L172.3,413.5L172.7,412.1L173.1,410.9L173.5,410.0L173.9,409.2L174.3,408.5L174.8,408.0L175.2,407.5L175.6,407.1L176.0,406.8L176.4,406.5L176.8,406.3L177.4,500.0L177.8,499.0L178.2,498.0L178.6,497.0L179.0,496.0L179.5,495.1L179.9,494.3L180.3,493.4L180.7,492.6L181.1,491.8L181.5,491.0L181.9,490.2L182.3,489.5L182.7,488.8L183.1,488.1L183.5,487.4L183.9,486.8L184.3,486.1L184.7,485.5L185.1,484.9L185.5,484.4L186.0,483.8L186.4,483.3L186.8,482.8L187.2,482.3L187.6,481.8L188.0,481.3L188.4,480.8L188.8,480.4L189.2,480.0L189.6,479.6L190.0,479.1L190.4,478.8L190.8,478.4L191.2,478.0L191.6,477.6L192.1,477.3L192.5,477.0L192.8,466.4L192.9,456.2L193.3,447.7L193.7,440.6L194.1,434.7L194.5,429.8L194.9,425.7L195.4,422.3L195.8,419.5L196.2,417.1L196.6,415.1L197.0,413.5L197.4,412.1L197.8,410.9L198.3,410.0L198.7,409.2L199.1,408.5L199.5,408.0L199.9,407.5L200.3,407.1L200.7,406.8L201.1,406.5L201.6,406.3L202.2,500.0L202.6,499.0L203.0,498.0L203.4,497.0L203.8,496.0L204.2,495.1L204.6,494.3L205.0,493.4L205.4,492.6L205.8,491.8L206.2,491.0L206.6,490.2L207.0,489.5L207.4,488.8L207.9,488.1L208.3,487.4L208.7,486.8L209.1,486.1L209.5,485.5L209.9,484.9L210.3,484.4L210.7,483.8L211.1,483.3L211.5,482.8L211.9,482.3L212.3,481.8L212.7,481.3L213.1,480.8L213.5,480.4L213.9,480.0L214.4,479.6L214.8,479.1L215.2,478.8L215.6,478.4L216.0,478.0L216.4,477.6L216.8,477.3L217.2,477.0L217.5,466.4L217.6,456.2L218.0,447.7L218.4,440.6L218.9,434.7L219.3,429.8L219.7,425.7L220.1,422.3L220.5,419.5L220.9,417.1L221.3,415.1L221.8,413.5L222.2,412.1L222.6,410.9L223.0,410.0L223.4,409.2L223.8,408.5L224.2,408.0L224.6,407.5L225.1,407.1L225.5,406.8L225.9,406.5L226.3,406.3L226.9,500.0L227.3,499.0L227.7,498.0L228.1,497.0L228.5,496.0L228.9,495.1L229.3,494.3L229.7,493.4L230.2,492.6L230.6,491.8L231.0,491.0L231.4,490.2L231.8,489.5L232.2,488.8L232.6,488.1L233.0,487.4L233.4,486.8L233.8,486.1L234.2,485.5L234.6,484.9L235.0,484.4L235.4,483.8L235.8,483.3L236.2,482.8L236.7,482.3L237.1,481.8L237.5,481.3L237.9,480.8L238.3,480.4L238.7,480.0L239.1,479.6L239.5,479.1L239.9,478.8L240.3,478.4L240.7,478.0L241.1,477.6L241.5,477.3L241.9,477.0L242.2,466.4L242.4,456.2L242.8,447.7L243.2,440.6L243.6,434.7L244.0,429.8L244.4,425.7L244.8,422.3L245.2,419.5L245.7,417.1L246.1,415.1L246.5,413.5L246.9,412.1L247.3,410.9L247.7,410.0L248.1,409.2L248.6,408.5L249.0,408.0L249.4,407.5L249.8,407.1L250.2,406.8L250.6,406.5L251.0,406.3L251.6,500.0L252.0,499.0L252.5,498.0L252.9,497.0L253.3,496.0L253.7,495.1L254.1,494.3L254.5,493.4L254.9,492.6L255.3,491.8L255.7,491.0L256.1,490.2L256.5,489.5L256.9,488.8L257.3,488.1L257.7,487.4L258.1,486.8L258.6,486.1L259.0,485.5L259.4,484.9L259.8,484.4L260.2,483.8L260.6,483.3L261.0,482.8L261.4,482.3L261.8,481.8L262.2,481.3L262.6,480.8L263.0,480.4L263.4,480.0L263.8,479.6L264.2,479.1L264.6,478.8L265.1,478.4L265.5,478.0L265.9,477.6L266.3,477.3L266.7,477.0L267.0,466.4L267.1,456.2L267.5,447.7L267.9,440.6L268.3,434.7L268.7,429.8L269.2,425.7L269.6,422.3L270.0,419.5L270.4,417.1L270.8,415.1L271.2,413.5L271.6,412.1L272.1,410.9L272.5,410.0L272.9,409.2L273.3,408.5L273.7,408.0L274.1,407.5L274.5,407.1L275.0,406.8L275.4,406.5L275.8,406.3L276.4,500.0L276.8,499.0L277.2,498.0L277.6,497.0L278.0,496.1L278.4,495.2L278.8,494.3L279.2,493.5L279.6,492.7L280.0,491.9L280.4,491.1L280.8,490.3L281.2,489.6L281.6,488.9L282.0,488.2L282.4,487.6L282.8,486.9L283.2,486.3L283.6,485.7L284.0,485.1L284.4,484.5L284.8,484.0L285.2,483.5L285.6,482.9L286.0,482.4L286.4,482.0L286.8,481.5L287.2,481.0L287.6,480.6L288.0,480.2L288.4,479.7L288.8,479.3L289.2,478.9L289.6,478.6L290.0,478.2L290.4,477.8L290.8,477.5L291.2,477.1L291.6,476.8L292.0,476.5" fill="none" stroke="#929292" stroke-width="0.9" stroke-linejoin="round" opacity="1.0"/>
<path d="M86.3,466.4L93.5,466.4L93.9,463.8L94.3,458.3L94.7,451.8L95.2,445.5L95.6,439.8L96.0,434.9L96.4,430.8L96.8,427.5L97.2,424.8L97.6,422.7L98.0,420.9L98.5,419.6L98.9,418.5L99.3,417.7L99.7,417.1L100.1,416.6L100.5,416.2L100.9,415.9L101.4,415.6L101.8,415.4L102.2,415.3L102.6,415.2L103.4,493.8L103.8,492.8L104.2,491.9L104.6,491.0L105.0,490.1L105.4,489.3L105.8,488.5L106.2,487.7L106.6,487.0L107.0,486.3L107.4,485.6L107.8,484.9L108.2,484.2L108.6,483.6L109.0,483.0L109.4,482.4L109.8,481.8L110.2,481.3L110.6,480.8L111.0,480.3L111.4,479.8L111.8,479.3L112.2,478.9L112.6,478.4L113.0,478.0L113.4,477.6L113.8,477.2L114.2,476.8L114.6,476.5L115.0,476.1L115.4,475.8L115.8,475.4L116.2,475.1L116.6,474.8L117.0,474.5L117.4,474.2L117.8,473.9L118.2,473.7L118.5,466.2L118.7,456.8L119.1,449.5L119.5,443.8L119.9,439.4L120.3,436.0L120.7,433.3L121.1,431.3L121.5,429.7L122.0,428.4L122.4,427.5L122.8,426.8L123.2,426.2L123.6,425.8L124.0,425.5L124.4,425.2L124.9,425.0L125.3,424.9L125.7,424.8L126.1,424.7L126.5,424.7L126.9,424.6L127.3,424.6L128.1,487.2L128.5,486.5L128.9,485.8L129.3,485.1L129.7,484.4L130.1,483.8L130.5,483.2L130.9,482.6L131.3,482.0L131.7,481.5L132.2,480.9L132.6,480.4L133.0,479.9L133.4,479.5L133.8,479.0L134.2,478.6L134.6,478.1L135.0,477.7L135.4,477.3L135.8,476.9L136.2,476.6L136.6,476.2L137.0,475.9L137.4,475.5L137.8,475.2L138.2,474.9L138.6,474.6L139.0,474.3L139.4,474.0L139.8,473.8L140.2,473.5L140.6,473.3L141.0,473.0L141.4,472.8L141.8,472.6L142.2,472.3L142.6,472.1L143.0,471.9L143.3,465.2L143.4,456.7L143.8,450.0L144.2,444.9L144.6,440.9L145.0,437.8L145.5,435.4L145.9,433.6L146.3,432.1L146.7,431.0L147.1,430.1L147.5,429.5L147.9,429.0L148.4,428.6L148.8,428.3L149.2,428.1L149.6,427.9L150.0,427.8L150.4,427.7L150.8,427.6L151.3,427.6L151.7,427.5L152.1,427.5L152.9,486.3L153.3,485.6L153.7,484.9L154.1,484.3L154.5,483.6L154.9,483.0L155.3,482.5L155.7,481.9L156.1,481.3L156.5,480.8L156.9,480.3L157.3,479.8L157.7,479.3L158.1,478.9L158.5,478.5L158.9,478.0L159.3,477.6L159.7,477.2L160.1,476.8L160.5,476.5L160.9,476.1L161.3,475.8L161.7,475.5L162.1,475.1L162.5,474.8L162.9,474.5L163.3,474.2L163.7,474.0L164.1,473.7L164.5,473.4L164.9,473.2L165.3,473.0L165.7,472.7L166.1,472.5L166.5,472.3L166.9,472.1L167.3,471.9L167.7,471.7L168.0,465.2L168.1,457.0L168.5,450.6L169.0,445.7L169.4,441.9L169.8,438.9L170.2,436.6L170.6,434.8L171.0,433.4L171.4,432.4L171.9,431.5L172.3,430.9L172.7,430.4L173.1,430.0L173.5,429.7L173.9,429.5L174.3,429.4L174.8,429.2L175.2,429.2L175.6,429.1L176.0,429.0L176.4,429.0L176.8,429.0L177.6,485.0L178.0,484.3L178.4,483.7L178.8,483.1L179.2,482.5L179.6,482.0L180.0,481.4L180.4,480.9L180.8,480.4L181.2,479.9L181.6,479.4L182.0,478.9L182.4,478.5L182.8,478.1L183.2,477.7L183.6,477.3L184.0,476.9L184.4,476.5L184.8,476.2L185.2,475.8L185.6,475.5L186.0,475.2L186.4,474.9L186.8,474.6L187.2,474.3L187.6,474.0L188.0,473.7L188.4,473.5L188.9,473.2L189.3,473.0L189.7,472.8L190.1,472.5L190.5,472.3L190.9,472.1L191.3,471.9L191.7,471.7L192.1,471.5L192.5,471.3L192.8,465.0L192.9,456.9L193.3,450.7L193.7,445.8L194.1,442.0L194.5,439.1L194.9,436.8L195.4,435.0L195.8,433.7L196.2,432.6L196.6,431.8L197.0,431.1L197.4,430.6L197.8,430.2L198.3,429.9L198.7,429.7L199.1,429.5L199.5,429.4L199.9,429.2L200.3,429.2L200.7,429.1L201.1,429.0L201.6,429.0L202.4,484.8L202.8,484.2L203.2,483.5L203.6,482.9L204.0,482.3L204.4,481.8L204.8,481.2L205.2,480.7L205.6,480.2L206.0,479.7L206.4,479.3L206.8,478.8L207.2,478.4L207.6,478.0L208.0,477.5L208.4,477.2L208.8,476.8L209.2,476.4L209.6,476.1L210.0,475.7L210.4,475.4L210.8,475.1L211.2,474.8L211.6,474.5L212.0,474.2L212.4,473.9L212.8,473.7L213.2,473.4L213.6,473.2L214.0,472.9L214.4,472.7L214.8,472.5L215.2,472.2L215.6,472.0L216.0,471.8L216.4,471.7L216.8,471.5L217.2,471.3L217.5,464.9L217.6,456.9L218.0,450.6L218.4,445.8L218.9,442.0L219.3,439.1L219.7,436.8L220.1,435.0L220.5,433.6L220.9,432.6L221.3,431.7L221.8,431.1L222.2,430.6L222.6,430.2L223.0,429.9L223.4,429.7L223.8,429.5L224.2,429.4L224.6,429.2L225.1,429.2L225.5,429.1L225.9,429.0L226.3,429.0L227.1,484.8L227.5,484.2L227.9,483.5L228.3,482.9L228.7,482.3L229.1,481.8L229.5,481.2L229.9,480.7L230.3,480.2L230.7,479.7L231.1,479.3L231.5,478.8L231.9,478.4L232.3,478.0L232.7,477.5L233.1,477.2L233.5,476.8L233.9,476.4L234.3,476.1L234.7,475.7L235.1,475.4L235.5,475.1L235.9,474.8L236.3,474.5L236.7,474.2L237.1,473.9L237.5,473.7L237.9,473.4L238.3,473.2L238.7,472.9L239.1,472.7L239.5,472.5L239.9,472.2L240.3,472.0L240.7,471.8L241.1,471.7L241.5,471.5L241.9,471.3L242.2,464.9L242.4,456.9L242.8,450.6L243.2,445.8L243.6,442.0L244.0,439.1L244.4,436.8L244.8,435.0L245.2,433.6L245.7,432.6L246.1,431.7L246.5,431.1L246.9,430.6L247.3,430.2L247.7,429.9L248.1,429.7L248.6,429.5L249.0,429.4L249.4,429.2L249.8,429.2L250.2,429.1L250.6,429.0L251.0,429.0L251.8,484.8L252.2,484.2L252.6,483.5L253.0,482.9L253.4,482.3L253.8,481.8L254.2,481.2L254.6,480.7L255.0,480.2L255.4,479.7L255.9,479.3L256.3,478.8L256.7,478.4L257.1,478.0L257.5,477.5L257.9,477.2L258.3,476.8L258.7,476.4L259.1,476.1L259.5,475.7L259.9,475.4L260.3,475.1L260.7,474.8L261.1,474.5L261.5,474.2L261.9,473.9L262.3,473.7L262.7,473.4L263.1,473.2L263.5,472.9L263.9,472.7L264.3,472.5L264.7,472.2L265.1,472.0L265.5,471.8L265.9,471.7L266.3,471.5L266.7,471.3L267.0,464.9L267.1,456.9L267.5,450.6L267.9,445.8L268.3,442.0L268.7,439.1L269.2,436.8L269.6,435.0L270.0,433.6L270.4,432.6L270.8,431.7L271.2,431.1L271.6,430.6L272.1,430.2L272.5,429.9L272.9,429.7L273.3,429.5L273.7,429.4L274.1,429.2L274.5,429.2L275.0,429.1L275.4,429.0L275.8,429.0L276.6,484.8L277.0,484.1L277.4,483.5L277.8,482.9L278.2,482.3L278.6,481.8L279.0,481.2L279.4,480.7L279.8,480.2L280.2,479.7L280.6,479.2L281.0,478.8L281.4,478.3L281.9,477.9L282.3,477.5L282.7,477.1L283.1,476.7L283.5,476.3L283.9,476.0L284.3,475.6L284.7,475.3L285.1,475.0L285.5,474.7L285.9,474.4L286.3,474.1L286.7,473.8L287.1,473.6L287.5,473.3L287.9,473.1L288.3,472.8L288.8,472.6L289.2,472.4L289.6,472.2L290.0,472.0L290.4,471.8L290.8,471.6L291.2,471.4L291.6,471.2L292.0,471.0" fill="none" stroke="#1a1af5" stroke-width="1.25" stroke-linejoin="round" opacity="1.0"/>
<text class="L" transform="translate(0.45 24.90) scale(1 1.06)" font-size="35.0" text-anchor="start">A</text>
<text class="L" transform="translate(326.60 25.10) scale(1 1.06)" font-size="35.0" text-anchor="start">B</text>
<text class="L" transform="translate(0.10 299.10) scale(1 1.06)" font-size="35.0" text-anchor="start">C</text>
<text class="L" transform="translate(330.00 298.50) scale(1 1.025)" font-size="35.0" text-anchor="start">D</text>
<text transform="translate(17.50 46.60) scale(1 1.03)" font-size="20.5" text-anchor="start">500 Hz</text>
<text transform="translate(18.50 103.70) scale(1 1.03)" font-size="20.5" text-anchor="start">250 Hz</text>
<path d="M27.34,161.90L25.54,161.90L25.54,150.53L24.91,151.10L23.90,151.79L22.90,152.31L22.03,152.66L22.03,150.94L23.20,150.36L24.40,149.51L25.51,148.42L26.21,147.37L27.34,147.37Z" fill="#000" stroke="#000" stroke-width="0.35"/>
<text transform="translate(31.10 161.90) scale(1 1.03)" font-size="20.5" text-anchor="start">25 Hz</text>
<text transform="translate(18.50 219.00) scale(1 1.03)" font-size="20.5" text-anchor="start">62.5 Hz</text>
<text transform="translate(19.30 355.10) scale(1 1.03)" font-size="20.5" text-anchor="start">8 ms</text>
<text transform="translate(19.20 378.20) scale(1 1.03)" font-size="20.6" text-anchor="start">interval</text>
<text transform="translate(19.30 464.50) scale(1 1.03)" font-size="20.5" text-anchor="start">4 ms</text>
<text transform="translate(19.20 488.20) scale(1 1.03)" font-size="20.6" text-anchor="start">interval</text>
<rect x="271" y="196.9" width="5" height="15.8" fill="#000"/>
<path d="M285.98,212.70L284.45,212.70L284.45,203.33L283.92,203.80L283.07,204.37L282.22,204.80L281.48,205.09L281.48,203.67L282.47,203.19L283.49,202.49L284.43,201.59L285.02,200.73L285.98,200.73Z" fill="#000" stroke="#000" stroke-width="0.35"/>
<text x="289.18" y="212.70" font-size="17.4" text-anchor="start" > nA</text>
<rect x="277.1" y="312.1" width="4.6" height="31.2" fill="#000"/>
<path d="M291.05,336.00L289.52,336.00L289.52,326.69L288.99,327.15L288.15,327.72L287.30,328.14L286.57,328.43L286.57,327.02L287.56,326.54L288.57,325.85L289.50,324.96L290.09,324.10L291.05,324.10Z" fill="#000" stroke="#000" stroke-width="0.35"/>
<text x="294.22" y="336.00" font-size="17.3" text-anchor="start" > nA</text>
<line x1="390.00" y1="30.70" x2="390.00" y2="181.00" stroke="#000" stroke-width="1.8" stroke-linecap="butt"/>
<line x1="390.00" y1="186.50" x2="390.00" y2="200.60" stroke="#000" stroke-width="1.8" stroke-linecap="butt"/>
<line x1="386.50" y1="31.30" x2="390.00" y2="31.30" stroke="#000" stroke-width="1.1" stroke-linecap="butt"/>
<line x1="386.50" y1="66.70" x2="390.00" y2="66.70" stroke="#000" stroke-width="1.1" stroke-linecap="butt"/>
<line x1="386.50" y1="102.10" x2="390.00" y2="102.10" stroke="#000" stroke-width="1.1" stroke-linecap="butt"/>
<line x1="386.50" y1="137.50" x2="390.00" y2="137.50" stroke="#000" stroke-width="1.1" stroke-linecap="butt"/>
<line x1="386.50" y1="172.50" x2="390.00" y2="172.50" stroke="#000" stroke-width="1.1" stroke-linecap="butt"/>
<line x1="388.20" y1="49.00" x2="390.00" y2="49.00" stroke="#000" stroke-width="1.0" stroke-linecap="butt"/>
<line x1="388.20" y1="84.40" x2="390.00" y2="84.40" stroke="#000" stroke-width="1.0" stroke-linecap="butt"/>
<line x1="388.20" y1="119.80" x2="390.00" y2="119.80" stroke="#000" stroke-width="1.0" stroke-linecap="butt"/>
<line x1="388.20" y1="155.00" x2="390.00" y2="155.00" stroke="#000" stroke-width="1.0" stroke-linecap="butt"/>
<line x1="386.50" y1="200.00" x2="390.00" y2="200.00" stroke="#000" stroke-width="1.1" stroke-linecap="butt"/>
<line x1="386.60" y1="183.55" x2="393.40" y2="180.85" stroke="#000" stroke-width="1.3" stroke-linecap="butt"/>
<line x1="386.60" y1="186.65" x2="393.40" y2="183.95" stroke="#000" stroke-width="1.3" stroke-linecap="butt"/>
<line x1="392.40" y1="206.00" x2="515.50" y2="206.00" stroke="#000" stroke-width="1.8" stroke-linecap="butt"/>
<line x1="393.30" y1="206.00" x2="393.30" y2="209.00" stroke="#000" stroke-width="1.1" stroke-linecap="butt"/>
<line x1="442.30" y1="206.00" x2="442.30" y2="209.00" stroke="#000" stroke-width="1.1" stroke-linecap="butt"/>
<line x1="491.30" y1="206.00" x2="491.30" y2="209.00" stroke="#000" stroke-width="1.1" stroke-linecap="butt"/>
<line x1="417.80" y1="206.00" x2="417.80" y2="207.80" stroke="#000" stroke-width="1.0" stroke-linecap="butt"/>
<line x1="466.80" y1="206.00" x2="466.80" y2="207.80" stroke="#000" stroke-width="1.0" stroke-linecap="butt"/>
<line x1="515.00" y1="206.00" x2="515.00" y2="207.80" stroke="#000" stroke-width="1.0" stroke-linecap="butt"/>
<path d="M365.28,36.50L363.68,36.50L363.68,26.07L363.12,26.58L362.23,27.22L361.34,27.69L360.57,28.02L360.57,26.44L361.61,25.90L362.68,25.13L363.65,24.13L364.28,23.16L365.28,23.16Z" fill="#000" stroke="#000" stroke-width="0.35"/>
<text transform="translate(368.62 36.50) scale(1 1.065)" font-size="18.2" text-anchor="start">.2</text>
<path d="M365.28,72.40L363.68,72.40L363.68,61.97L363.12,62.48L362.23,63.12L361.34,63.59L360.57,63.92L360.57,62.34L361.61,61.80L362.68,61.03L363.65,60.03L364.28,59.06L365.28,59.06Z" fill="#000" stroke="#000" stroke-width="0.35"/>
<text transform="translate(368.62 72.40) scale(1 1.065)" font-size="18.2" text-anchor="start">.0</text>
<text transform="translate(383.80 107.80) scale(1 1.065)" font-size="18.2" text-anchor="end">0.8</text>
<text transform="translate(383.80 143.10) scale(1 1.065)" font-size="18.2" text-anchor="end">0.6</text>
<text transform="translate(383.80 178.60) scale(1 1.065)" font-size="18.2" text-anchor="end">0.4</text>
<text transform="translate(383.80 206.20) scale(1 1.065)" font-size="18.2" text-anchor="end">0</text>
<text transform="translate(393.30 226.60) scale(1 1.07)" font-size="19.3" text-anchor="middle">0</text>
<path d="M439.06,226.60L437.36,226.60L437.36,215.48L436.77,216.04L435.82,216.71L434.88,217.22L434.06,217.57L434.06,215.88L435.16,215.31L436.30,214.49L437.33,213.42L437.99,212.39L439.06,212.39Z" fill="#000" stroke="#000" stroke-width="0.35"/>
<text transform="translate(442.60 226.60) scale(1 1.07)" font-size="19.3" text-anchor="start">0</text>
<text transform="translate(490.40 226.60) scale(1 1.07)" font-size="19.3" text-anchor="middle">20</text>
<text x="348.30" y="115.60" font-size="16.8" text-anchor="middle" transform="rotate(-90 348.3 115.6)">Normalized Current</text>
<text transform="translate(396.68 250.00) scale(1 1.08)" font-size="17" text-anchor="start">Open time (ms)</text>
<line x1="394.00" y1="304.60" x2="394.00" y2="454.50" stroke="#000" stroke-width="1.8" stroke-linecap="butt"/>
<line x1="394.00" y1="460.50" x2="394.00" y2="474.30" stroke="#000" stroke-width="1.8" stroke-linecap="butt"/>
<line x1="390.50" y1="305.50" x2="394.00" y2="305.50" stroke="#000" stroke-width="1.1" stroke-linecap="butt"/>
<line x1="390.50" y1="351.40" x2="394.00" y2="351.40" stroke="#000" stroke-width="1.1" stroke-linecap="butt"/>
<line x1="390.50" y1="397.30" x2="394.00" y2="397.30" stroke="#000" stroke-width="1.1" stroke-linecap="butt"/>
<line x1="390.50" y1="443.50" x2="394.00" y2="443.50" stroke="#000" stroke-width="1.1" stroke-linecap="butt"/>
<line x1="392.20" y1="328.50" x2="394.00" y2="328.50" stroke="#000" stroke-width="1.0" stroke-linecap="butt"/>
<line x1="392.20" y1="374.30" x2="394.00" y2="374.30" stroke="#000" stroke-width="1.0" stroke-linecap="butt"/>
<line x1="392.20" y1="420.40" x2="394.00" y2="420.40" stroke="#000" stroke-width="1.0" stroke-linecap="butt"/>
<line x1="390.50" y1="473.70" x2="394.00" y2="473.70" stroke="#000" stroke-width="1.1" stroke-linecap="butt"/>
<line x1="390.60" y1="457.30" x2="397.40" y2="454.60" stroke="#000" stroke-width="1.3" stroke-linecap="butt"/>
<line x1="390.60" y1="460.40" x2="397.40" y2="457.70" stroke="#000" stroke-width="1.3" stroke-linecap="butt"/>
<line x1="396.90" y1="480.00" x2="520.50" y2="480.00" stroke="#000" stroke-width="1.8" stroke-linecap="butt"/>
<line x1="397.60" y1="480.00" x2="397.60" y2="483.00" stroke="#000" stroke-width="1.1" stroke-linecap="butt"/>
<line x1="446.00" y1="480.00" x2="446.00" y2="483.00" stroke="#000" stroke-width="1.1" stroke-linecap="butt"/>
<line x1="494.40" y1="480.00" x2="494.40" y2="483.00" stroke="#000" stroke-width="1.1" stroke-linecap="butt"/>
<line x1="421.80" y1="480.00" x2="421.80" y2="481.80" stroke="#000" stroke-width="1.0" stroke-linecap="butt"/>
<line x1="470.20" y1="480.00" x2="470.20" y2="481.80" stroke="#000" stroke-width="1.0" stroke-linecap="butt"/>
<line x1="518.60" y1="480.00" x2="518.60" y2="481.80" stroke="#000" stroke-width="1.0" stroke-linecap="butt"/>
<path d="M369.38,310.70L367.78,310.70L367.78,300.27L367.22,300.78L366.33,301.42L365.44,301.89L364.67,302.22L364.67,300.64L365.71,300.10L366.78,299.33L367.75,298.33L368.38,297.36L369.38,297.36Z" fill="#000" stroke="#000" stroke-width="0.35"/>
<text transform="translate(372.72 310.70) scale(1 1.065)" font-size="18.2" text-anchor="start">.0</text>
<text transform="translate(387.90 356.90) scale(1 1.065)" font-size="18.2" text-anchor="end">0.8</text>
<text transform="translate(387.90 402.80) scale(1 1.065)" font-size="18.2" text-anchor="end">0.6</text>
<text transform="translate(387.90 450.10) scale(1 1.065)" font-size="18.2" text-anchor="end">0.4</text>
<text transform="translate(387.90 479.80) scale(1 1.065)" font-size="18.2" text-anchor="end">0</text>
<text transform="translate(397.60 499.60) scale(1 1.07)" font-size="19.3" text-anchor="middle">0</text>
<text transform="translate(446.00 499.60) scale(1 1.07)" font-size="19.3" text-anchor="middle">20</text>
<text transform="translate(494.40 499.60) scale(1 1.07)" font-size="19.3" text-anchor="middle">40</text>
<text x="353.10" y="389.60" font-size="16.8" text-anchor="middle" transform="rotate(-90 353.1 389.6)">Normalized Current</text>
<text transform="translate(400.18 523.40) scale(1 1.04)" font-size="17" text-anchor="start">Open time (ms)</text>
<line x1="398.30" y1="43.80" x2="398.30" y2="61.80" stroke="#000000" stroke-width="1.0" stroke-linecap="butt"/>
<line x1="396.00" y1="43.80" x2="400.60" y2="43.80" stroke="#000000" stroke-width="1.0" stroke-linecap="butt"/>
<line x1="396.00" y1="61.80" x2="400.60" y2="61.80" stroke="#000000" stroke-width="1.0" stroke-linecap="butt"/>
<line x1="403.70" y1="71.80" x2="403.70" y2="87.80" stroke="#000000" stroke-width="1.0" stroke-linecap="butt"/>
<line x1="401.40" y1="71.80" x2="406.00" y2="71.80" stroke="#000000" stroke-width="1.0" stroke-linecap="butt"/>
<line x1="401.40" y1="87.80" x2="406.00" y2="87.80" stroke="#000000" stroke-width="1.0" stroke-linecap="butt"/>
<line x1="409.10" y1="94.10" x2="409.10" y2="110.10" stroke="#000000" stroke-width="1.0" stroke-linecap="butt"/>
<line x1="406.80" y1="94.10" x2="411.40" y2="94.10" stroke="#000000" stroke-width="1.0" stroke-linecap="butt"/>
<line x1="406.80" y1="110.10" x2="411.40" y2="110.10" stroke="#000000" stroke-width="1.0" stroke-linecap="butt"/>
<line x1="414.50" y1="107.00" x2="414.50" y2="119.00" stroke="#000000" stroke-width="1.0" stroke-linecap="butt"/>
<line x1="412.20" y1="107.00" x2="416.80" y2="107.00" stroke="#000000" stroke-width="1.0" stroke-linecap="butt"/>
<line x1="412.20" y1="119.00" x2="416.80" y2="119.00" stroke="#000000" stroke-width="1.0" stroke-linecap="butt"/>
<line x1="420.40" y1="115.00" x2="420.40" y2="127.00" stroke="#000000" stroke-width="1.0" stroke-linecap="butt"/>
<line x1="418.10" y1="115.00" x2="422.70" y2="115.00" stroke="#000000" stroke-width="1.0" stroke-linecap="butt"/>
<line x1="418.10" y1="127.00" x2="422.70" y2="127.00" stroke="#000000" stroke-width="1.0" stroke-linecap="butt"/>
<line x1="426.00" y1="121.00" x2="426.00" y2="133.00" stroke="#000000" stroke-width="1.0" stroke-linecap="butt"/>
<line x1="423.70" y1="121.00" x2="428.30" y2="121.00" stroke="#000000" stroke-width="1.0" stroke-linecap="butt"/>
<line x1="423.70" y1="133.00" x2="428.30" y2="133.00" stroke="#000000" stroke-width="1.0" stroke-linecap="butt"/>
<line x1="441.00" y1="126.30" x2="441.00" y2="140.30" stroke="#000000" stroke-width="1.0" stroke-linecap="butt"/>
<line x1="438.70" y1="126.30" x2="443.30" y2="126.30" stroke="#000000" stroke-width="1.0" stroke-linecap="butt"/>
<line x1="438.70" y1="140.30" x2="443.30" y2="140.30" stroke="#000000" stroke-width="1.0" stroke-linecap="butt"/>
<line x1="446.50" y1="134.80" x2="446.50" y2="146.80" stroke="#000000" stroke-width="1.0" stroke-linecap="butt"/>
<line x1="444.20" y1="134.80" x2="448.80" y2="134.80" stroke="#000000" stroke-width="1.0" stroke-linecap="butt"/>
<line x1="444.20" y1="146.80" x2="448.80" y2="146.80" stroke="#000000" stroke-width="1.0" stroke-linecap="butt"/>
<line x1="452.00" y1="135.50" x2="452.00" y2="147.50" stroke="#000000" stroke-width="1.0" stroke-linecap="butt"/>
<line x1="449.70" y1="135.50" x2="454.30" y2="135.50" stroke="#000000" stroke-width="1.0" stroke-linecap="butt"/>
<line x1="449.70" y1="147.50" x2="454.30" y2="147.50" stroke="#000000" stroke-width="1.0" stroke-linecap="butt"/>
<line x1="462.50" y1="134.60" x2="462.50" y2="146.60" stroke="#000000" stroke-width="1.0" stroke-linecap="butt"/>
<line x1="460.20" y1="134.60" x2="464.80" y2="134.60" stroke="#000000" stroke-width="1.0" stroke-linecap="butt"/>
<line x1="460.20" y1="146.60" x2="464.80" y2="146.60" stroke="#000000" stroke-width="1.0" stroke-linecap="butt"/>
<line x1="473.10" y1="137.10" x2="473.10" y2="149.10" stroke="#000000" stroke-width="1.0" stroke-linecap="butt"/>
<line x1="470.80" y1="137.10" x2="475.40" y2="137.10" stroke="#000000" stroke-width="1.0" stroke-linecap="butt"/>
<line x1="470.80" y1="149.10" x2="475.40" y2="149.10" stroke="#000000" stroke-width="1.0" stroke-linecap="butt"/>
<line x1="483.80" y1="143.50" x2="483.80" y2="153.50" stroke="#000000" stroke-width="1.0" stroke-linecap="butt"/>
<line x1="481.50" y1="143.50" x2="486.10" y2="143.50" stroke="#000000" stroke-width="1.0" stroke-linecap="butt"/>
<line x1="481.50" y1="153.50" x2="486.10" y2="153.50" stroke="#000000" stroke-width="1.0" stroke-linecap="butt"/>
<line x1="493.80" y1="143.50" x2="493.80" y2="153.50" stroke="#000000" stroke-width="1.0" stroke-linecap="butt"/>
<line x1="491.50" y1="143.50" x2="496.10" y2="143.50" stroke="#000000" stroke-width="1.0" stroke-linecap="butt"/>
<line x1="491.50" y1="153.50" x2="496.10" y2="153.50" stroke="#000000" stroke-width="1.0" stroke-linecap="butt"/>
<line x1="499.40" y1="141.90" x2="499.40" y2="151.90" stroke="#000000" stroke-width="1.0" stroke-linecap="butt"/>
<line x1="497.10" y1="141.90" x2="501.70" y2="141.90" stroke="#000000" stroke-width="1.0" stroke-linecap="butt"/>
<line x1="497.10" y1="151.90" x2="501.70" y2="151.90" stroke="#000000" stroke-width="1.0" stroke-linecap="butt"/>
<circle cx="398.30" cy="52.80" r="3.1" fill="#000000"/>
<circle cx="403.70" cy="79.80" r="3.1" fill="#000000"/>
<circle cx="409.10" cy="102.10" r="3.1" fill="#000000"/>
<circle cx="414.50" cy="113.00" r="3.1" fill="#000000"/>
<circle cx="420.40" cy="121.00" r="3.1" fill="#000000"/>
<circle cx="426.00" cy="127.00" r="3.1" fill="#000000"/>
<circle cx="441.00" cy="133.30" r="3.1" fill="#000000"/>
<circle cx="446.50" cy="140.80" r="3.1" fill="#000000"/>
<circle cx="452.00" cy="141.50" r="3.1" fill="#000000"/>
<circle cx="462.50" cy="140.60" r="3.1" fill="#000000"/>
<circle cx="473.10" cy="143.10" r="3.1" fill="#000000"/>
<circle cx="483.80" cy="148.50" r="3.1" fill="#000000"/>
<circle cx="493.80" cy="148.50" r="3.1" fill="#000000"/>
<circle cx="499.40" cy="146.90" r="3.1" fill="#000000"/>
<line x1="403.20" y1="82.00" x2="403.20" y2="94.00" stroke="#e01010" stroke-width="1.0" stroke-linecap="butt"/>
<line x1="400.90" y1="82.00" x2="405.50" y2="82.00" stroke="#e01010" stroke-width="1.0" stroke-linecap="butt"/>
<line x1="400.90" y1="94.00" x2="405.50" y2="94.00" stroke="#e01010" stroke-width="1.0" stroke-linecap="butt"/>
<line x1="408.80" y1="97.00" x2="408.80" y2="109.00" stroke="#e01010" stroke-width="1.0" stroke-linecap="butt"/>
<line x1="406.50" y1="97.00" x2="411.10" y2="97.00" stroke="#e01010" stroke-width="1.0" stroke-linecap="butt"/>
<line x1="406.50" y1="109.00" x2="411.10" y2="109.00" stroke="#e01010" stroke-width="1.0" stroke-linecap="butt"/>
<line x1="424.00" y1="127.50" x2="424.00" y2="139.50" stroke="#e01010" stroke-width="1.0" stroke-linecap="butt"/>
<line x1="421.70" y1="127.50" x2="426.30" y2="127.50" stroke="#e01010" stroke-width="1.0" stroke-linecap="butt"/>
<line x1="421.70" y1="139.50" x2="426.30" y2="139.50" stroke="#e01010" stroke-width="1.0" stroke-linecap="butt"/>
<line x1="435.20" y1="139.20" x2="435.20" y2="151.20" stroke="#e01010" stroke-width="1.0" stroke-linecap="butt"/>
<line x1="432.90" y1="139.20" x2="437.50" y2="139.20" stroke="#e01010" stroke-width="1.0" stroke-linecap="butt"/>
<line x1="432.90" y1="151.20" x2="437.50" y2="151.20" stroke="#e01010" stroke-width="1.0" stroke-linecap="butt"/>
<line x1="446.00" y1="143.20" x2="446.00" y2="155.20" stroke="#e01010" stroke-width="1.0" stroke-linecap="butt"/>
<line x1="443.70" y1="143.20" x2="448.30" y2="143.20" stroke="#e01010" stroke-width="1.0" stroke-linecap="butt"/>
<line x1="443.70" y1="155.20" x2="448.30" y2="155.20" stroke="#e01010" stroke-width="1.0" stroke-linecap="butt"/>
<line x1="455.00" y1="145.60" x2="455.00" y2="155.60" stroke="#e01010" stroke-width="1.0" stroke-linecap="butt"/>
<line x1="452.70" y1="145.60" x2="457.30" y2="145.60" stroke="#e01010" stroke-width="1.0" stroke-linecap="butt"/>
<line x1="452.70" y1="155.60" x2="457.30" y2="155.60" stroke="#e01010" stroke-width="1.0" stroke-linecap="butt"/>
<line x1="467.50" y1="141.30" x2="467.50" y2="151.30" stroke="#e01010" stroke-width="1.0" stroke-linecap="butt"/>
<line x1="465.20" y1="141.30" x2="469.80" y2="141.30" stroke="#e01010" stroke-width="1.0" stroke-linecap="butt"/>
<line x1="465.20" y1="151.30" x2="469.80" y2="151.30" stroke="#e01010" stroke-width="1.0" stroke-linecap="butt"/>
<line x1="478.30" y1="143.70" x2="478.30" y2="153.70" stroke="#e01010" stroke-width="1.0" stroke-linecap="butt"/>
<line x1="476.00" y1="143.70" x2="480.60" y2="143.70" stroke="#e01010" stroke-width="1.0" stroke-linecap="butt"/>
<line x1="476.00" y1="153.70" x2="480.60" y2="153.70" stroke="#e01010" stroke-width="1.0" stroke-linecap="butt"/>
<line x1="488.80" y1="145.60" x2="488.80" y2="155.60" stroke="#e01010" stroke-width="1.0" stroke-linecap="butt"/>
<line x1="486.50" y1="145.60" x2="491.10" y2="145.60" stroke="#e01010" stroke-width="1.0" stroke-linecap="butt"/>
<line x1="486.50" y1="155.60" x2="491.10" y2="155.60" stroke="#e01010" stroke-width="1.0" stroke-linecap="butt"/>
<line x1="499.50" y1="145.50" x2="499.50" y2="155.50" stroke="#e01010" stroke-width="1.0" stroke-linecap="butt"/>
<line x1="497.20" y1="145.50" x2="501.80" y2="145.50" stroke="#e01010" stroke-width="1.0" stroke-linecap="butt"/>
<line x1="497.20" y1="155.50" x2="501.80" y2="155.50" stroke="#e01010" stroke-width="1.0" stroke-linecap="butt"/>
<line x1="510.20" y1="146.30" x2="510.20" y2="156.30" stroke="#e01010" stroke-width="1.0" stroke-linecap="butt"/>
<line x1="507.90" y1="146.30" x2="512.50" y2="146.30" stroke="#e01010" stroke-width="1.0" stroke-linecap="butt"/>
<line x1="507.90" y1="156.30" x2="512.50" y2="156.30" stroke="#e01010" stroke-width="1.0" stroke-linecap="butt"/>
<circle cx="403.20" cy="88.00" r="3.1" fill="#e01010"/>
<circle cx="408.80" cy="103.00" r="3.1" fill="#e01010"/>
<circle cx="424.00" cy="133.50" r="3.1" fill="#e01010"/>
<circle cx="435.20" cy="145.20" r="3.1" fill="#e01010"/>
<circle cx="446.00" cy="149.20" r="3.1" fill="#e01010"/>
<circle cx="455.00" cy="150.60" r="3.1" fill="#e01010"/>
<circle cx="467.50" cy="146.30" r="3.1" fill="#e01010"/>
<circle cx="478.30" cy="148.70" r="3.1" fill="#e01010"/>
<circle cx="488.80" cy="150.60" r="3.1" fill="#e01010"/>
<circle cx="499.50" cy="150.50" r="3.1" fill="#e01010"/>
<circle cx="510.20" cy="151.30" r="3.1" fill="#e01010"/>
<line x1="412.00" y1="107.30" x2="412.00" y2="121.30" stroke="#0a14ff" stroke-width="1.0" stroke-linecap="butt"/>
<line x1="409.70" y1="107.30" x2="414.30" y2="107.30" stroke="#0a14ff" stroke-width="1.0" stroke-linecap="butt"/>
<line x1="409.70" y1="121.30" x2="414.30" y2="121.30" stroke="#0a14ff" stroke-width="1.0" stroke-linecap="butt"/>
<line x1="418.50" y1="116.00" x2="418.50" y2="128.00" stroke="#0a14ff" stroke-width="1.0" stroke-linecap="butt"/>
<line x1="416.20" y1="116.00" x2="420.80" y2="116.00" stroke="#0a14ff" stroke-width="1.0" stroke-linecap="butt"/>
<line x1="416.20" y1="128.00" x2="420.80" y2="128.00" stroke="#0a14ff" stroke-width="1.0" stroke-linecap="butt"/>
<line x1="433.90" y1="136.50" x2="433.90" y2="148.50" stroke="#0a14ff" stroke-width="1.0" stroke-linecap="butt"/>
<line x1="431.60" y1="136.50" x2="436.20" y2="136.50" stroke="#0a14ff" stroke-width="1.0" stroke-linecap="butt"/>
<line x1="431.60" y1="148.50" x2="436.20" y2="148.50" stroke="#0a14ff" stroke-width="1.0" stroke-linecap="butt"/>
<line x1="444.50" y1="139.00" x2="444.50" y2="151.00" stroke="#0a14ff" stroke-width="1.0" stroke-linecap="butt"/>
<line x1="442.20" y1="139.00" x2="446.80" y2="139.00" stroke="#0a14ff" stroke-width="1.0" stroke-linecap="butt"/>
<line x1="442.20" y1="151.00" x2="446.80" y2="151.00" stroke="#0a14ff" stroke-width="1.0" stroke-linecap="butt"/>
<line x1="456.00" y1="136.00" x2="456.00" y2="150.00" stroke="#0a14ff" stroke-width="1.0" stroke-linecap="butt"/>
<line x1="453.70" y1="136.00" x2="458.30" y2="136.00" stroke="#0a14ff" stroke-width="1.0" stroke-linecap="butt"/>
<line x1="453.70" y1="150.00" x2="458.30" y2="150.00" stroke="#0a14ff" stroke-width="1.0" stroke-linecap="butt"/>
<line x1="498.80" y1="147.00" x2="498.80" y2="163.00" stroke="#0a14ff" stroke-width="1.0" stroke-linecap="butt"/>
<line x1="496.50" y1="147.00" x2="501.10" y2="147.00" stroke="#0a14ff" stroke-width="1.0" stroke-linecap="butt"/>
<line x1="496.50" y1="163.00" x2="501.10" y2="163.00" stroke="#0a14ff" stroke-width="1.0" stroke-linecap="butt"/>
<circle cx="412.00" cy="114.30" r="3.1" fill="#0a14ff"/>
<circle cx="418.50" cy="122.00" r="3.1" fill="#0a14ff"/>
<circle cx="433.90" cy="142.50" r="3.1" fill="#0a14ff"/>
<circle cx="444.50" cy="145.00" r="3.1" fill="#0a14ff"/>
<circle cx="456.00" cy="143.00" r="3.1" fill="#0a14ff"/>
<circle cx="498.80" cy="155.00" r="3.1" fill="#0a14ff"/>
<line x1="431.90" y1="130.20" x2="431.90" y2="142.20" stroke="#e000f0" stroke-width="1.0" stroke-linecap="butt"/>
<line x1="429.60" y1="130.20" x2="434.20" y2="130.20" stroke="#e000f0" stroke-width="1.0" stroke-linecap="butt"/>
<line x1="429.60" y1="142.20" x2="434.20" y2="142.20" stroke="#e000f0" stroke-width="1.0" stroke-linecap="butt"/>
<line x1="441.00" y1="137.00" x2="441.00" y2="149.00" stroke="#e000f0" stroke-width="1.0" stroke-linecap="butt"/>
<line x1="438.70" y1="137.00" x2="443.30" y2="137.00" stroke="#e000f0" stroke-width="1.0" stroke-linecap="butt"/>
<line x1="438.70" y1="149.00" x2="443.30" y2="149.00" stroke="#e000f0" stroke-width="1.0" stroke-linecap="butt"/>
<line x1="452.00" y1="141.00" x2="452.00" y2="153.00" stroke="#e000f0" stroke-width="1.0" stroke-linecap="butt"/>
<line x1="449.70" y1="141.00" x2="454.30" y2="141.00" stroke="#e000f0" stroke-width="1.0" stroke-linecap="butt"/>
<line x1="449.70" y1="153.00" x2="454.30" y2="153.00" stroke="#e000f0" stroke-width="1.0" stroke-linecap="butt"/>
<line x1="475.60" y1="142.00" x2="475.60" y2="156.00" stroke="#e000f0" stroke-width="1.0" stroke-linecap="butt"/>
<line x1="473.30" y1="142.00" x2="477.90" y2="142.00" stroke="#e000f0" stroke-width="1.0" stroke-linecap="butt"/>
<line x1="473.30" y1="156.00" x2="477.90" y2="156.00" stroke="#e000f0" stroke-width="1.0" stroke-linecap="butt"/>
<line x1="514.00" y1="149.50" x2="514.00" y2="161.50" stroke="#e000f0" stroke-width="1.0" stroke-linecap="butt"/>
<line x1="511.70" y1="149.50" x2="516.30" y2="149.50" stroke="#e000f0" stroke-width="1.0" stroke-linecap="butt"/>
<line x1="511.70" y1="161.50" x2="516.30" y2="161.50" stroke="#e000f0" stroke-width="1.0" stroke-linecap="butt"/>
<circle cx="431.90" cy="136.20" r="3.1" fill="#e000f0"/>
<circle cx="441.00" cy="143.00" r="3.1" fill="#e000f0"/>
<circle cx="452.00" cy="147.00" r="3.1" fill="#e000f0"/>
<circle cx="475.60" cy="149.00" r="3.1" fill="#e000f0"/>
<circle cx="514.00" cy="155.50" r="3.1" fill="#e000f0"/>
<path d="M393.6,32.0L394.1,35.4L394.6,38.7L395.1,41.9L395.6,45.0L396.1,48.0L396.6,51.0L397.1,53.8L397.6,56.6L398.1,59.3L398.6,61.9L399.1,64.4L399.6,66.9L400.1,69.3L400.6,71.6L401.1,73.8L401.6,76.0L402.1,78.1L402.6,80.2L403.1,82.2L403.6,84.1L404.1,86.0L404.6,87.8L405.1,89.6L405.6,91.3L406.1,93.0L406.6,94.6L407.1,96.2L407.6,97.7L408.1,99.2L408.6,100.7L409.2,102.1L409.7,103.4L410.2,104.7L410.7,106.0L411.2,107.3L411.7,108.5L412.2,109.6L412.7,110.8L413.2,111.9L413.7,113.0L414.2,114.0L414.7,115.0L415.2,116.0L415.7,116.9L416.2,117.9L416.7,118.8L417.2,119.6L417.7,120.5L418.2,121.3L418.7,122.1L419.2,122.9L419.7,123.6L420.2,124.3L420.7,125.1L421.2,125.7L421.7,126.4L422.2,127.1L422.7,127.7L423.2,128.3L423.7,128.9L424.2,129.5L424.7,130.0L425.2,130.6L425.7,131.1L426.2,131.6L426.7,132.1L427.2,132.6L427.7,133.0L428.2,133.5L428.7,133.9L429.2,134.4L429.7,134.8L430.2,135.2L430.7,135.6L431.2,136.0L431.7,136.3L432.2,136.7L432.7,137.0L433.2,137.4L433.7,137.7L434.2,138.0L434.7,138.3L435.2,138.6L435.7,138.9L436.2,139.2L436.7,139.5L437.2,139.7L437.7,140.0L438.2,140.2L438.7,140.5L439.2,140.7L439.8,141.0L440.3,141.2L440.8,141.4L441.3,141.6L441.8,141.8L442.3,142.0L442.8,142.2L443.3,142.4L443.8,142.6L444.3,142.7L444.8,142.9L445.3,143.1L445.8,143.2L446.3,143.4L446.8,143.5L447.3,143.7L447.8,143.8L448.3,144.0L448.8,144.1L449.3,144.2L449.8,144.4L450.3,144.5L450.8,144.6L451.3,144.7L451.8,144.8L452.3,144.9L452.8,145.1L453.3,145.2L453.8,145.3L454.3,145.4L454.8,145.5L455.3,145.5L455.8,145.6L456.3,145.7L456.8,145.8L457.3,145.9L457.8,146.0L458.3,146.0L458.8,146.1L459.3,146.2L459.8,146.3L460.3,146.3L460.8,146.4L461.3,146.5L461.8,146.5L462.3,146.6L462.8,146.6L463.3,146.7L463.8,146.7L464.3,146.8L464.8,146.9L465.3,146.9L465.8,147.0L466.3,147.0L466.8,147.0L467.3,147.1L467.8,147.1L468.3,147.2L468.8,147.2L469.3,147.3L469.9,147.3L470.4,147.3L470.9,147.4L471.4,147.4L471.9,147.4L472.4,147.5L472.9,147.5L473.4,147.5L473.9,147.6L474.4,147.6L474.9,147.6L475.4,147.7L475.9,147.7L476.4,147.7L476.9,147.7L477.4,147.8L477.9,147.8L478.4,147.8L478.9,147.8L479.4,147.9L479.9,147.9L480.4,147.9L480.9,147.9L481.4,147.9L481.9,148.0L482.4,148.0L482.9,148.0L483.4,148.0L483.9,148.0L484.4,148.0L484.9,148.1L485.4,148.1L485.9,148.1L486.4,148.1L486.9,148.1L487.4,148.1L487.9,148.1L488.4,148.2L488.9,148.2L489.4,148.2L489.9,148.2L490.4,148.2L490.9,148.2L491.4,148.2L491.9,148.2L492.4,148.2L492.9,148.3L493.4,148.3L493.9,148.3L494.4,148.3L494.9,148.3L495.4,148.3L495.9,148.3L496.4,148.3L496.9,148.3L497.4,148.3L497.9,148.3L498.4,148.3L498.9,148.4L499.4,148.4L499.9,148.4L500.5,148.4L501.0,148.4L501.5,148.4L502.0,148.4L502.5,148.4L503.0,148.4L503.5,148.4L504.0,148.4L504.5,148.4L505.0,148.4L505.5,148.4L506.0,148.4L506.5,148.4L507.0,148.4L507.5,148.4L508.0,148.5L508.5,148.5L509.0,148.5L509.5,148.5L510.0,148.5L510.5,148.5L511.0,148.5L511.5,148.5L512.0,148.5L512.5,148.5L513.0,148.5L513.5,148.5L514.0,148.5L514.5,148.5L515.0,148.5L515.5,148.5" fill="none" stroke="#000" stroke-width="1.1" stroke-linejoin="round" opacity="1.0"/>
<path d="M393.4,43.9L393.9,47.0L394.4,49.9L394.9,52.8L395.4,55.6L395.9,58.4L396.4,61.0L396.9,63.6L397.4,66.1L397.9,68.6L398.4,71.0L398.9,73.3L399.4,75.5L399.9,77.7L400.4,79.8L400.9,81.9L401.4,83.9L401.9,85.8L402.4,87.7L402.9,89.6L403.4,91.4L403.9,93.1L404.4,94.8L404.9,96.4L405.4,98.0L405.9,99.6L406.4,101.1L406.9,102.6L407.4,104.0L407.9,105.4L408.4,106.8L408.9,108.1L409.4,109.3L409.9,110.6L410.4,111.8L410.9,113.0L411.4,114.1L411.9,115.2L412.4,116.3L412.9,117.3L413.4,118.4L413.9,119.3L414.4,120.3L414.9,121.2L415.4,122.1L415.9,123.0L416.4,123.9L416.9,124.7L417.4,125.5L417.9,126.3L418.4,127.1L418.9,127.8L419.4,128.6L419.9,129.3L420.4,130.0L420.9,130.6L421.4,131.3L421.9,131.9L422.4,132.5L422.9,133.1L423.4,133.7L423.9,134.3L424.4,134.8L424.9,135.3L425.4,135.8L425.9,136.3L426.4,136.8L426.9,137.3L427.4,137.8L427.9,138.2L428.4,138.7L428.9,139.1L429.4,139.5L429.9,139.9L430.4,140.3L430.9,140.7L431.4,141.0L431.9,141.4L432.4,141.7L432.9,142.1L433.4,142.4L433.9,142.7L434.4,143.0L434.9,143.3L435.4,143.6L435.9,143.9L436.4,144.2L436.9,144.5L437.4,144.7L437.9,145.0L438.4,145.2L438.9,145.5L439.4,145.7L439.9,145.9L440.4,146.2L440.9,146.4L441.4,146.6L441.9,146.8L442.4,147.0L442.9,147.2L443.4,147.4L443.9,147.5L444.4,147.7L444.9,147.9L445.4,148.1L445.9,148.2L446.4,148.4L446.9,148.5L447.4,148.7L447.9,148.8L448.4,149.0L448.9,149.1L449.4,149.2L449.9,149.4L450.4,149.5L450.9,149.6L451.4,149.7L451.9,149.8L452.4,150.0L452.9,150.1L453.4,150.2L453.9,150.3L454.4,150.4L455.0,150.5L455.5,150.6L456.0,150.7L456.5,150.7L457.0,150.8L457.5,150.9L458.0,151.0L458.5,151.1L459.0,151.2L459.5,151.2L460.0,151.3L460.5,151.4L461.0,151.5L461.5,151.5L462.0,151.6L462.5,151.6L463.0,151.7L463.5,151.8L464.0,151.8L464.5,151.9L465.0,151.9L465.5,152.0L466.0,152.0L466.5,152.1L467.0,152.1L467.5,152.2L468.0,152.2L468.5,152.3L469.0,152.3L469.5,152.4L470.0,152.4L470.5,152.5L471.0,152.5L471.5,152.5L472.0,152.6L472.5,152.6L473.0,152.6L473.5,152.7L474.0,152.7L474.5,152.7L475.0,152.8L475.5,152.8L476.0,152.8L476.5,152.9L477.0,152.9L477.5,152.9L478.0,152.9L478.5,153.0L479.0,153.0L479.5,153.0L480.0,153.0L480.5,153.1L481.0,153.1L481.5,153.1L482.0,153.1L482.5,153.2L483.0,153.2L483.5,153.2L484.0,153.2L484.5,153.2L485.0,153.3L485.5,153.3L486.0,153.3L486.5,153.3L487.0,153.3L487.5,153.3L488.0,153.4L488.5,153.4L489.0,153.4L489.5,153.4L490.0,153.4L490.5,153.4L491.0,153.4L491.5,153.4L492.0,153.5L492.5,153.5L493.0,153.5L493.5,153.5L494.0,153.5L494.5,153.5L495.0,153.5L495.5,153.5L496.0,153.5L496.5,153.6L497.0,153.6L497.5,153.6L498.0,153.6L498.5,153.6L499.0,153.6L499.5,153.6L500.0,153.6L500.5,153.6L501.0,153.6L501.5,153.6L502.0,153.6L502.5,153.6L503.0,153.7L503.5,153.7L504.0,153.7L504.5,153.7L505.0,153.7L505.5,153.7L506.0,153.7L506.5,153.7L507.0,153.7L507.5,153.7L508.0,153.7L508.5,153.7L509.0,153.7L509.5,153.7L510.0,153.7L510.5,153.7L511.0,153.7L511.5,153.7L512.0,153.7L512.5,153.7L513.0,153.7L513.5,153.8L514.0,153.8L514.5,153.8L515.0,153.8L515.5,153.8" fill="none" stroke="#ff0000" stroke-width="1.0" stroke-linejoin="round" opacity="1.0"/>
<path d="M393.6,66.9L394.1,68.6L394.6,70.3L395.1,71.9L395.6,73.5L396.1,75.1L396.6,76.7L397.1,78.2L397.6,79.7L398.1,81.1L398.6,82.5L399.1,83.9L399.6,85.3L400.1,86.7L400.6,88.0L401.1,89.3L401.6,90.6L402.1,91.8L402.6,93.0L403.1,94.2L403.6,95.4L404.1,96.6L404.6,97.7L405.1,98.8L405.6,99.9L406.1,100.9L406.6,102.0L407.1,103.0L407.6,104.0L408.1,105.0L408.6,106.0L409.2,106.9L409.7,107.8L410.2,108.8L410.7,109.7L411.2,110.5L411.7,111.4L412.2,112.2L412.7,113.1L413.2,113.9L413.7,114.7L414.2,115.4L414.7,116.2L415.2,117.0L415.7,117.7L416.2,118.4L416.7,119.1L417.2,119.8L417.7,120.5L418.2,121.1L418.7,121.8L419.2,122.4L419.7,123.1L420.2,123.7L420.7,124.3L421.2,124.9L421.7,125.5L422.2,126.0L422.7,126.6L423.2,127.1L423.7,127.7L424.2,128.2L424.7,128.7L425.2,129.2L425.7,129.7L426.2,130.2L426.7,130.7L427.2,131.1L427.7,131.6L428.2,132.1L428.7,132.5L429.2,132.9L429.7,133.3L430.2,133.8L430.7,134.2L431.2,134.6L431.7,135.0L432.2,135.3L432.7,135.7L433.2,136.1L433.7,136.5L434.2,136.8L434.7,137.2L435.2,137.5L435.7,137.8L436.2,138.2L436.7,138.5L437.2,138.8L437.7,139.1L438.2,139.4L438.7,139.7L439.2,140.0L439.8,140.3L440.3,140.6L440.8,140.9L441.3,141.1L441.8,141.4L442.3,141.6L442.8,141.9L443.3,142.1L443.8,142.4L444.3,142.6L444.8,142.9L445.3,143.1L445.8,143.3L446.3,143.5L446.8,143.8L447.3,144.0L447.8,144.2L448.3,144.4L448.8,144.6L449.3,144.8L449.8,145.0L450.3,145.2L450.8,145.4L451.3,145.5L451.8,145.7L452.3,145.9L452.8,146.1L453.3,146.2L453.8,146.4L454.3,146.6L454.8,146.7L455.3,146.9L455.8,147.0L456.3,147.2L456.8,147.3L457.3,147.5L457.8,147.6L458.3,147.8L458.8,147.9L459.3,148.0L459.8,148.2L460.3,148.3L460.8,148.4L461.3,148.5L461.8,148.7L462.3,148.8L462.8,148.9L463.3,149.0L463.8,149.1L464.3,149.2L464.8,149.3L465.3,149.4L465.8,149.5L466.3,149.6L466.8,149.7L467.3,149.8L467.8,149.9L468.3,150.0L468.8,150.1L469.3,150.2L469.9,150.3L470.4,150.4L470.9,150.5L471.4,150.6L471.9,150.6L472.4,150.7L472.9,150.8L473.4,150.9L473.9,150.9L474.4,151.0L474.9,151.1L475.4,151.2L475.9,151.2L476.4,151.3L476.9,151.4L477.4,151.4L477.9,151.5L478.4,151.6L478.9,151.6L479.4,151.7L479.9,151.7L480.4,151.8L480.9,151.9L481.4,151.9L481.9,152.0L482.4,152.0L482.9,152.1L483.4,152.1L483.9,152.2L484.4,152.2L484.9,152.3L485.4,152.3L485.9,152.4L486.4,152.4L486.9,152.5L487.4,152.5L487.9,152.6L488.4,152.6L488.9,152.6L489.4,152.7L489.9,152.7L490.4,152.8L490.9,152.8L491.4,152.8L491.9,152.9L492.4,152.9L492.9,152.9L493.4,153.0L493.9,153.0L494.4,153.1L494.9,153.1L495.4,153.1L495.9,153.2L496.4,153.2L496.9,153.2L497.4,153.2L497.9,153.3L498.4,153.3L498.9,153.3L499.4,153.4L499.9,153.4L500.5,153.4L501.0,153.4L501.5,153.5L502.0,153.5L502.5,153.5L503.0,153.5L503.5,153.6L504.0,153.6L504.5,153.6L505.0,153.6L505.5,153.7L506.0,153.7L506.5,153.7L507.0,153.7L507.5,153.7L508.0,153.8L508.5,153.8L509.0,153.8L509.5,153.8L510.0,153.8L510.5,153.8L511.0,153.9L511.5,153.9L512.0,153.9L512.5,153.9L513.0,153.9L513.5,153.9L514.0,154.0L514.5,154.0L515.0,154.0L515.5,154.0" fill="none" stroke="#0000ff" stroke-width="1.1" stroke-linejoin="round" opacity="1.0"/>
<path d="M393.6,66.9L394.1,68.5L394.6,70.0L395.1,71.6L395.6,73.1L396.1,74.5L396.6,76.0L397.1,77.4L397.6,78.8L398.1,80.2L398.6,81.5L399.1,82.8L399.6,84.1L400.1,85.4L400.6,86.7L401.1,87.9L401.6,89.1L402.1,90.3L402.6,91.4L403.1,92.6L403.6,93.7L404.1,94.8L404.6,95.9L405.1,96.9L405.6,98.0L406.1,99.0L406.6,100.0L407.1,101.0L407.6,102.0L408.1,102.9L408.6,103.9L409.2,104.8L409.7,105.7L410.2,106.6L410.7,107.4L411.2,108.3L411.7,109.1L412.2,110.0L412.7,110.8L413.2,111.6L413.7,112.3L414.2,113.1L414.7,113.9L415.2,114.6L415.7,115.3L416.2,116.0L416.7,116.7L417.2,117.4L417.7,118.1L418.2,118.7L418.7,119.4L419.2,120.0L419.7,120.7L420.2,121.3L420.7,121.9L421.2,122.5L421.7,123.1L422.2,123.6L422.7,124.2L423.2,124.7L423.7,125.3L424.2,125.8L424.7,126.3L425.2,126.9L425.7,127.4L426.2,127.8L426.7,128.3L427.2,128.8L427.7,129.3L428.2,129.7L428.7,130.2L429.2,130.6L429.7,131.1L430.2,131.5L430.7,131.9L431.2,132.3L431.7,132.7L432.2,133.1L432.7,133.5L433.2,133.9L433.7,134.3L434.2,134.7L434.7,135.0L435.2,135.4L435.7,135.7L436.2,136.1L436.7,136.4L437.2,136.7L437.7,137.1L438.2,137.4L438.7,137.7L439.2,138.0L439.8,138.3L440.3,138.6L440.8,138.9L441.3,139.2L441.8,139.5L442.3,139.7L442.8,140.0L443.3,140.3L443.8,140.5L444.3,140.8L444.8,141.0L445.3,141.3L445.8,141.5L446.3,141.8L446.8,142.0L447.3,142.2L447.8,142.5L448.3,142.7L448.8,142.9L449.3,143.1L449.8,143.3L450.3,143.5L450.8,143.7L451.3,143.9L451.8,144.1L452.3,144.3L452.8,144.5L453.3,144.7L453.8,144.9L454.3,145.1L454.8,145.2L455.3,145.4L455.8,145.6L456.3,145.7L456.8,145.9L457.3,146.1L457.8,146.2L458.3,146.4L458.8,146.5L459.3,146.7L459.8,146.8L460.3,147.0L460.8,147.1L461.3,147.2L461.8,147.4L462.3,147.5L462.8,147.6L463.3,147.8L463.8,147.9L464.3,148.0L464.8,148.1L465.3,148.3L465.8,148.4L466.3,148.5L466.8,148.6L467.3,148.7L467.8,148.8L468.3,148.9L468.8,149.0L469.3,149.1L469.9,149.2L470.4,149.3L470.9,149.4L471.4,149.5L471.9,149.6L472.4,149.7L472.9,149.8L473.4,149.9L473.9,150.0L474.4,150.1L474.9,150.2L475.4,150.2L475.9,150.3L476.4,150.4L476.9,150.5L477.4,150.6L477.9,150.6L478.4,150.7L478.9,150.8L479.4,150.9L479.9,150.9L480.4,151.0L480.9,151.1L481.4,151.1L481.9,151.2L482.4,151.3L482.9,151.3L483.4,151.4L483.9,151.4L484.4,151.5L484.9,151.6L485.4,151.6L485.9,151.7L486.4,151.7L486.9,151.8L487.4,151.8L487.9,151.9L488.4,151.9L488.9,152.0L489.4,152.0L489.9,152.1L490.4,152.1L490.9,152.2L491.4,152.2L491.9,152.3L492.4,152.3L492.9,152.4L493.4,152.4L493.9,152.5L494.4,152.5L494.9,152.5L495.4,152.6L495.9,152.6L496.4,152.7L496.9,152.7L497.4,152.7L497.9,152.8L498.4,152.8L498.9,152.8L499.4,152.9L499.9,152.9L500.5,152.9L501.0,153.0L501.5,153.0L502.0,153.0L502.5,153.1L503.0,153.1L503.5,153.1L504.0,153.2L504.5,153.2L505.0,153.2L505.5,153.2L506.0,153.3L506.5,153.3L507.0,153.3L507.5,153.4L508.0,153.4L508.5,153.4L509.0,153.4L509.5,153.4L510.0,153.5L510.5,153.5L511.0,153.5L511.5,153.5L512.0,153.6L512.5,153.6L513.0,153.6L513.5,153.6L514.0,153.6L514.5,153.7L515.0,153.7L515.5,153.7" fill="none" stroke="#b000ff" stroke-width="1.3" stroke-linejoin="round" opacity="1.0"/>
<line x1="402.40" y1="318.20" x2="402.40" y2="330.20" stroke="#e600f0" stroke-width="1.0" stroke-linecap="butt"/>
<line x1="399.90" y1="318.20" x2="404.90" y2="318.20" stroke="#e600f0" stroke-width="1.0" stroke-linecap="butt"/>
<line x1="399.90" y1="330.20" x2="404.90" y2="330.20" stroke="#e600f0" stroke-width="1.0" stroke-linecap="butt"/>
<line x1="408.90" y1="352.90" x2="408.90" y2="364.90" stroke="#e600f0" stroke-width="1.0" stroke-linecap="butt"/>
<line x1="406.40" y1="352.90" x2="411.40" y2="352.90" stroke="#e600f0" stroke-width="1.0" stroke-linecap="butt"/>
<line x1="406.40" y1="364.90" x2="411.40" y2="364.90" stroke="#e600f0" stroke-width="1.0" stroke-linecap="butt"/>
<line x1="415.80" y1="356.30" x2="415.80" y2="368.30" stroke="#e600f0" stroke-width="1.0" stroke-linecap="butt"/>
<line x1="413.30" y1="356.30" x2="418.30" y2="356.30" stroke="#e600f0" stroke-width="1.0" stroke-linecap="butt"/>
<line x1="413.30" y1="368.30" x2="418.30" y2="368.30" stroke="#e600f0" stroke-width="1.0" stroke-linecap="butt"/>
<line x1="422.70" y1="355.20" x2="422.70" y2="367.20" stroke="#e600f0" stroke-width="1.0" stroke-linecap="butt"/>
<line x1="420.20" y1="355.20" x2="425.20" y2="355.20" stroke="#e600f0" stroke-width="1.0" stroke-linecap="butt"/>
<line x1="420.20" y1="367.20" x2="425.20" y2="367.20" stroke="#e600f0" stroke-width="1.0" stroke-linecap="butt"/>
<line x1="429.60" y1="358.60" x2="429.60" y2="370.60" stroke="#e600f0" stroke-width="1.0" stroke-linecap="butt"/>
<line x1="427.10" y1="358.60" x2="432.10" y2="358.60" stroke="#e600f0" stroke-width="1.0" stroke-linecap="butt"/>
<line x1="427.10" y1="370.60" x2="432.10" y2="370.60" stroke="#e600f0" stroke-width="1.0" stroke-linecap="butt"/>
<line x1="436.60" y1="356.30" x2="436.60" y2="368.30" stroke="#e600f0" stroke-width="1.0" stroke-linecap="butt"/>
<line x1="434.10" y1="356.30" x2="439.10" y2="356.30" stroke="#e600f0" stroke-width="1.0" stroke-linecap="butt"/>
<line x1="434.10" y1="368.30" x2="439.10" y2="368.30" stroke="#e600f0" stroke-width="1.0" stroke-linecap="butt"/>
<line x1="443.50" y1="357.50" x2="443.50" y2="369.50" stroke="#e600f0" stroke-width="1.0" stroke-linecap="butt"/>
<line x1="441.00" y1="357.50" x2="446.00" y2="357.50" stroke="#e600f0" stroke-width="1.0" stroke-linecap="butt"/>
<line x1="441.00" y1="369.50" x2="446.00" y2="369.50" stroke="#e600f0" stroke-width="1.0" stroke-linecap="butt"/>
<line x1="450.40" y1="359.80" x2="450.40" y2="371.80" stroke="#e600f0" stroke-width="1.0" stroke-linecap="butt"/>
<line x1="447.90" y1="359.80" x2="452.90" y2="359.80" stroke="#e600f0" stroke-width="1.0" stroke-linecap="butt"/>
<line x1="447.90" y1="371.80" x2="452.90" y2="371.80" stroke="#e600f0" stroke-width="1.0" stroke-linecap="butt"/>
<line x1="456.90" y1="355.20" x2="456.90" y2="367.20" stroke="#e600f0" stroke-width="1.0" stroke-linecap="butt"/>
<line x1="454.40" y1="355.20" x2="459.40" y2="355.20" stroke="#e600f0" stroke-width="1.0" stroke-linecap="butt"/>
<line x1="454.40" y1="367.20" x2="459.40" y2="367.20" stroke="#e600f0" stroke-width="1.0" stroke-linecap="butt"/>
<line x1="463.60" y1="360.30" x2="463.60" y2="378.30" stroke="#e600f0" stroke-width="1.0" stroke-linecap="butt"/>
<line x1="461.10" y1="360.30" x2="466.10" y2="360.30" stroke="#e600f0" stroke-width="1.0" stroke-linecap="butt"/>
<line x1="461.10" y1="378.30" x2="466.10" y2="378.30" stroke="#e600f0" stroke-width="1.0" stroke-linecap="butt"/>
<line x1="470.50" y1="357.80" x2="470.50" y2="373.80" stroke="#e600f0" stroke-width="1.0" stroke-linecap="butt"/>
<line x1="468.00" y1="357.80" x2="473.00" y2="357.80" stroke="#e600f0" stroke-width="1.0" stroke-linecap="butt"/>
<line x1="468.00" y1="373.80" x2="473.00" y2="373.80" stroke="#e600f0" stroke-width="1.0" stroke-linecap="butt"/>
<line x1="477.20" y1="358.60" x2="477.20" y2="370.60" stroke="#e600f0" stroke-width="1.0" stroke-linecap="butt"/>
<line x1="474.70" y1="358.60" x2="479.70" y2="358.60" stroke="#e600f0" stroke-width="1.0" stroke-linecap="butt"/>
<line x1="474.70" y1="370.60" x2="479.70" y2="370.60" stroke="#e600f0" stroke-width="1.0" stroke-linecap="butt"/>
<line x1="484.10" y1="357.50" x2="484.10" y2="369.50" stroke="#e600f0" stroke-width="1.0" stroke-linecap="butt"/>
<line x1="481.60" y1="357.50" x2="486.60" y2="357.50" stroke="#e600f0" stroke-width="1.0" stroke-linecap="butt"/>
<line x1="481.60" y1="369.50" x2="486.60" y2="369.50" stroke="#e600f0" stroke-width="1.0" stroke-linecap="butt"/>
<line x1="490.80" y1="355.60" x2="490.80" y2="373.60" stroke="#e600f0" stroke-width="1.0" stroke-linecap="butt"/>
<line x1="488.30" y1="355.60" x2="493.30" y2="355.60" stroke="#e600f0" stroke-width="1.0" stroke-linecap="butt"/>
<line x1="488.30" y1="373.60" x2="493.30" y2="373.60" stroke="#e600f0" stroke-width="1.0" stroke-linecap="butt"/>
<line x1="497.80" y1="361.80" x2="497.80" y2="375.80" stroke="#e600f0" stroke-width="1.0" stroke-linecap="butt"/>
<line x1="495.30" y1="361.80" x2="500.30" y2="361.80" stroke="#e600f0" stroke-width="1.0" stroke-linecap="butt"/>
<line x1="495.30" y1="375.80" x2="500.30" y2="375.80" stroke="#e600f0" stroke-width="1.0" stroke-linecap="butt"/>
<line x1="504.50" y1="354.00" x2="504.50" y2="366.00" stroke="#e600f0" stroke-width="1.0" stroke-linecap="butt"/>
<line x1="502.00" y1="354.00" x2="507.00" y2="354.00" stroke="#e600f0" stroke-width="1.0" stroke-linecap="butt"/>
<line x1="502.00" y1="366.00" x2="507.00" y2="366.00" stroke="#e600f0" stroke-width="1.0" stroke-linecap="butt"/>
<line x1="511.20" y1="352.70" x2="511.20" y2="362.70" stroke="#e600f0" stroke-width="1.0" stroke-linecap="butt"/>
<line x1="508.70" y1="352.70" x2="513.70" y2="352.70" stroke="#e600f0" stroke-width="1.0" stroke-linecap="butt"/>
<line x1="508.70" y1="362.70" x2="513.70" y2="362.70" stroke="#e600f0" stroke-width="1.0" stroke-linecap="butt"/>
<circle cx="402.40" cy="324.20" r="3.2" fill="#e600f0"/>
<circle cx="408.90" cy="358.90" r="3.2" fill="#e600f0"/>
<circle cx="415.80" cy="362.30" r="3.2" fill="#e600f0"/>
<circle cx="422.70" cy="361.20" r="3.2" fill="#e600f0"/>
<circle cx="429.60" cy="364.60" r="3.2" fill="#e600f0"/>
<circle cx="436.60" cy="362.30" r="3.2" fill="#e600f0"/>
<circle cx="443.50" cy="363.50" r="3.2" fill="#e600f0"/>
<circle cx="450.40" cy="365.80" r="3.2" fill="#e600f0"/>
<circle cx="456.90" cy="361.20" r="3.2" fill="#e600f0"/>
<circle cx="463.60" cy="369.30" r="3.2" fill="#e600f0"/>
<circle cx="470.50" cy="365.80" r="3.2" fill="#e600f0"/>
<circle cx="477.20" cy="364.60" r="3.2" fill="#e600f0"/>
<circle cx="484.10" cy="363.50" r="3.2" fill="#e600f0"/>
<circle cx="490.80" cy="364.60" r="3.2" fill="#e600f0"/>
<circle cx="497.80" cy="368.80" r="3.2" fill="#e600f0"/>
<circle cx="504.50" cy="360.00" r="3.2" fill="#e600f0"/>
<circle cx="511.20" cy="357.70" r="3.2" fill="#e600f0"/>
<line x1="402.40" y1="320.70" x2="402.40" y2="334.70" stroke="#0a14ff" stroke-width="1.0" stroke-linecap="butt"/>
<line x1="399.90" y1="320.70" x2="404.90" y2="320.70" stroke="#0a14ff" stroke-width="1.0" stroke-linecap="butt"/>
<line x1="399.90" y1="334.70" x2="404.90" y2="334.70" stroke="#0a14ff" stroke-width="1.0" stroke-linecap="butt"/>
<line x1="407.70" y1="361.10" x2="407.70" y2="375.10" stroke="#0a14ff" stroke-width="1.0" stroke-linecap="butt"/>
<line x1="405.20" y1="361.10" x2="410.20" y2="361.10" stroke="#0a14ff" stroke-width="1.0" stroke-linecap="butt"/>
<line x1="405.20" y1="375.10" x2="410.20" y2="375.10" stroke="#0a14ff" stroke-width="1.0" stroke-linecap="butt"/>
<line x1="413.90" y1="365.90" x2="413.90" y2="381.90" stroke="#0a14ff" stroke-width="1.0" stroke-linecap="butt"/>
<line x1="411.40" y1="365.90" x2="416.40" y2="365.90" stroke="#0a14ff" stroke-width="1.0" stroke-linecap="butt"/>
<line x1="411.40" y1="381.90" x2="416.40" y2="381.90" stroke="#0a14ff" stroke-width="1.0" stroke-linecap="butt"/>
<line x1="419.90" y1="371.50" x2="419.90" y2="385.50" stroke="#0a14ff" stroke-width="1.0" stroke-linecap="butt"/>
<line x1="417.40" y1="371.50" x2="422.40" y2="371.50" stroke="#0a14ff" stroke-width="1.0" stroke-linecap="butt"/>
<line x1="417.40" y1="385.50" x2="422.40" y2="385.50" stroke="#0a14ff" stroke-width="1.0" stroke-linecap="butt"/>
<line x1="425.50" y1="374.00" x2="425.50" y2="390.00" stroke="#0a14ff" stroke-width="1.0" stroke-linecap="butt"/>
<line x1="423.00" y1="374.00" x2="428.00" y2="374.00" stroke="#0a14ff" stroke-width="1.0" stroke-linecap="butt"/>
<line x1="423.00" y1="390.00" x2="428.00" y2="390.00" stroke="#0a14ff" stroke-width="1.0" stroke-linecap="butt"/>
<line x1="431.50" y1="382.00" x2="431.50" y2="398.00" stroke="#0a14ff" stroke-width="1.0" stroke-linecap="butt"/>
<line x1="429.00" y1="382.00" x2="434.00" y2="382.00" stroke="#0a14ff" stroke-width="1.0" stroke-linecap="butt"/>
<line x1="429.00" y1="398.00" x2="434.00" y2="398.00" stroke="#0a14ff" stroke-width="1.0" stroke-linecap="butt"/>
<line x1="437.70" y1="379.70" x2="437.70" y2="395.70" stroke="#0a14ff" stroke-width="1.0" stroke-linecap="butt"/>
<line x1="435.20" y1="379.70" x2="440.20" y2="379.70" stroke="#0a14ff" stroke-width="1.0" stroke-linecap="butt"/>
<line x1="435.20" y1="395.70" x2="440.20" y2="395.70" stroke="#0a14ff" stroke-width="1.0" stroke-linecap="butt"/>
<line x1="443.50" y1="382.50" x2="443.50" y2="398.50" stroke="#0a14ff" stroke-width="1.0" stroke-linecap="butt"/>
<line x1="441.00" y1="382.50" x2="446.00" y2="382.50" stroke="#0a14ff" stroke-width="1.0" stroke-linecap="butt"/>
<line x1="441.00" y1="398.50" x2="446.00" y2="398.50" stroke="#0a14ff" stroke-width="1.0" stroke-linecap="butt"/>
<line x1="449.70" y1="380.90" x2="449.70" y2="396.90" stroke="#0a14ff" stroke-width="1.0" stroke-linecap="butt"/>
<line x1="447.20" y1="380.90" x2="452.20" y2="380.90" stroke="#0a14ff" stroke-width="1.0" stroke-linecap="butt"/>
<line x1="447.20" y1="396.90" x2="452.20" y2="396.90" stroke="#0a14ff" stroke-width="1.0" stroke-linecap="butt"/>
<line x1="455.50" y1="379.70" x2="455.50" y2="395.70" stroke="#0a14ff" stroke-width="1.0" stroke-linecap="butt"/>
<line x1="453.00" y1="379.70" x2="458.00" y2="379.70" stroke="#0a14ff" stroke-width="1.0" stroke-linecap="butt"/>
<line x1="453.00" y1="395.70" x2="458.00" y2="395.70" stroke="#0a14ff" stroke-width="1.0" stroke-linecap="butt"/>
<line x1="461.30" y1="380.20" x2="461.30" y2="396.20" stroke="#0a14ff" stroke-width="1.0" stroke-linecap="butt"/>
<line x1="458.80" y1="380.20" x2="463.80" y2="380.20" stroke="#0a14ff" stroke-width="1.0" stroke-linecap="butt"/>
<line x1="458.80" y1="396.20" x2="463.80" y2="396.20" stroke="#0a14ff" stroke-width="1.0" stroke-linecap="butt"/>
<line x1="467.00" y1="382.50" x2="467.00" y2="398.50" stroke="#0a14ff" stroke-width="1.0" stroke-linecap="butt"/>
<line x1="464.50" y1="382.50" x2="469.50" y2="382.50" stroke="#0a14ff" stroke-width="1.0" stroke-linecap="butt"/>
<line x1="464.50" y1="398.50" x2="469.50" y2="398.50" stroke="#0a14ff" stroke-width="1.0" stroke-linecap="butt"/>
<line x1="472.80" y1="380.90" x2="472.80" y2="396.90" stroke="#0a14ff" stroke-width="1.0" stroke-linecap="butt"/>
<line x1="470.30" y1="380.90" x2="475.30" y2="380.90" stroke="#0a14ff" stroke-width="1.0" stroke-linecap="butt"/>
<line x1="470.30" y1="396.90" x2="475.30" y2="396.90" stroke="#0a14ff" stroke-width="1.0" stroke-linecap="butt"/>
<line x1="478.60" y1="377.90" x2="478.60" y2="393.90" stroke="#0a14ff" stroke-width="1.0" stroke-linecap="butt"/>
<line x1="476.10" y1="377.90" x2="481.10" y2="377.90" stroke="#0a14ff" stroke-width="1.0" stroke-linecap="butt"/>
<line x1="476.10" y1="393.90" x2="481.10" y2="393.90" stroke="#0a14ff" stroke-width="1.0" stroke-linecap="butt"/>
<line x1="484.60" y1="385.20" x2="484.60" y2="403.20" stroke="#0a14ff" stroke-width="1.0" stroke-linecap="butt"/>
<line x1="482.10" y1="385.20" x2="487.10" y2="385.20" stroke="#0a14ff" stroke-width="1.0" stroke-linecap="butt"/>
<line x1="482.10" y1="403.20" x2="487.10" y2="403.20" stroke="#0a14ff" stroke-width="1.0" stroke-linecap="butt"/>
<line x1="489.70" y1="385.70" x2="489.70" y2="403.70" stroke="#0a14ff" stroke-width="1.0" stroke-linecap="butt"/>
<line x1="487.20" y1="385.70" x2="492.20" y2="385.70" stroke="#0a14ff" stroke-width="1.0" stroke-linecap="butt"/>
<line x1="487.20" y1="403.70" x2="492.20" y2="403.70" stroke="#0a14ff" stroke-width="1.0" stroke-linecap="butt"/>
<line x1="495.90" y1="381.90" x2="495.90" y2="401.90" stroke="#0a14ff" stroke-width="1.0" stroke-linecap="butt"/>
<line x1="493.40" y1="381.90" x2="498.40" y2="381.90" stroke="#0a14ff" stroke-width="1.0" stroke-linecap="butt"/>
<line x1="493.40" y1="401.90" x2="498.40" y2="401.90" stroke="#0a14ff" stroke-width="1.0" stroke-linecap="butt"/>
<line x1="501.70" y1="382.80" x2="501.70" y2="402.80" stroke="#0a14ff" stroke-width="1.0" stroke-linecap="butt"/>
<line x1="499.20" y1="382.80" x2="504.20" y2="382.80" stroke="#0a14ff" stroke-width="1.0" stroke-linecap="butt"/>
<line x1="499.20" y1="402.80" x2="504.20" y2="402.80" stroke="#0a14ff" stroke-width="1.0" stroke-linecap="butt"/>
<line x1="507.70" y1="381.90" x2="507.70" y2="401.90" stroke="#0a14ff" stroke-width="1.0" stroke-linecap="butt"/>
<line x1="505.20" y1="381.90" x2="510.20" y2="381.90" stroke="#0a14ff" stroke-width="1.0" stroke-linecap="butt"/>
<line x1="505.20" y1="401.90" x2="510.20" y2="401.90" stroke="#0a14ff" stroke-width="1.0" stroke-linecap="butt"/>
<line x1="512.80" y1="386.40" x2="512.80" y2="408.40" stroke="#0a14ff" stroke-width="1.0" stroke-linecap="butt"/>
<line x1="510.30" y1="386.40" x2="515.30" y2="386.40" stroke="#0a14ff" stroke-width="1.0" stroke-linecap="butt"/>
<line x1="510.30" y1="408.40" x2="515.30" y2="408.40" stroke="#0a14ff" stroke-width="1.0" stroke-linecap="butt"/>
<circle cx="402.40" cy="327.70" r="3.2" fill="#0a14ff"/>
<circle cx="407.70" cy="368.10" r="3.2" fill="#0a14ff"/>
<circle cx="413.90" cy="373.90" r="3.2" fill="#0a14ff"/>
<circle cx="419.90" cy="378.50" r="3.2" fill="#0a14ff"/>
<circle cx="425.50" cy="382.00" r="3.2" fill="#0a14ff"/>
<circle cx="431.50" cy="390.00" r="3.2" fill="#0a14ff"/>
<circle cx="437.70" cy="387.70" r="3.2" fill="#0a14ff"/>
<circle cx="443.50" cy="390.50" r="3.2" fill="#0a14ff"/>
<circle cx="449.70" cy="388.90" r="3.2" fill="#0a14ff"/>
<circle cx="455.50" cy="387.70" r="3.2" fill="#0a14ff"/>
<circle cx="461.30" cy="388.20" r="3.2" fill="#0a14ff"/>
<circle cx="467.00" cy="390.50" r="3.2" fill="#0a14ff"/>
<circle cx="472.80" cy="388.90" r="3.2" fill="#0a14ff"/>
<circle cx="478.60" cy="385.90" r="3.2" fill="#0a14ff"/>
<circle cx="484.60" cy="394.20" r="3.2" fill="#0a14ff"/>
<circle cx="489.70" cy="394.70" r="3.2" fill="#0a14ff"/>
<circle cx="495.90" cy="391.90" r="3.2" fill="#0a14ff"/>
<circle cx="501.70" cy="392.80" r="3.2" fill="#0a14ff"/>
<circle cx="507.70" cy="391.90" r="3.2" fill="#0a14ff"/>
<circle cx="512.80" cy="397.40" r="3.2" fill="#0a14ff"/>
<line x1="402.40" y1="329.60" x2="402.40" y2="339.60" stroke="#e01010" stroke-width="1.0" stroke-linecap="butt"/>
<line x1="399.90" y1="329.60" x2="404.90" y2="329.60" stroke="#e01010" stroke-width="1.0" stroke-linecap="butt"/>
<line x1="399.90" y1="339.60" x2="404.90" y2="339.60" stroke="#e01010" stroke-width="1.0" stroke-linecap="butt"/>
<line x1="407.00" y1="367.70" x2="407.00" y2="377.70" stroke="#e01010" stroke-width="1.0" stroke-linecap="butt"/>
<line x1="404.50" y1="367.70" x2="409.50" y2="367.70" stroke="#e01010" stroke-width="1.0" stroke-linecap="butt"/>
<line x1="404.50" y1="377.70" x2="409.50" y2="377.70" stroke="#e01010" stroke-width="1.0" stroke-linecap="butt"/>
<line x1="413.00" y1="388.40" x2="413.00" y2="398.40" stroke="#e01010" stroke-width="1.0" stroke-linecap="butt"/>
<line x1="410.50" y1="388.40" x2="415.50" y2="388.40" stroke="#e01010" stroke-width="1.0" stroke-linecap="butt"/>
<line x1="410.50" y1="398.40" x2="415.50" y2="398.40" stroke="#e01010" stroke-width="1.0" stroke-linecap="butt"/>
<line x1="418.10" y1="402.30" x2="418.10" y2="412.30" stroke="#e01010" stroke-width="1.0" stroke-linecap="butt"/>
<line x1="415.60" y1="402.30" x2="420.60" y2="402.30" stroke="#e01010" stroke-width="1.0" stroke-linecap="butt"/>
<line x1="415.60" y1="412.30" x2="420.60" y2="412.30" stroke="#e01010" stroke-width="1.0" stroke-linecap="butt"/>
<line x1="423.90" y1="407.20" x2="423.90" y2="415.20" stroke="#e01010" stroke-width="1.0" stroke-linecap="butt"/>
<line x1="421.40" y1="407.20" x2="426.40" y2="407.20" stroke="#e01010" stroke-width="1.0" stroke-linecap="butt"/>
<line x1="421.40" y1="415.20" x2="426.40" y2="415.20" stroke="#e01010" stroke-width="1.0" stroke-linecap="butt"/>
<line x1="429.60" y1="410.60" x2="429.60" y2="418.60" stroke="#e01010" stroke-width="1.0" stroke-linecap="butt"/>
<line x1="427.10" y1="410.60" x2="432.10" y2="410.60" stroke="#e01010" stroke-width="1.0" stroke-linecap="butt"/>
<line x1="427.10" y1="418.60" x2="432.10" y2="418.60" stroke="#e01010" stroke-width="1.0" stroke-linecap="butt"/>
<line x1="434.70" y1="410.60" x2="434.70" y2="418.60" stroke="#e01010" stroke-width="1.0" stroke-linecap="butt"/>
<line x1="432.20" y1="410.60" x2="437.20" y2="410.60" stroke="#e01010" stroke-width="1.0" stroke-linecap="butt"/>
<line x1="432.20" y1="418.60" x2="437.20" y2="418.60" stroke="#e01010" stroke-width="1.0" stroke-linecap="butt"/>
<line x1="440.00" y1="409.00" x2="440.00" y2="417.00" stroke="#e01010" stroke-width="1.0" stroke-linecap="butt"/>
<line x1="437.50" y1="409.00" x2="442.50" y2="409.00" stroke="#e01010" stroke-width="1.0" stroke-linecap="butt"/>
<line x1="437.50" y1="417.00" x2="442.50" y2="417.00" stroke="#e01010" stroke-width="1.0" stroke-linecap="butt"/>
<line x1="445.30" y1="413.00" x2="445.30" y2="421.00" stroke="#e01010" stroke-width="1.0" stroke-linecap="butt"/>
<line x1="442.80" y1="413.00" x2="447.80" y2="413.00" stroke="#e01010" stroke-width="1.0" stroke-linecap="butt"/>
<line x1="442.80" y1="421.00" x2="447.80" y2="421.00" stroke="#e01010" stroke-width="1.0" stroke-linecap="butt"/>
<line x1="450.40" y1="414.10" x2="450.40" y2="422.10" stroke="#e01010" stroke-width="1.0" stroke-linecap="butt"/>
<line x1="447.90" y1="414.10" x2="452.90" y2="414.10" stroke="#e01010" stroke-width="1.0" stroke-linecap="butt"/>
<line x1="447.90" y1="422.10" x2="452.90" y2="422.10" stroke="#e01010" stroke-width="1.0" stroke-linecap="butt"/>
<line x1="455.50" y1="413.00" x2="455.50" y2="421.00" stroke="#e01010" stroke-width="1.0" stroke-linecap="butt"/>
<line x1="453.00" y1="413.00" x2="458.00" y2="413.00" stroke="#e01010" stroke-width="1.0" stroke-linecap="butt"/>
<line x1="453.00" y1="421.00" x2="458.00" y2="421.00" stroke="#e01010" stroke-width="1.0" stroke-linecap="butt"/>
<line x1="461.50" y1="418.70" x2="461.50" y2="426.70" stroke="#e01010" stroke-width="1.0" stroke-linecap="butt"/>
<line x1="459.00" y1="418.70" x2="464.00" y2="418.70" stroke="#e01010" stroke-width="1.0" stroke-linecap="butt"/>
<line x1="459.00" y1="426.70" x2="464.00" y2="426.70" stroke="#e01010" stroke-width="1.0" stroke-linecap="butt"/>
<line x1="466.60" y1="417.10" x2="466.60" y2="425.10" stroke="#e01010" stroke-width="1.0" stroke-linecap="butt"/>
<line x1="464.10" y1="417.10" x2="469.10" y2="417.10" stroke="#e01010" stroke-width="1.0" stroke-linecap="butt"/>
<line x1="464.10" y1="425.10" x2="469.10" y2="425.10" stroke="#e01010" stroke-width="1.0" stroke-linecap="butt"/>
<line x1="472.40" y1="418.00" x2="472.40" y2="426.00" stroke="#e01010" stroke-width="1.0" stroke-linecap="butt"/>
<line x1="469.90" y1="418.00" x2="474.90" y2="418.00" stroke="#e01010" stroke-width="1.0" stroke-linecap="butt"/>
<line x1="469.90" y1="426.00" x2="474.90" y2="426.00" stroke="#e01010" stroke-width="1.0" stroke-linecap="butt"/>
<line x1="477.40" y1="417.60" x2="477.40" y2="425.60" stroke="#e01010" stroke-width="1.0" stroke-linecap="butt"/>
<line x1="474.90" y1="417.60" x2="479.90" y2="417.60" stroke="#e01010" stroke-width="1.0" stroke-linecap="butt"/>
<line x1="474.90" y1="425.60" x2="479.90" y2="425.60" stroke="#e01010" stroke-width="1.0" stroke-linecap="butt"/>
<line x1="482.30" y1="414.10" x2="482.30" y2="422.10" stroke="#e01010" stroke-width="1.0" stroke-linecap="butt"/>
<line x1="479.80" y1="414.10" x2="484.80" y2="414.10" stroke="#e01010" stroke-width="1.0" stroke-linecap="butt"/>
<line x1="479.80" y1="422.10" x2="484.80" y2="422.10" stroke="#e01010" stroke-width="1.0" stroke-linecap="butt"/>
<line x1="487.80" y1="423.30" x2="487.80" y2="431.30" stroke="#e01010" stroke-width="1.0" stroke-linecap="butt"/>
<line x1="485.30" y1="423.30" x2="490.30" y2="423.30" stroke="#e01010" stroke-width="1.0" stroke-linecap="butt"/>
<line x1="485.30" y1="431.30" x2="490.30" y2="431.30" stroke="#e01010" stroke-width="1.0" stroke-linecap="butt"/>
<line x1="493.20" y1="419.40" x2="493.20" y2="427.40" stroke="#e01010" stroke-width="1.0" stroke-linecap="butt"/>
<line x1="490.70" y1="419.40" x2="495.70" y2="419.40" stroke="#e01010" stroke-width="1.0" stroke-linecap="butt"/>
<line x1="490.70" y1="427.40" x2="495.70" y2="427.40" stroke="#e01010" stroke-width="1.0" stroke-linecap="butt"/>
<line x1="498.50" y1="418.00" x2="498.50" y2="426.00" stroke="#e01010" stroke-width="1.0" stroke-linecap="butt"/>
<line x1="496.00" y1="418.00" x2="501.00" y2="418.00" stroke="#e01010" stroke-width="1.0" stroke-linecap="butt"/>
<line x1="496.00" y1="426.00" x2="501.00" y2="426.00" stroke="#e01010" stroke-width="1.0" stroke-linecap="butt"/>
<line x1="503.50" y1="418.30" x2="503.50" y2="426.30" stroke="#e01010" stroke-width="1.0" stroke-linecap="butt"/>
<line x1="501.00" y1="418.30" x2="506.00" y2="418.30" stroke="#e01010" stroke-width="1.0" stroke-linecap="butt"/>
<line x1="501.00" y1="426.30" x2="506.00" y2="426.30" stroke="#e01010" stroke-width="1.0" stroke-linecap="butt"/>
<circle cx="402.40" cy="334.60" r="3.2" fill="#e01010"/>
<circle cx="407.00" cy="372.70" r="3.2" fill="#e01010"/>
<circle cx="413.00" cy="393.40" r="3.2" fill="#e01010"/>
<circle cx="418.10" cy="407.30" r="3.2" fill="#e01010"/>
<circle cx="423.90" cy="411.20" r="3.2" fill="#e01010"/>
<circle cx="429.60" cy="414.60" r="3.2" fill="#e01010"/>
<circle cx="434.70" cy="414.60" r="3.2" fill="#e01010"/>
<circle cx="440.00" cy="413.00" r="3.2" fill="#e01010"/>
<circle cx="445.30" cy="417.00" r="3.2" fill="#e01010"/>
<circle cx="450.40" cy="418.10" r="3.2" fill="#e01010"/>
<circle cx="455.50" cy="417.00" r="3.2" fill="#e01010"/>
<circle cx="461.50" cy="422.70" r="3.2" fill="#e01010"/>
<circle cx="466.60" cy="421.10" r="3.2" fill="#e01010"/>
<circle cx="472.40" cy="422.00" r="3.2" fill="#e01010"/>
<circle cx="477.40" cy="421.60" r="3.2" fill="#e01010"/>
<circle cx="482.30" cy="418.10" r="3.2" fill="#e01010"/>
<circle cx="487.80" cy="427.30" r="3.2" fill="#e01010"/>
<circle cx="493.20" cy="423.40" r="3.2" fill="#e01010"/>
<circle cx="498.50" cy="422.00" r="3.2" fill="#e01010"/>
<circle cx="503.50" cy="422.30" r="3.2" fill="#e01010"/>
<path d="M397.8,307.4L398.3,311.7L398.8,315.8L399.3,319.5L399.8,323.0L400.3,326.2L400.8,329.1L401.3,331.9L401.8,334.4L402.3,336.7L402.8,338.8L403.3,340.8L403.8,342.6L404.3,344.3L404.8,345.9L405.3,347.3L405.8,348.7L406.3,349.9L406.8,351.0L407.3,352.1L407.8,353.0L408.3,353.9L408.8,354.8L409.3,355.5L409.8,356.2L410.3,356.9L410.8,357.5L411.3,358.0L411.8,358.5L412.3,359.0L412.8,359.4L413.3,359.8L413.8,360.2L414.3,360.6L414.8,360.9L415.3,361.2L415.8,361.4L416.3,361.7L416.8,361.9L417.3,362.1L417.8,362.3L418.3,362.5L418.8,362.7L419.3,362.8L419.8,363.0L420.3,363.1L420.8,363.2L421.3,363.3L421.8,363.5L422.3,363.6L422.8,363.6L423.3,363.7L423.8,363.8L424.3,363.9L424.8,363.9L425.3,364.0L425.8,364.0L426.3,364.1L426.8,364.1L427.3,364.2L427.8,364.2L428.4,364.3L428.9,364.3L429.4,364.3L429.9,364.4L430.4,364.4L430.9,364.4L431.4,364.4L431.9,364.5L432.4,364.5L432.9,364.5L433.4,364.5L433.9,364.5L434.4,364.5L434.9,364.6L435.4,364.6L435.9,364.6L436.4,364.6L436.9,364.6L437.4,364.6L437.9,364.6L438.4,364.6L438.9,364.6L439.4,364.6L439.9,364.6L440.4,364.6L440.9,364.6L441.4,364.7L441.9,364.7L442.4,364.7L442.9,364.7L443.4,364.7L443.9,364.7L444.4,364.7L444.9,364.7L445.4,364.7L445.9,364.7L446.4,364.7L446.9,364.7L447.4,364.7L447.9,364.7L448.4,364.7L448.9,364.7L449.4,364.7L449.9,364.7L450.4,364.7L450.9,364.7L451.4,364.7L451.9,364.7L452.4,364.7L452.9,364.7L453.4,364.7L453.9,364.7L454.4,364.7L454.9,364.7L455.4,364.7L455.9,364.7L456.4,364.7L456.9,364.7L457.4,364.7L457.9,364.7L458.4,364.7L458.9,364.7L459.4,364.7L459.9,364.7L460.4,364.7L460.9,364.7L461.4,364.7L461.9,364.7L462.4,364.7L462.9,364.7L463.4,364.7L463.9,364.7L464.4,364.7L464.9,364.7L465.4,364.7L465.9,364.7L466.4,364.7L466.9,364.7L467.4,364.7L467.9,364.7L468.4,364.7L468.9,364.7L469.4,364.7L469.9,364.7L470.4,364.7L470.9,364.7L471.4,364.7L471.9,364.7L472.4,364.7L472.9,364.7L473.4,364.7L473.9,364.7L474.4,364.7L474.9,364.7L475.4,364.7L475.9,364.7L476.4,364.7L476.9,364.7L477.4,364.7L477.9,364.7L478.4,364.7L478.9,364.7L479.4,364.7L479.9,364.7L480.4,364.7L480.9,364.7L481.4,364.7L481.9,364.7L482.4,364.7L482.9,364.7L483.4,364.7L483.9,364.7L484.4,364.7L484.9,364.7L485.4,364.7L485.9,364.7L486.4,364.7L486.9,364.7L487.4,364.7L487.9,364.7L488.4,364.7L488.9,364.7L489.4,364.7L490.0,364.7L490.5,364.7L491.0,364.7L491.5,364.7L492.0,364.7L492.5,364.7L493.0,364.7L493.5,364.7L494.0,364.7L494.5,364.7L495.0,364.7L495.5,364.7L496.0,364.7L496.5,364.7L497.0,364.7L497.5,364.7L498.0,364.7L498.5,364.7L499.0,364.7L499.5,364.7L500.0,364.7L500.5,364.7L501.0,364.7L501.5,364.7L502.0,364.7L502.5,364.7L503.0,364.7L503.5,364.7L504.0,364.7L504.5,364.7L505.0,364.7L505.5,364.7L506.0,364.7L506.5,364.7L507.0,364.7L507.5,364.7L508.0,364.7L508.5,364.7L509.0,364.7L509.5,364.7L510.0,364.7L510.5,364.7L511.0,364.7L511.5,364.7L512.0,364.7L512.5,364.7L513.0,364.7L513.5,364.7L514.0,364.7L514.5,364.7L515.0,364.7L515.5,364.7L516.0,364.7L516.5,364.7L517.0,364.7L517.5,364.7L518.0,364.7L518.5,364.7L519.0,364.7L519.5,364.7L520.0,364.7" fill="none" stroke="#e600f0" stroke-width="1.3" stroke-linejoin="round" opacity="1.0"/>
<path d="M397.8,307.3L398.3,311.5L398.8,315.5L399.3,319.4L399.8,323.0L400.3,326.5L400.8,329.8L401.3,332.9L401.8,335.8L402.3,338.6L402.8,341.3L403.3,343.8L403.8,346.3L404.3,348.5L404.8,350.7L405.3,352.8L405.8,354.7L406.3,356.6L406.8,358.3L407.3,360.0L407.8,361.6L408.3,363.1L408.8,364.6L409.3,365.9L409.8,367.2L410.3,368.4L410.8,369.6L411.3,370.7L411.8,371.8L412.3,372.8L412.8,373.7L413.3,374.6L413.8,375.5L414.3,376.3L414.8,377.0L415.3,377.8L415.8,378.5L416.3,379.1L416.8,379.8L417.3,380.4L417.8,380.9L418.3,381.5L418.8,382.0L419.3,382.4L419.8,382.9L420.3,383.3L420.8,383.8L421.3,384.2L421.8,384.5L422.3,384.9L422.8,385.2L423.3,385.5L423.8,385.8L424.3,386.1L424.8,386.4L425.3,386.7L425.8,386.9L426.3,387.1L426.8,387.4L427.3,387.6L427.8,387.8L428.4,388.0L428.9,388.2L429.4,388.3L429.9,388.5L430.4,388.6L430.9,388.8L431.4,388.9L431.9,389.1L432.4,389.2L432.9,389.3L433.4,389.4L433.9,389.5L434.4,389.6L434.9,389.7L435.4,389.8L435.9,389.9L436.4,390.0L436.9,390.1L437.4,390.1L437.9,390.2L438.4,390.3L438.9,390.4L439.4,390.4L439.9,390.5L440.4,390.5L440.9,390.6L441.4,390.6L441.9,390.7L442.4,390.7L442.9,390.8L443.4,390.8L443.9,390.8L444.4,390.9L444.9,390.9L445.4,390.9L445.9,391.0L446.4,391.0L446.9,391.0L447.4,391.1L447.9,391.1L448.4,391.1L448.9,391.1L449.4,391.2L449.9,391.2L450.4,391.2L450.9,391.2L451.4,391.2L451.9,391.2L452.4,391.3L452.9,391.3L453.4,391.3L453.9,391.3L454.4,391.3L454.9,391.3L455.4,391.3L455.9,391.4L456.4,391.4L456.9,391.4L457.4,391.4L457.9,391.4L458.4,391.4L458.9,391.4L459.4,391.4L459.9,391.4L460.4,391.4L460.9,391.4L461.4,391.4L461.9,391.5L462.4,391.5L462.9,391.5L463.4,391.5L463.9,391.5L464.4,391.5L464.9,391.5L465.4,391.5L465.9,391.5L466.4,391.5L466.9,391.5L467.4,391.5L467.9,391.5L468.4,391.5L468.9,391.5L469.4,391.5L469.9,391.5L470.4,391.5L470.9,391.5L471.4,391.5L471.9,391.5L472.4,391.5L472.9,391.5L473.4,391.5L473.9,391.5L474.4,391.5L474.9,391.5L475.4,391.5L475.9,391.5L476.4,391.5L476.9,391.5L477.4,391.5L477.9,391.5L478.4,391.5L478.9,391.5L479.4,391.5L479.9,391.5L480.4,391.5L480.9,391.5L481.4,391.5L481.9,391.5L482.4,391.5L482.9,391.5L483.4,391.6L483.9,391.6L484.4,391.6L484.9,391.6L485.4,391.6L485.9,391.6L486.4,391.6L486.9,391.6L487.4,391.6L487.9,391.6L488.4,391.6L488.9,391.6L489.4,391.6L490.0,391.6L490.5,391.6L491.0,391.6L491.5,391.6L492.0,391.6L492.5,391.6L493.0,391.6L493.5,391.6L494.0,391.6L494.5,391.6L495.0,391.6L495.5,391.6L496.0,391.6L496.5,391.6L497.0,391.6L497.5,391.6L498.0,391.6L498.5,391.6L499.0,391.6L499.5,391.6L500.0,391.6L500.5,391.6L501.0,391.6L501.5,391.6L502.0,391.6L502.5,391.6L503.0,391.6L503.5,391.6L504.0,391.6L504.5,391.6L505.0,391.6L505.5,391.6L506.0,391.6L506.5,391.6L507.0,391.6L507.5,391.6L508.0,391.6L508.5,391.6L509.0,391.6L509.5,391.6L510.0,391.6L510.5,391.6L511.0,391.6L511.5,391.6L512.0,391.6L512.5,391.6L513.0,391.6L513.5,391.6L514.0,391.6L514.5,391.6L515.0,391.6L515.5,391.6L516.0,391.6L516.5,391.6L517.0,391.6L517.5,391.6L518.0,391.6L518.5,391.6L519.0,391.6L519.5,391.6L520.0,391.6" fill="none" stroke="#0a14ff" stroke-width="1.3" stroke-linejoin="round" opacity="1.0"/>
<path d="M397.8,307.6L398.3,312.7L398.8,317.6L399.3,322.2L399.8,326.6L400.3,330.9L400.8,334.9L401.3,338.8L401.8,342.5L402.3,346.0L402.8,349.4L403.3,352.6L403.8,355.7L404.3,358.6L404.8,361.4L405.3,364.1L405.8,366.6L406.3,369.1L406.8,371.4L407.3,373.6L407.8,375.8L408.3,377.8L408.8,379.7L409.3,381.6L409.8,383.4L410.3,385.0L410.8,386.7L411.3,388.2L411.8,389.7L412.3,391.1L412.8,392.4L413.3,393.7L413.8,394.9L414.3,396.1L414.8,397.2L415.3,398.3L415.8,399.3L416.3,400.3L416.8,401.2L417.3,402.1L417.8,402.9L418.3,403.7L418.8,404.5L419.3,405.3L419.8,406.0L420.3,406.6L420.8,407.3L421.3,407.9L421.8,408.5L422.3,409.0L422.8,409.6L423.3,410.1L423.8,410.6L424.3,411.0L424.8,411.5L425.3,411.9L425.8,412.3L426.3,412.7L426.8,413.1L427.3,413.4L427.8,413.8L428.4,414.1L428.9,414.4L429.4,414.7L429.9,415.0L430.4,415.2L430.9,415.5L431.4,415.7L431.9,416.0L432.4,416.2L432.9,416.4L433.4,416.6L433.9,416.8L434.4,417.0L434.9,417.2L435.4,417.3L435.9,417.5L436.4,417.7L436.9,417.8L437.4,417.9L437.9,418.1L438.4,418.2L438.9,418.3L439.4,418.4L439.9,418.6L440.4,418.7L440.9,418.8L441.4,418.9L441.9,419.0L442.4,419.0L442.9,419.1L443.4,419.2L443.9,419.3L444.4,419.4L444.9,419.4L445.4,419.5L445.9,419.6L446.4,419.6L446.9,419.7L447.4,419.7L447.9,419.8L448.4,419.8L448.9,419.9L449.4,419.9L449.9,420.0L450.4,420.0L450.9,420.1L451.4,420.1L451.9,420.1L452.4,420.2L452.9,420.2L453.4,420.3L453.9,420.3L454.4,420.3L454.9,420.3L455.4,420.4L455.9,420.4L456.4,420.4L456.9,420.4L457.4,420.5L457.9,420.5L458.4,420.5L458.9,420.5L459.4,420.5L459.9,420.6L460.4,420.6L460.9,420.6L461.4,420.6L461.9,420.6L462.4,420.6L462.9,420.7L463.4,420.7L463.9,420.7L464.4,420.7L464.9,420.7L465.4,420.7L465.9,420.7L466.4,420.7L466.9,420.7L467.4,420.7L467.9,420.8L468.4,420.8L468.9,420.8L469.4,420.8L469.9,420.8L470.4,420.8L470.9,420.8L471.4,420.8L471.9,420.8L472.4,420.8L472.9,420.8L473.4,420.8L473.9,420.8L474.4,420.8L474.9,420.8L475.4,420.8L475.9,420.9L476.4,420.9L476.9,420.9L477.4,420.9L477.9,420.9L478.4,420.9L478.9,420.9L479.4,420.9L479.9,420.9L480.4,420.9L480.9,420.9L481.4,420.9L481.9,420.9L482.4,420.9L482.9,420.9L483.4,420.9L483.9,420.9L484.4,420.9L484.9,420.9L485.4,420.9L485.9,420.9L486.4,420.9L486.9,420.9L487.4,420.9L487.9,420.9L488.4,420.9L488.9,420.9L489.4,420.9L490.0,420.9L490.5,420.9L491.0,420.9L491.5,420.9L492.0,420.9L492.5,420.9L493.0,420.9L493.5,420.9L494.0,420.9L494.5,420.9L495.0,420.9L495.5,420.9L496.0,420.9L496.5,420.9L497.0,420.9L497.5,420.9L498.0,420.9L498.5,420.9L499.0,420.9L499.5,420.9L500.0,420.9L500.5,420.9L501.0,420.9L501.5,420.9L502.0,420.9L502.5,420.9L503.0,420.9L503.5,420.9L504.0,420.9L504.5,420.9L505.0,420.9L505.5,420.9L506.0,420.9L506.5,420.9L507.0,420.9L507.5,420.9L508.0,420.9L508.5,420.9L509.0,420.9L509.5,420.9L510.0,420.9L510.5,420.9L511.0,420.9L511.5,420.9L512.0,420.9L512.5,420.9L513.0,420.9L513.5,420.9L514.0,420.9L514.5,420.9L515.0,420.9L515.5,420.9L516.0,420.9L516.5,420.9L517.0,420.9L517.5,420.9L518.0,420.9L518.5,420.9L519.0,420.9L519.5,420.9L520.0,420.9" fill="none" stroke="#e01010" stroke-width="1.3" stroke-linejoin="round" opacity="1.0"/>
</svg></body></html>
